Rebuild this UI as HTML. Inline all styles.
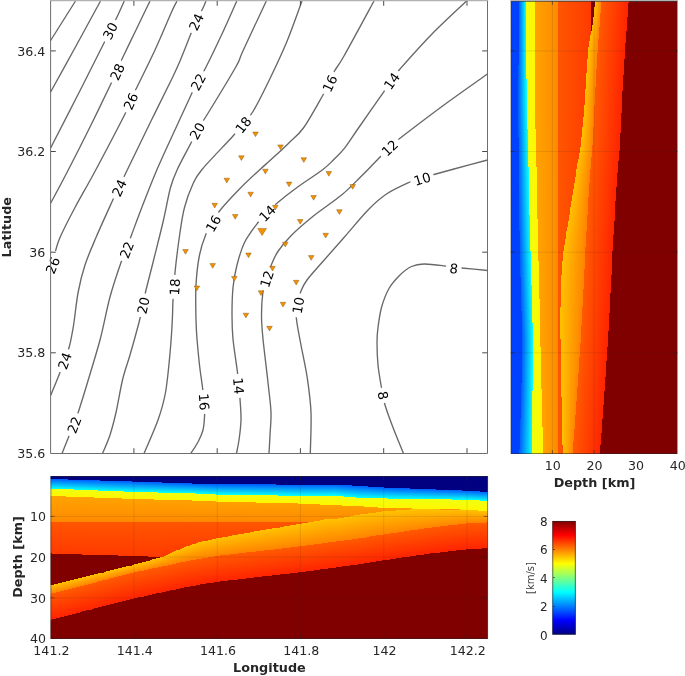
<!DOCTYPE html>
<html lang="en"><head><meta charset="utf-8"><title>Velocity model</title>
<style>
html,body{margin:0;padding:0;background:#fff}
body{width:685px;height:676px;position:relative;overflow:hidden;font-family:"DejaVu Sans","Liberation Sans",sans-serif}
#rp{position:absolute;left:510px;top:1px;width:168px;height:453px;overflow:hidden}
#rp i{display:block;width:100%}
#bp{position:absolute;left:50px;top:476px;width:438px;height:163px;overflow:hidden;display:flex}
#bp i{display:block;height:100%;flex:none}
svg{position:absolute;left:0;top:0;font-family:"DejaVu Sans","Liberation Sans",sans-serif}
</style></head><body>
<div id="rp">
<i style="height:2px;background:linear-gradient(90deg,#ffffff 0.0px,#ffffff 0.7px,#0040ff 0.7px,#0040ff 9.0px,#0060ff 9.0px,#08fff7 15.6px,#f0ff0f 15.6px,#fff600 24.8px,#ffa300 24.8px,#ff8a00 48.0px,#ff5600 48.0px,#ff3a00 81.3px,#800000 81.3px,#800000 84.9px,#ffc200 84.9px,#ff8400 91.3px,#ff5a00 91.3px,#ff2400 118.6px,#800000 118.6px,#800000 167.5px,#ffffff 167.5px,#ffffff 168.0px)"></i>
<i style="height:2px;background:linear-gradient(90deg,#ffffff 0.0px,#ffffff 0.7px,#0040ff 0.7px,#0040ff 9.0px,#0060ff 9.0px,#08fff7 15.6px,#f0ff0f 15.6px,#fff600 24.8px,#ffa300 24.8px,#ff8a00 48.0px,#ff5600 48.0px,#ff3a00 81.3px,#800000 81.3px,#800000 84.8px,#ffc200 84.8px,#ff8400 91.2px,#ff5a00 91.2px,#ff2400 118.5px,#800000 118.5px,#800000 167.5px,#ffffff 167.5px,#ffffff 168.0px)"></i>
<i style="height:2px;background:linear-gradient(90deg,#ffffff 0.0px,#ffffff 0.7px,#0040ff 0.7px,#0040ff 9.0px,#0060ff 9.0px,#08fff7 15.7px,#f0ff0f 15.7px,#fff600 24.8px,#ffa300 24.8px,#ff8a00 48.0px,#ff5600 48.0px,#ff3a00 81.3px,#800000 81.3px,#800000 84.6px,#ffc200 84.6px,#ff8400 91.0px,#ff5a00 91.0px,#ff2400 118.3px,#800000 118.3px,#800000 167.5px,#ffffff 167.5px,#ffffff 168.0px)"></i>
<i style="height:2px;background:linear-gradient(90deg,#ffffff 0.0px,#ffffff 0.7px,#0040ff 0.7px,#0040ff 9.0px,#0060ff 9.0px,#08fff7 15.7px,#f0ff0f 15.7px,#fff600 24.8px,#ffa300 24.8px,#ff8a00 48.0px,#ff5600 48.0px,#ff3a00 81.3px,#800000 81.3px,#800000 84.4px,#ffc200 84.4px,#ff8400 90.9px,#ff5a00 90.9px,#ff2400 118.2px,#800000 118.2px,#800000 167.5px,#ffffff 167.5px,#ffffff 168.0px)"></i>
<i style="height:2px;background:linear-gradient(90deg,#ffffff 0.0px,#ffffff 0.7px,#0040ff 0.7px,#0040ff 8.9px,#0060ff 8.9px,#08fff7 15.7px,#f0ff0f 15.7px,#fff600 24.8px,#ffa300 24.8px,#ff8a00 48.0px,#ff5600 48.0px,#ff3a00 81.3px,#800000 81.3px,#800000 84.3px,#ffc200 84.3px,#ff8400 90.7px,#ff5a00 90.7px,#ff2400 118.0px,#800000 118.0px,#800000 167.5px,#ffffff 167.5px,#ffffff 168.0px)"></i>
<i style="height:2px;background:linear-gradient(90deg,#ffffff 0.0px,#ffffff 0.7px,#0040ff 0.7px,#0040ff 8.9px,#0060ff 8.9px,#08fff7 15.7px,#f0ff0f 15.7px,#fff600 24.8px,#ffa300 24.8px,#ff8a00 48.0px,#ff5600 48.0px,#ff3a00 81.3px,#800000 81.3px,#800000 84.1px,#ffc200 84.1px,#ff8400 90.6px,#ff5a00 90.6px,#ff2400 117.9px,#800000 117.9px,#800000 167.5px,#ffffff 167.5px,#ffffff 168.0px)"></i>
<i style="height:2px;background:linear-gradient(90deg,#ffffff 0.0px,#ffffff 0.7px,#0040ff 0.7px,#0040ff 8.9px,#0060ff 8.9px,#08fff7 15.8px,#f0ff0f 15.8px,#fff600 24.8px,#ffa300 24.8px,#ff8a00 48.0px,#ff5600 48.0px,#ff3a00 81.3px,#800000 81.3px,#800000 83.9px,#ffc200 83.9px,#ff8400 90.4px,#ff5a00 90.4px,#ff2400 117.7px,#800000 117.7px,#800000 167.5px,#ffffff 167.5px,#ffffff 168.0px)"></i>
<i style="height:2px;background:linear-gradient(90deg,#ffffff 0.0px,#ffffff 0.7px,#0040ff 0.7px,#0040ff 8.9px,#0060ff 8.9px,#08fff7 15.8px,#f0ff0f 15.8px,#fff600 24.8px,#ffa300 24.8px,#ff8a00 48.0px,#ff5600 48.0px,#ff3a00 81.3px,#800000 81.3px,#800000 83.6px,#ffc200 83.6px,#ff8400 90.3px,#ff5a00 90.3px,#ff2400 117.6px,#800000 117.6px,#800000 167.5px,#ffffff 167.5px,#ffffff 168.0px)"></i>
<i style="height:2px;background:linear-gradient(90deg,#ffffff 0.0px,#ffffff 0.7px,#0040ff 0.7px,#0040ff 8.9px,#0060ff 8.9px,#08fff7 15.8px,#f0ff0f 15.8px,#fff600 24.8px,#ffa300 24.8px,#ff8a00 48.0px,#ff5600 48.0px,#ff3a00 81.3px,#800000 81.3px,#800000 83.4px,#ffc200 83.4px,#ff8400 90.1px,#ff5a00 90.1px,#ff2400 117.4px,#800000 117.4px,#800000 167.5px,#ffffff 167.5px,#ffffff 168.0px)"></i>
<i style="height:2px;background:linear-gradient(90deg,#ffffff 0.0px,#ffffff 0.7px,#0040ff 0.7px,#0040ff 8.9px,#0060ff 8.9px,#08fff7 15.8px,#f0ff0f 15.8px,#fff600 24.8px,#ffa300 24.8px,#ff8a00 48.0px,#ff5600 48.0px,#ff3a00 81.3px,#800000 81.3px,#800000 83.1px,#ffc200 83.1px,#ff8400 90.0px,#ff5a00 90.0px,#ff2400 117.3px,#800000 117.3px,#800000 167.5px,#ffffff 167.5px,#ffffff 168.0px)"></i>
<i style="height:2px;background:linear-gradient(90deg,#ffffff 0.0px,#ffffff 0.7px,#0040ff 0.7px,#0040ff 8.9px,#0060ff 8.9px,#08fff7 15.9px,#f0ff0f 15.9px,#fff600 24.8px,#ffa300 24.8px,#ff8a00 48.0px,#ff5600 48.0px,#ff3a00 81.3px,#800000 81.3px,#800000 82.9px,#ffc200 82.9px,#ff8400 89.8px,#ff5a00 89.8px,#ff2400 117.1px,#800000 117.1px,#800000 167.5px,#ffffff 167.5px,#ffffff 168.0px)"></i>
<i style="height:2px;background:linear-gradient(90deg,#ffffff 0.0px,#ffffff 0.7px,#0040ff 0.7px,#0040ff 8.8px,#0060ff 8.8px,#08fff7 15.9px,#f0ff0f 15.9px,#fff600 24.8px,#ffa300 24.8px,#ff8a00 48.0px,#ff5600 48.0px,#ff3a00 81.3px,#800000 81.3px,#800000 82.6px,#ffc200 82.6px,#ff8400 89.7px,#ff5a00 89.7px,#ff2400 117.0px,#800000 117.0px,#800000 167.5px,#ffffff 167.5px,#ffffff 168.0px)"></i>
<i style="height:2px;background:linear-gradient(90deg,#ffffff 0.0px,#ffffff 0.7px,#0040ff 0.7px,#0040ff 8.8px,#0060ff 8.8px,#08fff7 15.9px,#f0ff0f 15.9px,#fff600 24.8px,#ffa300 24.8px,#ff8a00 48.0px,#ff5600 48.0px,#ff3a00 81.3px,#800000 81.3px,#800000 82.2px,#ffc200 82.2px,#ff8400 89.6px,#ff5a00 89.6px,#ff2400 116.9px,#800000 116.9px,#800000 167.5px,#ffffff 167.5px,#ffffff 168.0px)"></i>
<i style="height:2px;background:linear-gradient(90deg,#ffffff 0.0px,#ffffff 0.7px,#0040ff 0.7px,#0040ff 8.8px,#0060ff 8.8px,#08fff7 15.9px,#f0ff0f 15.9px,#fff600 24.8px,#ffa300 24.8px,#ff8a00 48.0px,#ff5600 48.0px,#ff3a00 81.3px,#800000 81.3px,#800000 81.9px,#ffc200 81.9px,#ff8400 89.4px,#ff5a00 89.4px,#ff2400 116.7px,#800000 116.7px,#800000 167.5px,#ffffff 167.5px,#ffffff 168.0px)"></i>
<i style="height:2px;background:linear-gradient(90deg,#ffffff 0.0px,#ffffff 0.7px,#0040ff 0.7px,#0040ff 8.8px,#0060ff 8.8px,#08fff7 16.0px,#f0ff0f 16.0px,#fff600 24.8px,#ffa300 24.8px,#ff8a00 48.0px,#ff5600 48.0px,#ff3a00 81.3px,#800000 81.3px,#800000 81.6px,#ffc200 81.6px,#ff8400 89.3px,#ff5a00 89.3px,#ff2400 116.6px,#800000 116.6px,#800000 167.5px,#ffffff 167.5px,#ffffff 168.0px)"></i>
<i style="height:2px;background:linear-gradient(90deg,#ffffff 0.0px,#ffffff 0.7px,#0040ff 0.7px,#0040ff 8.8px,#0060ff 8.8px,#08fff7 16.0px,#f0ff0f 16.0px,#fff600 24.8px,#ffa300 24.8px,#ff8a00 48.0px,#ff5600 48.0px,#ff3a00 81.2px,#ffc200 81.2px,#ff8400 89.1px,#ff5a00 89.1px,#ff2400 116.4px,#800000 116.4px,#800000 167.5px,#ffffff 167.5px,#ffffff 168.0px)"></i>
<i style="height:2px;background:linear-gradient(90deg,#ffffff 0.0px,#ffffff 0.7px,#0040ff 0.7px,#0040ff 8.8px,#0060ff 8.8px,#08fff7 16.0px,#f0ff0f 16.0px,#fff600 24.8px,#ffa300 24.8px,#ff8a00 48.0px,#ff5600 48.0px,#ff3a00 80.9px,#ffc200 80.9px,#ff8400 89.0px,#ff5a00 89.0px,#ff2400 116.3px,#800000 116.3px,#800000 167.5px,#ffffff 167.5px,#ffffff 168.0px)"></i>
<i style="height:2px;background:linear-gradient(90deg,#ffffff 0.0px,#ffffff 0.7px,#0040ff 0.7px,#0040ff 8.8px,#0060ff 8.8px,#08fff7 16.0px,#f0ff0f 16.0px,#fff600 24.8px,#ffa300 24.8px,#ff8a00 48.0px,#ff5600 48.0px,#ff3b00 80.5px,#ffc200 80.5px,#ff8400 88.8px,#ff5a00 88.8px,#ff2400 116.1px,#800000 116.1px,#800000 167.5px,#ffffff 167.5px,#ffffff 168.0px)"></i>
<i style="height:2px;background:linear-gradient(90deg,#ffffff 0.0px,#ffffff 0.7px,#0040ff 0.7px,#0040ff 8.7px,#0060ff 8.7px,#08fff7 16.0px,#f0ff0f 16.0px,#fff600 24.8px,#ffa300 24.8px,#ff8a00 48.0px,#ff5600 48.0px,#ff3b00 80.2px,#ffc200 80.2px,#ff8400 88.7px,#ff5a00 88.7px,#ff2400 116.0px,#800000 116.0px,#800000 167.5px,#ffffff 167.5px,#ffffff 168.0px)"></i>
<i style="height:2px;background:linear-gradient(90deg,#ffffff 0.0px,#ffffff 0.7px,#0040ff 0.7px,#0040ff 8.7px,#0060ff 8.7px,#08fff7 16.1px,#f0ff0f 16.1px,#fff600 24.8px,#ffa300 24.8px,#ff8a00 48.0px,#ff5600 48.0px,#ff3b00 79.9px,#ffc200 79.9px,#ff8400 88.5px,#ff5a00 88.5px,#ff2400 115.8px,#800000 115.8px,#800000 167.5px,#ffffff 167.5px,#ffffff 168.0px)"></i>
<i style="height:2px;background:linear-gradient(90deg,#ffffff 0.0px,#ffffff 0.7px,#0040ff 0.7px,#0040ff 8.7px,#0060ff 8.7px,#08fff7 16.1px,#f0ff0f 16.1px,#fff600 24.8px,#ffa300 24.8px,#ff8a00 48.0px,#ff5600 48.0px,#ff3c00 79.5px,#ffc200 79.5px,#ff8400 88.4px,#ff5a00 88.4px,#ff2400 115.7px,#800000 115.7px,#800000 167.5px,#ffffff 167.5px,#ffffff 168.0px)"></i>
<i style="height:2px;background:linear-gradient(90deg,#ffffff 0.0px,#ffffff 0.7px,#0040ff 0.7px,#0040ff 8.7px,#0060ff 8.7px,#08fff7 16.1px,#f0ff0f 16.1px,#fff600 24.8px,#ffa300 24.8px,#ff8a00 48.0px,#ff5600 48.0px,#ff3c00 79.2px,#ffc200 79.2px,#ff8400 88.2px,#ff5a00 88.2px,#ff2400 115.5px,#800000 115.5px,#800000 167.5px,#ffffff 167.5px,#ffffff 168.0px)"></i>
<i style="height:2px;background:linear-gradient(90deg,#ffffff 0.0px,#ffffff 0.7px,#0040ff 0.7px,#0040ff 8.7px,#0060ff 8.7px,#08fff7 16.1px,#f0ff0f 16.1px,#fff600 24.8px,#ffa300 24.8px,#ff8a00 48.0px,#ff5600 48.0px,#ff3c00 78.8px,#ffc200 78.8px,#ff8400 88.1px,#ff5a00 88.1px,#ff2400 115.4px,#800000 115.4px,#800000 167.5px,#ffffff 167.5px,#ffffff 168.0px)"></i>
<i style="height:2px;background:linear-gradient(90deg,#ffffff 0.0px,#ffffff 0.7px,#0040ff 0.7px,#0040ff 8.7px,#0060ff 8.7px,#08fff7 16.2px,#f0ff0f 16.2px,#fff600 24.8px,#ffa300 24.8px,#ff8a00 48.0px,#ff5600 48.0px,#ff3c00 78.5px,#ffc200 78.5px,#ff8400 87.9px,#ff5a00 87.9px,#ff2400 115.2px,#800000 115.2px,#800000 167.5px,#ffffff 167.5px,#ffffff 168.0px)"></i>
<i style="height:2px;background:linear-gradient(90deg,#ffffff 0.0px,#ffffff 0.7px,#0040ff 0.7px,#0040ff 8.7px,#0060ff 8.7px,#08fff7 16.2px,#f0ff0f 16.2px,#fff600 24.8px,#ffa300 24.8px,#ff8a00 48.0px,#ff5600 48.0px,#ff3d00 78.2px,#ffc200 78.2px,#ff8400 87.8px,#ff5a00 87.8px,#ff2400 115.1px,#800000 115.1px,#800000 167.5px,#ffffff 167.5px,#ffffff 168.0px)"></i>
<i style="height:2px;background:linear-gradient(90deg,#ffffff 0.0px,#ffffff 0.7px,#0040ff 0.7px,#0040ff 8.6px,#0060ff 8.6px,#08fff7 16.2px,#f0ff0f 16.2px,#fff600 24.8px,#ffa300 24.8px,#ff8a00 48.0px,#ff5600 48.0px,#ff3d00 77.9px,#ffc200 77.9px,#ff8400 87.6px,#ff5a00 87.6px,#ff2400 114.9px,#800000 114.9px,#800000 167.5px,#ffffff 167.5px,#ffffff 168.0px)"></i>
<i style="height:2px;background:linear-gradient(90deg,#ffffff 0.0px,#ffffff 0.7px,#0040ff 0.7px,#0040ff 8.6px,#0060ff 8.6px,#08fff7 16.2px,#f0ff0f 16.2px,#fff600 24.8px,#ffa300 24.8px,#ff8a00 48.0px,#ff5600 48.0px,#ff3d00 77.8px,#ffc200 77.8px,#ff8400 87.5px,#ff5a00 87.5px,#ff2400 114.8px,#800000 114.8px,#800000 167.5px,#ffffff 167.5px,#ffffff 168.0px)"></i>
<i style="height:2px;background:linear-gradient(90deg,#ffffff 0.0px,#ffffff 0.7px,#0040ff 0.7px,#0040ff 8.6px,#0060ff 8.6px,#08fff7 16.3px,#f0ff0f 16.3px,#fff600 24.8px,#ffa300 24.8px,#ff8a00 48.0px,#ff5600 48.0px,#ff3d00 77.7px,#ffc200 77.7px,#ff8400 87.4px,#ff5a00 87.4px,#ff2400 114.7px,#800000 114.7px,#800000 167.5px,#ffffff 167.5px,#ffffff 168.0px)"></i>
<i style="height:2px;background:linear-gradient(90deg,#ffffff 0.0px,#ffffff 0.7px,#0040ff 0.7px,#0040ff 8.6px,#0060ff 8.6px,#08fff7 16.3px,#f0ff0f 16.3px,#fff600 24.8px,#ffa300 24.8px,#ff8a00 48.0px,#ff5600 48.0px,#ff3d00 77.6px,#ffc200 77.6px,#ff8400 87.3px,#ff5a00 87.3px,#ff2400 114.6px,#800000 114.6px,#800000 167.5px,#ffffff 167.5px,#ffffff 168.0px)"></i>
<i style="height:2px;background:linear-gradient(90deg,#ffffff 0.0px,#ffffff 0.7px,#0040ff 0.7px,#0040ff 8.6px,#0060ff 8.6px,#08fff7 16.3px,#f0ff0f 16.3px,#fff600 24.8px,#ffa300 24.8px,#ff8a00 48.0px,#ff5600 48.0px,#ff3d00 77.4px,#ffc200 77.4px,#ff8400 87.1px,#ff5a00 87.1px,#ff2400 114.4px,#800000 114.4px,#800000 167.5px,#ffffff 167.5px,#ffffff 168.0px)"></i>
<i style="height:2px;background:linear-gradient(90deg,#ffffff 0.0px,#ffffff 0.7px,#0040ff 0.7px,#0040ff 8.6px,#0060ff 8.6px,#08fff7 16.3px,#f0ff0f 16.3px,#fff600 24.8px,#ffa300 24.8px,#ff8a00 48.0px,#ff5600 48.0px,#ff3d00 77.3px,#ffc200 77.3px,#ff8400 87.0px,#ff5a00 87.0px,#ff2400 114.3px,#800000 114.3px,#800000 167.5px,#ffffff 167.5px,#ffffff 168.0px)"></i>
<i style="height:2px;background:linear-gradient(90deg,#ffffff 0.0px,#ffffff 0.7px,#0040ff 0.7px,#0040ff 8.6px,#0060ff 8.6px,#08fff7 16.4px,#f0ff0f 16.4px,#fff600 24.8px,#ffa300 24.8px,#ff8a00 48.0px,#ff5600 48.0px,#ff3d00 77.2px,#ffc200 77.2px,#ff8400 86.9px,#ff5a00 86.9px,#ff2400 114.2px,#800000 114.2px,#800000 167.5px,#ffffff 167.5px,#ffffff 168.0px)"></i>
<i style="height:2px;background:linear-gradient(90deg,#ffffff 0.0px,#ffffff 0.7px,#0040ff 0.7px,#0040ff 8.5px,#0060ff 8.5px,#08fff7 16.4px,#f0ff0f 16.4px,#fff600 24.8px,#ffa300 24.8px,#ff8a00 48.0px,#ff5600 48.0px,#ff3e00 77.1px,#ffc200 77.1px,#ff8400 86.8px,#ff5a00 86.8px,#ff2400 114.1px,#800000 114.1px,#800000 167.5px,#ffffff 167.5px,#ffffff 168.0px)"></i>
<i style="height:2px;background:linear-gradient(90deg,#ffffff 0.0px,#ffffff 0.7px,#0040ff 0.7px,#0040ff 8.5px,#0060ff 8.5px,#08fff7 16.4px,#f0ff0f 16.4px,#fff600 24.8px,#ffa300 24.8px,#ff8a00 48.0px,#ff5600 48.0px,#ff3e00 76.9px,#ffc200 76.9px,#ff8400 86.7px,#ff5a00 86.7px,#ff2400 114.0px,#800000 114.0px,#800000 167.5px,#ffffff 167.5px,#ffffff 168.0px)"></i>
<i style="height:2px;background:linear-gradient(90deg,#ffffff 0.0px,#ffffff 0.7px,#0040ff 0.7px,#0040ff 8.5px,#0060ff 8.5px,#08fff7 16.4px,#f0ff0f 16.4px,#fff600 24.8px,#ffa300 24.8px,#ff8a00 48.0px,#ff5600 48.0px,#ff3e00 76.8px,#ffc200 76.8px,#ff8400 86.5px,#ff5a00 86.5px,#ff2400 113.8px,#800000 113.8px,#800000 167.5px,#ffffff 167.5px,#ffffff 168.0px)"></i>
<i style="height:2px;background:linear-gradient(90deg,#ffffff 0.0px,#ffffff 0.7px,#0040ff 0.7px,#0040ff 8.5px,#0060ff 8.5px,#08fff7 16.5px,#f0ff0f 16.5px,#fff600 24.8px,#ffa300 24.8px,#ff8a00 48.0px,#ff5600 48.0px,#ff3e00 76.7px,#ffc200 76.7px,#ff8400 86.4px,#ff5a00 86.4px,#ff2400 113.7px,#800000 113.7px,#800000 167.5px,#ffffff 167.5px,#ffffff 168.0px)"></i>
<i style="height:2px;background:linear-gradient(90deg,#ffffff 0.0px,#ffffff 0.7px,#0040ff 0.7px,#0040ff 8.5px,#0060ff 8.5px,#08fff7 16.5px,#f0ff0f 16.5px,#fff600 24.8px,#ffa300 24.8px,#ff8a00 48.0px,#ff5600 48.0px,#ff3e00 76.5px,#ffc200 76.5px,#ff8400 86.3px,#ff5a00 86.3px,#ff2400 113.6px,#800000 113.6px,#800000 167.5px,#ffffff 167.5px,#ffffff 168.0px)"></i>
<i style="height:2px;background:linear-gradient(90deg,#ffffff 0.0px,#ffffff 0.7px,#0040ff 0.7px,#0040ff 8.5px,#0060ff 8.5px,#08fff7 16.5px,#f0ff0f 16.5px,#fff600 24.8px,#ffa300 24.8px,#ff8a00 48.0px,#ff5600 48.0px,#ff3e00 76.4px,#ffc200 76.4px,#ff8400 86.2px,#ff5a00 86.2px,#ff2400 113.5px,#800000 113.5px,#800000 167.5px,#ffffff 167.5px,#ffffff 168.0px)"></i>
<i style="height:2px;background:linear-gradient(90deg,#ffffff 0.0px,#ffffff 0.7px,#0040ff 0.7px,#0040ff 8.5px,#0060ff 8.5px,#08fff7 16.5px,#f0ff0f 16.5px,#fff600 24.8px,#ffa300 24.8px,#ff8a00 48.0px,#ff5600 48.0px,#ff3e00 76.3px,#ffc200 76.3px,#ff8400 86.0px,#ff5a00 86.0px,#ff2400 113.3px,#800000 113.3px,#800000 167.5px,#ffffff 167.5px,#ffffff 168.0px)"></i>
<i style="height:2px;background:linear-gradient(90deg,#ffffff 0.0px,#ffffff 0.7px,#0040ff 0.7px,#0040ff 8.4px,#0060ff 8.4px,#08fff7 16.6px,#f0ff0f 16.6px,#fff600 24.8px,#ffa300 24.8px,#ff8a00 48.0px,#ff5600 48.0px,#ff3e00 76.2px,#ffc200 76.2px,#ff8400 85.9px,#ff5a00 85.9px,#ff2400 113.2px,#800000 113.2px,#800000 167.5px,#ffffff 167.5px,#ffffff 168.0px)"></i>
<i style="height:2px;background:linear-gradient(90deg,#ffffff 0.0px,#ffffff 0.7px,#0040ff 0.7px,#0040ff 8.4px,#0060ff 8.4px,#08fff7 16.6px,#f0ff0f 16.6px,#fff600 24.8px,#ffa300 24.8px,#ff8a00 48.0px,#ff5600 48.0px,#ff3e00 76.0px,#ffc200 76.0px,#ff8400 85.8px,#ff5a00 85.8px,#ff2400 113.1px,#800000 113.1px,#800000 167.5px,#ffffff 167.5px,#ffffff 168.0px)"></i>
<i style="height:2px;background:linear-gradient(90deg,#ffffff 0.0px,#ffffff 0.7px,#0040ff 0.7px,#0040ff 8.4px,#0060ff 8.4px,#08fff7 16.6px,#f0ff0f 16.6px,#fff600 24.8px,#ffa300 24.8px,#ff8a00 48.0px,#ff5600 48.0px,#ff3f00 75.9px,#ffc200 75.9px,#ff8400 85.7px,#ff5a00 85.7px,#ff2400 113.0px,#800000 113.0px,#800000 167.5px,#ffffff 167.5px,#ffffff 168.0px)"></i>
<i style="height:2px;background:linear-gradient(90deg,#ffffff 0.0px,#ffffff 0.7px,#0040ff 0.7px,#0040ff 8.4px,#0060ff 8.4px,#08fff7 16.6px,#f0ff0f 16.6px,#fff600 24.8px,#ffa300 24.8px,#ff8a00 48.0px,#ff5600 48.0px,#ff3f00 75.8px,#ffc200 75.8px,#ff8400 85.6px,#ff5a00 85.6px,#ff2400 112.9px,#800000 112.9px,#800000 167.5px,#ffffff 167.5px,#ffffff 168.0px)"></i>
<i style="height:2px;background:linear-gradient(90deg,#ffffff 0.0px,#ffffff 0.7px,#0040ff 0.7px,#0040ff 8.4px,#0060ff 8.4px,#08fff7 16.7px,#f0ff0f 16.7px,#fff600 24.8px,#ffa300 24.8px,#ff8a00 48.0px,#ff5600 48.0px,#ff3f00 75.7px,#ffc200 75.7px,#ff8400 85.4px,#ff5a00 85.4px,#ff2400 112.7px,#800000 112.7px,#800000 167.5px,#ffffff 167.5px,#ffffff 168.0px)"></i>
<i style="height:2px;background:linear-gradient(90deg,#ffffff 0.0px,#ffffff 0.7px,#0040ff 0.7px,#0040ff 8.4px,#0060ff 8.4px,#08fff7 16.7px,#f0ff0f 16.7px,#fff600 24.8px,#ffa300 24.8px,#ff8a00 48.0px,#ff5600 48.0px,#ff3f00 75.5px,#ffc200 75.5px,#ff8400 85.3px,#ff5a00 85.3px,#ff2400 112.6px,#800000 112.6px,#800000 167.5px,#ffffff 167.5px,#ffffff 168.0px)"></i>
<i style="height:2px;background:linear-gradient(90deg,#ffffff 0.0px,#ffffff 0.7px,#0040ff 0.7px,#0040ff 8.4px,#0060ff 8.4px,#08fff7 16.7px,#f0ff0f 16.7px,#fff600 24.8px,#ffa300 24.8px,#ff8a00 48.0px,#ff5600 48.0px,#ff3f00 75.4px,#ffc200 75.4px,#ff8400 85.2px,#ff5a00 85.2px,#ff2400 112.5px,#800000 112.5px,#800000 167.5px,#ffffff 167.5px,#ffffff 168.0px)"></i>
<i style="height:2px;background:linear-gradient(90deg,#ffffff 0.0px,#ffffff 0.7px,#0040ff 0.7px,#0040ff 8.3px,#0060ff 8.3px,#08fff7 16.7px,#f0ff0f 16.7px,#fff600 24.8px,#ffa300 24.8px,#ff8a00 48.0px,#ff5600 48.0px,#ff3f00 75.3px,#ffc200 75.3px,#ff8400 85.1px,#ff5a00 85.1px,#ff2400 112.4px,#800000 112.4px,#800000 167.5px,#ffffff 167.5px,#ffffff 168.0px)"></i>
<i style="height:2px;background:linear-gradient(90deg,#ffffff 0.0px,#ffffff 0.7px,#0040ff 0.7px,#0040ff 8.3px,#0060ff 8.3px,#08fff7 16.8px,#f0ff0f 16.8px,#fff600 24.8px,#ffa300 24.8px,#ff8a00 48.0px,#ff5600 48.0px,#ff3f00 75.2px,#ffc200 75.2px,#ff8400 84.9px,#ff5a00 84.9px,#ff2400 112.2px,#800000 112.2px,#800000 167.5px,#ffffff 167.5px,#ffffff 168.0px)"></i>
<i style="height:2px;background:linear-gradient(90deg,#ffffff 0.0px,#ffffff 0.7px,#0040ff 0.7px,#0040ff 8.3px,#0060ff 8.3px,#08fff7 16.8px,#f0ff0f 16.8px,#fff600 24.8px,#ffa300 24.8px,#ff8a00 48.0px,#ff5600 48.0px,#ff3f00 75.0px,#ffc200 75.0px,#ff8400 84.8px,#ff5a00 84.8px,#ff2400 112.1px,#800000 112.1px,#800000 167.5px,#ffffff 167.5px,#ffffff 168.0px)"></i>
<i style="height:2px;background:linear-gradient(90deg,#ffffff 0.0px,#ffffff 0.7px,#0040ff 0.7px,#0040ff 8.3px,#0060ff 8.3px,#08fff7 16.8px,#f0ff0f 16.8px,#fff600 24.8px,#ffa300 24.8px,#ff8a00 48.0px,#ff5600 48.0px,#ff3f00 74.9px,#ffc200 74.9px,#ff8400 84.7px,#ff5a00 84.7px,#ff2400 112.0px,#800000 112.0px,#800000 167.5px,#ffffff 167.5px,#ffffff 168.0px)"></i>
<i style="height:2px;background:linear-gradient(90deg,#ffffff 0.0px,#ffffff 0.7px,#0040ff 0.7px,#0040ff 8.3px,#0060ff 8.3px,#08fff7 16.9px,#f0ff0f 16.9px,#fff600 24.9px,#ffa300 24.9px,#ff8a00 48.0px,#ff5600 48.0px,#ff4000 74.7px,#ffc200 74.7px,#ff8400 84.6px,#ff5a00 84.6px,#ff2400 111.9px,#800000 111.9px,#800000 167.5px,#ffffff 167.5px,#ffffff 168.0px)"></i>
<i style="height:2px;background:linear-gradient(90deg,#ffffff 0.0px,#ffffff 0.7px,#0040ff 0.7px,#0040ff 8.3px,#0060ff 8.3px,#08fff7 16.9px,#f0ff0f 16.9px,#fff600 24.9px,#ffa300 24.9px,#ff8a00 48.0px,#ff5600 48.0px,#ff4000 74.6px,#ffc200 74.6px,#ff8400 84.6px,#ff5a00 84.6px,#ff2400 111.9px,#800000 111.9px,#800000 167.5px,#ffffff 167.5px,#ffffff 168.0px)"></i>
<i style="height:2px;background:linear-gradient(90deg,#ffffff 0.0px,#ffffff 0.7px,#0040ff 0.7px,#0040ff 8.3px,#0060ff 8.3px,#08fff7 17.0px,#f0ff0f 17.0px,#fff600 25.0px,#ffa300 25.0px,#ff8a00 48.0px,#ff5600 48.0px,#ff4000 74.4px,#ffc200 74.4px,#ff8400 84.5px,#ff5a00 84.5px,#ff2400 111.8px,#800000 111.8px,#800000 167.5px,#ffffff 167.5px,#ffffff 168.0px)"></i>
<i style="height:2px;background:linear-gradient(90deg,#ffffff 0.0px,#ffffff 0.7px,#0040ff 0.7px,#0040ff 8.4px,#0060ff 8.4px,#08fff7 17.0px,#f0ff0f 17.0px,#fff600 25.0px,#ffa300 25.0px,#ff8a00 48.0px,#ff5600 48.0px,#ff4000 74.3px,#ffc200 74.3px,#ff8400 84.4px,#ff5a00 84.4px,#ff2400 111.7px,#800000 111.7px,#800000 167.5px,#ffffff 167.5px,#ffffff 168.0px)"></i>
<i style="height:2px;background:linear-gradient(90deg,#ffffff 0.0px,#ffffff 0.7px,#0040ff 0.7px,#0040ff 8.4px,#0060ff 8.4px,#08fff7 17.1px,#f0ff0f 17.1px,#fff600 25.1px,#ffa300 25.1px,#ff8a00 48.0px,#ff5600 48.0px,#ff4000 74.1px,#ffc200 74.1px,#ff8400 84.4px,#ff5a00 84.4px,#ff2400 111.6px,#800000 111.6px,#800000 167.5px,#ffffff 167.5px,#ffffff 168.0px)"></i>
<i style="height:2px;background:linear-gradient(90deg,#ffffff 0.0px,#ffffff 0.7px,#0040ff 0.7px,#0040ff 8.4px,#0060ff 8.4px,#08fff7 17.1px,#f0ff0f 17.1px,#fff600 25.1px,#ffa300 25.1px,#ff8a00 48.0px,#ff5600 48.0px,#ff4000 73.9px,#ffc200 73.9px,#ff8400 84.3px,#ff5a00 84.3px,#ff2400 111.6px,#800000 111.6px,#800000 167.5px,#ffffff 167.5px,#ffffff 168.0px)"></i>
<i style="height:2px;background:linear-gradient(90deg,#ffffff 0.0px,#ffffff 0.7px,#0040ff 0.7px,#0040ff 8.4px,#0060ff 8.4px,#08fff7 17.2px,#f0ff0f 17.2px,#fff600 25.2px,#ffa300 25.2px,#ff8a00 48.0px,#ff5600 48.0px,#ff4000 73.8px,#ffc200 73.8px,#ff8400 84.2px,#ff5a00 84.2px,#ff2400 111.5px,#800000 111.5px,#800000 167.5px,#ffffff 167.5px,#ffffff 168.0px)"></i>
<i style="height:2px;background:linear-gradient(90deg,#ffffff 0.0px,#ffffff 0.7px,#0040ff 0.7px,#0040ff 8.4px,#0060ff 8.4px,#08fff7 17.2px,#f0ff0f 17.2px,#fff600 25.2px,#ffa300 25.2px,#ff8a00 48.0px,#ff5600 48.0px,#ff4000 73.6px,#ffc200 73.6px,#ff8400 84.1px,#ff5a00 84.1px,#ff2400 111.4px,#800000 111.4px,#800000 167.5px,#ffffff 167.5px,#ffffff 168.0px)"></i>
<i style="height:2px;background:linear-gradient(90deg,#ffffff 0.0px,#ffffff 0.7px,#0040ff 0.7px,#0040ff 8.4px,#0060ff 8.4px,#08fff7 17.3px,#f0ff0f 17.3px,#fff600 25.3px,#ffa300 25.3px,#ff8a00 48.0px,#ff5600 48.0px,#ff4100 73.5px,#ffc200 73.5px,#ff8400 84.1px,#ff5a00 84.1px,#ff2400 111.4px,#800000 111.4px,#800000 167.5px,#ffffff 167.5px,#ffffff 168.0px)"></i>
<i style="height:2px;background:linear-gradient(90deg,#ffffff 0.0px,#ffffff 0.7px,#0040ff 0.7px,#0040ff 8.4px,#0060ff 8.4px,#08fff7 17.3px,#f0ff0f 17.3px,#fff600 25.3px,#ffa300 25.3px,#ff8a00 48.0px,#ff5600 48.0px,#ff4100 73.3px,#ffc200 73.3px,#ff8400 84.0px,#ff5a00 84.0px,#ff2400 111.3px,#800000 111.3px,#800000 167.5px,#ffffff 167.5px,#ffffff 168.0px)"></i>
<i style="height:2px;background:linear-gradient(90deg,#ffffff 0.0px,#ffffff 0.7px,#0040ff 0.7px,#0040ff 8.4px,#0060ff 8.4px,#08fff7 17.4px,#f0ff0f 17.4px,#fff600 25.4px,#ffa300 25.4px,#ff8a00 48.0px,#ff5600 48.0px,#ff4100 73.1px,#ffc200 73.1px,#ff8400 83.9px,#ff5a00 83.9px,#ff2400 111.2px,#800000 111.2px,#800000 167.5px,#ffffff 167.5px,#ffffff 168.0px)"></i>
<i style="height:2px;background:linear-gradient(90deg,#ffffff 0.0px,#ffffff 0.7px,#0040ff 0.7px,#0040ff 8.5px,#0060ff 8.5px,#08fff7 17.4px,#f0ff0f 17.4px,#fff600 25.4px,#ffa300 25.4px,#ff8a00 48.0px,#ff5600 48.0px,#ff4100 72.9px,#ffc200 72.9px,#ff8400 83.8px,#ff5a00 83.8px,#ff2400 111.1px,#800000 111.1px,#800000 167.5px,#ffffff 167.5px,#ffffff 168.0px)"></i>
<i style="height:2px;background:linear-gradient(90deg,#ffffff 0.0px,#ffffff 0.7px,#0040ff 0.7px,#0040ff 8.5px,#0060ff 8.5px,#08fff7 17.5px,#f0ff0f 17.5px,#fff600 25.5px,#ffa300 25.5px,#ff8a00 48.0px,#ff5600 48.0px,#ff4100 72.7px,#ffc200 72.7px,#ff8400 83.7px,#ff5a00 83.7px,#ff2400 111.0px,#800000 111.0px,#800000 167.5px,#ffffff 167.5px,#ffffff 168.0px)"></i>
<i style="height:2px;background:linear-gradient(90deg,#ffffff 0.0px,#ffffff 0.7px,#0040ff 0.7px,#0040ff 8.5px,#0060ff 8.5px,#08fff7 17.5px,#f0ff0f 17.5px,#fff600 25.5px,#ffa300 25.5px,#ff8a00 48.0px,#ff5600 48.0px,#ff4100 72.5px,#ffc200 72.5px,#ff8400 83.5px,#ff5a00 83.5px,#ff2400 110.8px,#800000 110.8px,#800000 167.5px,#ffffff 167.5px,#ffffff 168.0px)"></i>
<i style="height:2px;background:linear-gradient(90deg,#ffffff 0.0px,#ffffff 0.7px,#0040ff 0.7px,#0040ff 8.5px,#0060ff 8.5px,#08fff7 17.6px,#f0ff0f 17.6px,#fff600 25.6px,#ffa300 25.6px,#ff8a00 48.0px,#ff5600 48.0px,#ff4200 72.3px,#ffc200 72.3px,#ff8400 83.4px,#ff5a00 83.4px,#ff2400 110.7px,#800000 110.7px,#800000 167.5px,#ffffff 167.5px,#ffffff 168.0px)"></i>
<i style="height:2px;background:linear-gradient(90deg,#ffffff 0.0px,#ffffff 0.7px,#0040ff 0.7px,#0040ff 8.5px,#0060ff 8.5px,#08fff7 17.7px,#f0ff0f 17.7px,#fff600 25.7px,#ffa300 25.7px,#ff8a00 48.0px,#ff5600 48.0px,#ff4200 72.1px,#ffc200 72.1px,#ff8400 83.3px,#ff5a00 83.3px,#ff2400 110.6px,#800000 110.6px,#800000 167.5px,#ffffff 167.5px,#ffffff 168.0px)"></i>
<i style="height:2px;background:linear-gradient(90deg,#ffffff 0.0px,#ffffff 0.7px,#0040ff 0.7px,#0040ff 8.5px,#0060ff 8.5px,#08fff7 17.7px,#f0ff0f 17.7px,#fff600 25.7px,#ffa300 25.7px,#ff8a00 48.0px,#ff5600 48.0px,#ff4200 71.9px,#ffc200 71.9px,#ff8400 83.2px,#ff5a00 83.2px,#ff2400 110.5px,#800000 110.5px,#800000 167.5px,#ffffff 167.5px,#ffffff 168.0px)"></i>
<i style="height:2px;background:linear-gradient(90deg,#ffffff 0.0px,#ffffff 0.7px,#0040ff 0.7px,#0040ff 8.5px,#0060ff 8.5px,#08fff7 17.8px,#f0ff0f 17.8px,#fff600 25.8px,#ffa300 25.8px,#ff8a00 48.0px,#ff5600 48.0px,#ff4200 71.6px,#ffc200 71.6px,#ff8400 83.1px,#ff5a00 83.1px,#ff2400 110.4px,#800000 110.4px,#800000 167.5px,#ffffff 167.5px,#ffffff 168.0px)"></i>
<i style="height:2px;background:linear-gradient(90deg,#ffffff 0.0px,#ffffff 0.7px,#0040ff 0.7px,#0040ff 8.6px,#0060ff 8.6px,#08fff7 17.8px,#f0ff0f 17.8px,#fff600 25.8px,#ffa300 25.8px,#ff8a00 48.0px,#ff5600 48.0px,#ff4200 71.4px,#ffc200 71.4px,#ff8400 83.0px,#ff5a00 83.0px,#ff2400 110.3px,#800000 110.3px,#800000 167.5px,#ffffff 167.5px,#ffffff 168.0px)"></i>
<i style="height:2px;background:linear-gradient(90deg,#ffffff 0.0px,#ffffff 0.7px,#0040ff 0.7px,#0040ff 8.6px,#0060ff 8.6px,#08fff7 17.9px,#f0ff0f 17.9px,#fff600 25.9px,#ffa300 25.9px,#ff8a00 48.0px,#ff5600 48.0px,#ff4200 71.2px,#ffc200 71.2px,#ff8400 82.9px,#ff5a00 82.9px,#ff2400 110.2px,#800000 110.2px,#800000 167.5px,#ffffff 167.5px,#ffffff 168.0px)"></i>
<i style="height:2px;background:linear-gradient(90deg,#ffffff 0.0px,#ffffff 0.7px,#0040ff 0.7px,#0040ff 8.6px,#0060ff 8.6px,#08fff7 17.9px,#f0ff0f 17.9px,#fff600 25.9px,#ffa300 25.9px,#ff8a00 48.0px,#ff5600 48.0px,#ff4300 71.0px,#ffc200 71.0px,#ff8400 82.8px,#ff5a00 82.8px,#ff2400 110.1px,#800000 110.1px,#800000 167.5px,#ffffff 167.5px,#ffffff 168.0px)"></i>
<i style="height:2px;background:linear-gradient(90deg,#ffffff 0.0px,#ffffff 0.7px,#0040ff 0.7px,#0040ff 8.6px,#0060ff 8.6px,#08fff7 18.0px,#f0ff0f 18.0px,#fff600 26.0px,#ffa300 26.0px,#ff8a00 48.0px,#ff5600 48.0px,#ff4300 70.8px,#ffc200 70.8px,#ff8400 82.7px,#ff5a00 82.7px,#ff2400 110.0px,#800000 110.0px,#800000 167.5px,#ffffff 167.5px,#ffffff 168.0px)"></i>
<i style="height:2px;background:linear-gradient(90deg,#ffffff 0.0px,#ffffff 0.7px,#0040ff 0.7px,#0040ff 8.6px,#0060ff 8.6px,#08fff7 18.0px,#f0ff0f 18.0px,#fff600 26.0px,#ffa300 26.0px,#ff8a00 48.0px,#ff5600 48.0px,#ff4300 70.6px,#ffc200 70.6px,#ff8400 82.5px,#ff5a00 82.5px,#ff2400 109.8px,#800000 109.8px,#800000 167.5px,#ffffff 167.5px,#ffffff 168.0px)"></i>
<i style="height:2px;background:linear-gradient(90deg,#ffffff 0.0px,#ffffff 0.7px,#0040ff 0.7px,#0040ff 8.6px,#0060ff 8.6px,#08fff7 18.1px,#f0ff0f 18.1px,#fff600 26.1px,#ffa300 26.1px,#ff8a00 48.0px,#ff5600 48.0px,#ff4300 70.4px,#ffc200 70.4px,#ff8400 82.4px,#ff5a00 82.4px,#ff2400 109.7px,#800000 109.7px,#800000 167.5px,#ffffff 167.5px,#ffffff 168.0px)"></i>
<i style="height:2px;background:linear-gradient(90deg,#ffffff 0.0px,#ffffff 0.7px,#0040ff 0.7px,#0040ff 8.6px,#0060ff 8.6px,#08fff7 18.1px,#f0ff0f 18.1px,#fff600 26.1px,#ffa300 26.1px,#ff8a00 48.0px,#ff5600 48.0px,#ff4300 70.2px,#ffc200 70.2px,#ff8400 82.3px,#ff5a00 82.3px,#ff2400 109.6px,#800000 109.6px,#800000 167.5px,#ffffff 167.5px,#ffffff 168.0px)"></i>
<i style="height:2px;background:linear-gradient(90deg,#ffffff 0.0px,#ffffff 0.7px,#0040ff 0.7px,#0040ff 8.6px,#0060ff 8.6px,#08fff7 18.2px,#f0ff0f 18.2px,#fff600 26.2px,#ffa300 26.2px,#ff8a00 48.0px,#ff5600 48.0px,#ff4400 70.0px,#ffc200 70.0px,#ff8400 82.2px,#ff5a00 82.2px,#ff2400 109.5px,#800000 109.5px,#800000 167.5px,#ffffff 167.5px,#ffffff 168.0px)"></i>
<i style="height:2px;background:linear-gradient(90deg,#ffffff 0.0px,#ffffff 0.7px,#0040ff 0.7px,#0040ff 8.7px,#0060ff 8.7px,#08fff7 18.2px,#f0ff0f 18.2px,#fff600 26.2px,#ffa300 26.2px,#ff8a00 48.0px,#ff5600 48.0px,#ff4400 69.5px,#ffc200 69.5px,#ff8400 82.0px,#ff5a00 82.0px,#ff2400 109.3px,#800000 109.3px,#800000 167.5px,#ffffff 167.5px,#ffffff 168.0px)"></i>
<i style="height:2px;background:linear-gradient(90deg,#ffffff 0.0px,#ffffff 0.7px,#0040ff 0.7px,#0040ff 8.7px,#0060ff 8.7px,#08fff7 18.3px,#f0ff0f 18.3px,#fff600 26.3px,#ffa300 26.3px,#ff8a00 48.0px,#ff5600 48.0px,#ff4400 69.0px,#ffc200 69.0px,#ff8400 81.8px,#ff5a00 81.8px,#ff2400 109.0px,#800000 109.0px,#800000 167.5px,#ffffff 167.5px,#ffffff 168.0px)"></i>
<i style="height:2px;background:linear-gradient(90deg,#ffffff 0.0px,#ffffff 0.7px,#0040ff 0.7px,#0040ff 8.7px,#0060ff 8.7px,#08fff7 18.3px,#f0ff0f 18.3px,#fff600 26.3px,#ffa300 26.3px,#ff8a00 48.0px,#ff5600 48.0px,#ff4500 68.6px,#ffc200 68.6px,#ff8400 81.5px,#ff5a00 81.5px,#ff2400 108.8px,#800000 108.8px,#800000 167.5px,#ffffff 167.5px,#ffffff 168.0px)"></i>
<i style="height:2px;background:linear-gradient(90deg,#ffffff 0.0px,#ffffff 0.7px,#0040ff 0.7px,#0040ff 8.7px,#0060ff 8.7px,#08fff7 18.4px,#f0ff0f 18.4px,#fff600 26.4px,#ffa300 26.4px,#ff8a00 48.0px,#ff5600 48.0px,#ff4500 68.1px,#ffc200 68.1px,#ff8400 81.3px,#ff5a00 81.3px,#ff2400 108.6px,#800000 108.6px,#800000 167.5px,#ffffff 167.5px,#ffffff 168.0px)"></i>
<i style="height:2px;background:linear-gradient(90deg,#ffffff 0.0px,#ffffff 0.7px,#0040ff 0.7px,#0040ff 8.7px,#0060ff 8.7px,#08fff7 18.4px,#f0ff0f 18.4px,#fff600 26.4px,#ffa300 26.4px,#ff8a00 48.0px,#ff5600 48.0px,#ff4500 67.8px,#ffc200 67.8px,#ff8400 81.1px,#ff5a00 81.1px,#ff2400 108.4px,#800000 108.4px,#800000 167.5px,#ffffff 167.5px,#ffffff 168.0px)"></i>
<i style="height:2px;background:linear-gradient(90deg,#ffffff 0.0px,#ffffff 0.7px,#0040ff 0.7px,#0040ff 8.7px,#0060ff 8.7px,#08fff7 18.5px,#f0ff0f 18.5px,#fff600 26.5px,#ffa300 26.5px,#ff8a00 48.0px,#ff5600 48.0px,#ff4600 67.5px,#ffc200 67.5px,#ff8400 81.0px,#ff5a00 81.0px,#ff2400 108.3px,#800000 108.3px,#800000 167.5px,#ffffff 167.5px,#ffffff 168.0px)"></i>
<i style="height:2px;background:linear-gradient(90deg,#ffffff 0.0px,#ffffff 0.7px,#0040ff 0.7px,#0040ff 8.8px,#0060ff 8.8px,#08fff7 18.5px,#f0ff0f 18.5px,#fff600 26.5px,#ffa300 26.5px,#ff8a00 48.0px,#ff5600 48.0px,#ff4600 67.1px,#ffc200 67.1px,#ff8400 80.8px,#ff5a00 80.8px,#ff2400 108.1px,#800000 108.1px,#800000 167.5px,#ffffff 167.5px,#ffffff 168.0px)"></i>
<i style="height:2px;background:linear-gradient(90deg,#ffffff 0.0px,#ffffff 0.7px,#0040ff 0.7px,#0040ff 8.8px,#0060ff 8.8px,#08fff7 18.6px,#f0ff0f 18.6px,#fff600 26.6px,#ffa300 26.6px,#ff8a00 48.0px,#ff5600 48.0px,#ff4600 66.8px,#ffc200 66.8px,#ff8400 80.7px,#ff5a00 80.7px,#ff2400 108.0px,#800000 108.0px,#800000 167.5px,#ffffff 167.5px,#ffffff 168.0px)"></i>
<i style="height:2px;background:linear-gradient(90deg,#ffffff 0.0px,#ffffff 0.7px,#0040ff 0.7px,#0040ff 8.8px,#0060ff 8.8px,#08fff7 18.6px,#f0ff0f 18.6px,#fff600 26.6px,#ffa300 26.6px,#ff8a00 48.0px,#ff5600 48.0px,#ff4600 66.5px,#ffc200 66.5px,#ff8400 80.5px,#ff5a00 80.5px,#ff2400 107.8px,#800000 107.8px,#800000 167.5px,#ffffff 167.5px,#ffffff 168.0px)"></i>
<i style="height:2px;background:linear-gradient(90deg,#ffffff 0.0px,#ffffff 0.7px,#0040ff 0.7px,#0040ff 8.8px,#0060ff 8.8px,#08fff7 18.6px,#f0ff0f 18.6px,#fff600 26.6px,#ffa300 26.6px,#ff8a00 48.0px,#ff5600 48.0px,#ff4700 66.2px,#ffc200 66.2px,#ff8400 80.4px,#ff5a00 80.4px,#ff2400 107.7px,#800000 107.7px,#800000 167.5px,#ffffff 167.5px,#ffffff 168.0px)"></i>
<i style="height:2px;background:linear-gradient(90deg,#ffffff 0.0px,#ffffff 0.7px,#0040ff 0.7px,#0040ff 8.8px,#0060ff 8.8px,#08fff7 18.7px,#f0ff0f 18.7px,#fff600 26.7px,#ffa300 26.7px,#ff8a00 48.0px,#ff5600 48.0px,#ff4700 65.9px,#ffc200 65.9px,#ff8400 80.2px,#ff5a00 80.2px,#ff2400 107.5px,#800000 107.5px,#800000 167.5px,#ffffff 167.5px,#ffffff 168.0px)"></i>
<i style="height:2px;background:linear-gradient(90deg,#ffffff 0.0px,#ffffff 0.7px,#0040ff 0.7px,#0040ff 8.9px,#0060ff 8.9px,#08fff7 18.7px,#f0ff0f 18.7px,#fff600 26.7px,#ffa300 26.7px,#ff8a00 48.0px,#ff5600 48.0px,#ff4700 65.6px,#ffc200 65.6px,#ff8400 80.1px,#ff5a00 80.1px,#ff2400 107.4px,#800000 107.4px,#800000 167.5px,#ffffff 167.5px,#ffffff 168.0px)"></i>
<i style="height:2px;background:linear-gradient(90deg,#ffffff 0.0px,#ffffff 0.7px,#0040ff 0.7px,#0040ff 8.9px,#0060ff 8.9px,#08fff7 18.8px,#f0ff0f 18.8px,#fff600 26.7px,#ffa300 26.7px,#ff8a00 48.0px,#ff5600 48.0px,#ff4700 65.2px,#ffc200 65.2px,#ff8400 79.9px,#ff5a00 79.9px,#ff2400 107.2px,#800000 107.2px,#800000 167.5px,#ffffff 167.5px,#ffffff 168.0px)"></i>
<i style="height:2px;background:linear-gradient(90deg,#ffffff 0.0px,#ffffff 0.7px,#0040ff 0.7px,#0040ff 8.9px,#0060ff 8.9px,#08fff7 18.8px,#f0ff0f 18.8px,#fff600 26.8px,#ffa300 26.8px,#ff8a00 48.0px,#ff5600 48.0px,#ff4800 64.9px,#ffc200 64.9px,#ff8400 79.8px,#ff5a00 79.8px,#ff2400 107.1px,#800000 107.1px,#800000 167.5px,#ffffff 167.5px,#ffffff 168.0px)"></i>
<i style="height:2px;background:linear-gradient(90deg,#ffffff 0.0px,#ffffff 0.7px,#0040ff 0.7px,#0040ff 8.9px,#0060ff 8.9px,#08fff7 18.9px,#f0ff0f 18.9px,#fff600 26.8px,#ffa300 26.8px,#ff8a00 48.0px,#ff5600 48.0px,#ff4800 64.6px,#ffc200 64.6px,#ff8400 79.6px,#ff5a00 79.6px,#ff2400 106.9px,#800000 106.9px,#800000 167.5px,#ffffff 167.5px,#ffffff 168.0px)"></i>
<i style="height:2px;background:linear-gradient(90deg,#ffffff 0.0px,#ffffff 0.7px,#0040ff 0.7px,#0040ff 8.9px,#0060ff 8.9px,#08fff7 18.9px,#f0ff0f 18.9px,#fff600 26.9px,#ffa300 26.9px,#ff8a00 48.0px,#ff5600 48.0px,#ff4800 64.3px,#ffc200 64.3px,#ff8400 79.5px,#ff5a00 79.5px,#ff2400 106.8px,#800000 106.8px,#800000 167.5px,#ffffff 167.5px,#ffffff 168.0px)"></i>
<i style="height:2px;background:linear-gradient(90deg,#ffffff 0.0px,#ffffff 0.7px,#0040ff 0.7px,#0040ff 8.9px,#0060ff 8.9px,#08fff7 18.9px,#f0ff0f 18.9px,#fff600 26.9px,#ffa300 26.9px,#ff8a00 48.0px,#ff5600 48.0px,#ff4900 64.0px,#ffc200 64.0px,#ff8400 79.3px,#ff5a00 79.3px,#ff2400 106.6px,#800000 106.6px,#800000 167.5px,#ffffff 167.5px,#ffffff 168.0px)"></i>
<i style="height:2px;background:linear-gradient(90deg,#ffffff 0.0px,#ffffff 0.7px,#0040ff 0.7px,#0040ff 9.0px,#0060ff 9.0px,#08fff7 19.0px,#f0ff0f 19.0px,#fff600 26.9px,#ffa300 26.9px,#ff8a00 48.0px,#ff5600 48.0px,#ff4900 63.7px,#ffc200 63.7px,#ff8400 79.2px,#ff5a00 79.2px,#ff2400 106.5px,#800000 106.5px,#800000 167.5px,#ffffff 167.5px,#ffffff 168.0px)"></i>
<i style="height:2px;background:linear-gradient(90deg,#ffffff 0.0px,#ffffff 0.7px,#0040ff 0.7px,#0040ff 9.0px,#0060ff 9.0px,#08fff7 19.0px,#f0ff0f 19.0px,#fff600 27.0px,#ffa300 27.0px,#ff8a00 48.0px,#ff5600 48.0px,#ff4900 63.3px,#ffc200 63.3px,#ff8400 79.0px,#ff5a00 79.0px,#ff2400 106.3px,#800000 106.3px,#800000 167.5px,#ffffff 167.5px,#ffffff 168.0px)"></i>
<i style="height:2px;background:linear-gradient(90deg,#ffffff 0.0px,#ffffff 0.7px,#0040ff 0.7px,#0040ff 9.0px,#0060ff 9.0px,#08fff7 19.1px,#f0ff0f 19.1px,#fff600 27.0px,#ffa300 27.0px,#ff8a00 48.0px,#ff5600 48.0px,#ff4900 63.0px,#ffc200 63.0px,#ff8400 78.9px,#ff5a00 78.9px,#ff2400 106.2px,#800000 106.2px,#800000 167.5px,#ffffff 167.5px,#ffffff 168.0px)"></i>
<i style="height:2px;background:linear-gradient(90deg,#ffffff 0.0px,#ffffff 0.7px,#0040ff 0.7px,#0040ff 9.0px,#0060ff 9.0px,#08fff7 19.1px,#f0ff0f 19.1px,#fff600 27.0px,#ffa300 27.0px,#ff8a00 48.0px,#ff5600 48.0px,#ff4a00 62.7px,#ffc200 62.7px,#ff8400 78.7px,#ff5a00 78.7px,#ff2400 106.0px,#800000 106.0px,#800000 167.5px,#ffffff 167.5px,#ffffff 168.0px)"></i>
<i style="height:2px;background:linear-gradient(90deg,#ffffff 0.0px,#ffffff 0.7px,#0040ff 0.7px,#0040ff 9.0px,#0060ff 9.0px,#08fff7 19.1px,#f0ff0f 19.1px,#fff600 27.1px,#ffa300 27.1px,#ff8a00 48.0px,#ff5600 48.0px,#ff4a00 62.4px,#ffc200 62.4px,#ff8400 78.6px,#ff5a00 78.6px,#ff2400 105.9px,#800000 105.9px,#800000 167.5px,#ffffff 167.5px,#ffffff 168.0px)"></i>
<i style="height:2px;background:linear-gradient(90deg,#ffffff 0.0px,#ffffff 0.7px,#0040ff 0.7px,#0040ff 9.1px,#0060ff 9.1px,#08fff7 19.2px,#f0ff0f 19.2px,#fff600 27.1px,#ffa300 27.1px,#ff8a00 48.0px,#ff5600 48.0px,#ff4a00 62.1px,#ffc200 62.1px,#ff8400 78.4px,#ff5a00 78.4px,#ff2400 105.7px,#800000 105.7px,#800000 167.5px,#ffffff 167.5px,#ffffff 168.0px)"></i>
<i style="height:2px;background:linear-gradient(90deg,#ffffff 0.0px,#ffffff 0.7px,#0040ff 0.7px,#0040ff 9.1px,#0060ff 9.1px,#08fff7 19.2px,#f0ff0f 19.2px,#fff600 27.2px,#ffa300 27.2px,#ff8a00 48.0px,#ff5600 48.0px,#ff4a00 61.8px,#ffc200 61.8px,#ff8400 78.3px,#ff5a00 78.3px,#ff2400 105.6px,#800000 105.6px,#800000 167.5px,#ffffff 167.5px,#ffffff 168.0px)"></i>
<i style="height:2px;background:linear-gradient(90deg,#ffffff 0.0px,#ffffff 0.7px,#0040ff 0.7px,#0040ff 9.1px,#0060ff 9.1px,#08fff7 19.3px,#f0ff0f 19.3px,#fff600 27.2px,#ffa300 27.2px,#ff8a00 48.0px,#ff5600 48.0px,#ff4b00 61.5px,#ffc200 61.5px,#ff8400 78.2px,#ff5a00 78.2px,#ff2400 105.5px,#800000 105.5px,#800000 167.5px,#ffffff 167.5px,#ffffff 168.0px)"></i>
<i style="height:2px;background:linear-gradient(90deg,#ffffff 0.0px,#ffffff 0.7px,#0040ff 0.7px,#0040ff 9.1px,#0060ff 9.1px,#08fff7 19.3px,#f0ff0f 19.3px,#fff600 27.2px,#ffa300 27.2px,#ff8a00 48.0px,#ff5600 48.0px,#ff4b00 61.1px,#ffc200 61.1px,#ff8400 78.1px,#ff5a00 78.1px,#ff2400 105.4px,#800000 105.4px,#800000 167.5px,#ffffff 167.5px,#ffffff 168.0px)"></i>
<i style="height:2px;background:linear-gradient(90deg,#ffffff 0.0px,#ffffff 0.7px,#0040ff 0.7px,#0040ff 9.1px,#0060ff 9.1px,#08fff7 19.4px,#f0ff0f 19.4px,#fff600 27.3px,#ffa300 27.3px,#ff8a00 48.0px,#ff5600 48.0px,#ff4b00 60.9px,#ffc200 60.9px,#ff8400 78.0px,#ff5a00 78.0px,#ff2400 105.3px,#800000 105.3px,#800000 167.5px,#ffffff 167.5px,#ffffff 168.0px)"></i>
<i style="height:2px;background:linear-gradient(90deg,#ffffff 0.0px,#ffffff 0.7px,#0040ff 0.7px,#0040ff 9.2px,#0060ff 9.2px,#08fff7 19.4px,#f0ff0f 19.4px,#fff600 27.3px,#ffa300 27.3px,#ff8a00 48.0px,#ff5600 48.0px,#ff4b00 60.5px,#ffc200 60.5px,#ff8400 77.9px,#ff5a00 77.9px,#ff2400 105.2px,#800000 105.2px,#800000 167.5px,#ffffff 167.5px,#ffffff 168.0px)"></i>
<i style="height:2px;background:linear-gradient(90deg,#ffffff 0.0px,#ffffff 0.7px,#0040ff 0.7px,#0040ff 9.2px,#0060ff 9.2px,#08fff7 19.4px,#f0ff0f 19.4px,#fff600 27.3px,#ffa300 27.3px,#ff8a00 48.0px,#ff5600 48.0px,#ff4c00 60.2px,#ffc200 60.2px,#ff8400 77.8px,#ff5a00 77.8px,#ff2400 105.1px,#800000 105.1px,#800000 167.5px,#ffffff 167.5px,#ffffff 168.0px)"></i>
<i style="height:2px;background:linear-gradient(90deg,#ffffff 0.0px,#ffffff 0.7px,#0040ff 0.7px,#0040ff 9.2px,#0060ff 9.2px,#08fff7 19.5px,#f0ff0f 19.5px,#fff600 27.4px,#ffa300 27.4px,#ff8a00 48.0px,#ff5600 48.0px,#ff4c00 59.9px,#ffc200 59.9px,#ff8400 77.7px,#ff5a00 77.7px,#ff2400 105.0px,#800000 105.0px,#800000 167.5px,#ffffff 167.5px,#ffffff 168.0px)"></i>
<i style="height:2px;background:linear-gradient(90deg,#ffffff 0.0px,#ffffff 0.7px,#0040ff 0.7px,#0040ff 9.2px,#0060ff 9.2px,#08fff7 19.5px,#f0ff0f 19.5px,#fff600 27.4px,#ffa300 27.4px,#ff8a00 48.0px,#ff5600 48.0px,#ff4c00 59.6px,#ffc200 59.6px,#ff8400 77.6px,#ff5a00 77.6px,#ff2400 104.9px,#800000 104.9px,#800000 167.5px,#ffffff 167.5px,#ffffff 168.0px)"></i>
<i style="height:2px;background:linear-gradient(90deg,#ffffff 0.0px,#ffffff 0.7px,#0040ff 0.7px,#0040ff 9.3px,#0060ff 9.3px,#08fff7 19.6px,#f0ff0f 19.6px,#fff600 27.5px,#ffa300 27.5px,#ff8a00 48.0px,#ff5600 48.0px,#ff4d00 59.3px,#ffc200 59.3px,#ff8400 77.5px,#ff5a00 77.5px,#ff2400 104.8px,#800000 104.8px,#800000 167.5px,#ffffff 167.5px,#ffffff 168.0px)"></i>
<i style="height:2px;background:linear-gradient(90deg,#ffffff 0.0px,#ffffff 0.7px,#0040ff 0.7px,#0040ff 9.3px,#0060ff 9.3px,#08fff7 19.6px,#f0ff0f 19.6px,#fff600 27.5px,#ffa300 27.5px,#ff8a00 48.0px,#ff5600 48.0px,#ff4d00 58.9px,#ffc200 58.9px,#ff8400 77.4px,#ff5a00 77.4px,#ff2400 104.7px,#800000 104.7px,#800000 167.5px,#ffffff 167.5px,#ffffff 168.0px)"></i>
<i style="height:2px;background:linear-gradient(90deg,#ffffff 0.0px,#ffffff 0.7px,#0040ff 0.7px,#0040ff 9.3px,#0060ff 9.3px,#08fff7 19.7px,#f0ff0f 19.7px,#fff600 27.6px,#ffa300 27.6px,#ff8a00 48.0px,#ff5600 48.0px,#ff4d00 58.6px,#ffc200 58.6px,#ff8400 77.3px,#ff5a00 77.3px,#ff2400 104.6px,#800000 104.6px,#800000 167.5px,#ffffff 167.5px,#ffffff 168.0px)"></i>
<i style="height:2px;background:linear-gradient(90deg,#ffffff 0.0px,#ffffff 0.7px,#0040ff 0.7px,#0040ff 9.4px,#0060ff 9.4px,#08fff7 19.8px,#f0ff0f 19.8px,#fff600 27.6px,#ffa300 27.6px,#ff8a00 48.0px,#ff5600 48.0px,#ff4d00 58.2px,#ffc200 58.2px,#ff8400 77.1px,#ff5a00 77.1px,#ff2400 104.4px,#800000 104.4px,#800000 167.5px,#ffffff 167.5px,#ffffff 168.0px)"></i>
<i style="height:2px;background:linear-gradient(90deg,#ffffff 0.0px,#ffffff 0.7px,#0040ff 0.7px,#0040ff 9.4px,#0060ff 9.4px,#08fff7 19.8px,#f0ff0f 19.8px,#fff600 27.7px,#ffa300 27.7px,#ff8a00 48.0px,#ff5600 48.0px,#ff4e00 57.9px,#ffc200 57.9px,#ff8400 77.0px,#ff5a00 77.0px,#ff2400 104.3px,#800000 104.3px,#800000 167.5px,#ffffff 167.5px,#ffffff 168.0px)"></i>
<i style="height:2px;background:linear-gradient(90deg,#ffffff 0.0px,#ffffff 0.7px,#0040ff 0.7px,#0040ff 9.5px,#0060ff 9.5px,#08fff7 19.9px,#f0ff0f 19.9px,#fff600 27.7px,#ffa300 27.7px,#ff8a00 48.0px,#ff5600 48.0px,#ff4e00 57.6px,#ffc200 57.6px,#ff8400 76.9px,#ff5a00 76.9px,#ff2400 104.2px,#800000 104.2px,#800000 167.5px,#ffffff 167.5px,#ffffff 168.0px)"></i>
<i style="height:2px;background:linear-gradient(90deg,#ffffff 0.0px,#ffffff 0.7px,#0040ff 0.7px,#0040ff 9.5px,#0060ff 9.5px,#08fff7 19.9px,#f0ff0f 19.9px,#fff600 27.7px,#ffa300 27.7px,#ff8a00 48.0px,#ff5600 48.0px,#ff4e00 57.2px,#ffc200 57.2px,#ff8400 76.7px,#ff5a00 76.7px,#ff2400 104.0px,#800000 104.0px,#800000 167.5px,#ffffff 167.5px,#ffffff 168.0px)"></i>
<i style="height:2px;background:linear-gradient(90deg,#ffffff 0.0px,#ffffff 0.7px,#0040ff 0.7px,#0040ff 9.5px,#0060ff 9.5px,#08fff7 20.0px,#f0ff0f 20.0px,#fff600 27.8px,#ffa300 27.8px,#ff8a00 48.0px,#ff5600 48.0px,#ff4f00 56.9px,#ffc200 56.9px,#ff8400 76.6px,#ff5a00 76.6px,#ff2400 103.9px,#800000 103.9px,#800000 167.5px,#ffffff 167.5px,#ffffff 168.0px)"></i>
<i style="height:2px;background:linear-gradient(90deg,#ffffff 0.0px,#ffffff 0.7px,#0040ff 0.7px,#0040ff 9.6px,#0060ff 9.6px,#08fff7 20.0px,#f0ff0f 20.0px,#fff600 27.8px,#ffa300 27.8px,#ff8a00 48.0px,#ff5600 48.0px,#ff4f00 56.5px,#ffc200 56.5px,#ff8400 76.5px,#ff5a00 76.5px,#ff2400 103.8px,#800000 103.8px,#800000 167.5px,#ffffff 167.5px,#ffffff 168.0px)"></i>
<i style="height:2px;background:linear-gradient(90deg,#ffffff 0.0px,#ffffff 0.7px,#0040ff 0.7px,#0040ff 9.6px,#0060ff 9.6px,#08fff7 20.1px,#f0ff0f 20.1px,#fff600 27.9px,#ffa300 27.9px,#ff8a00 48.0px,#ff5600 48.0px,#ff4f00 56.2px,#ffc200 56.2px,#ff8400 76.4px,#ff5a00 76.4px,#ff2400 103.7px,#800000 103.7px,#800000 167.5px,#ffffff 167.5px,#ffffff 168.0px)"></i>
<i style="height:2px;background:linear-gradient(90deg,#ffffff 0.0px,#ffffff 0.7px,#0040ff 0.7px,#0040ff 9.7px,#0060ff 9.7px,#08fff7 20.1px,#f0ff0f 20.1px,#fff600 27.9px,#ffa300 27.9px,#ff8a00 48.0px,#ff5600 48.0px,#ff4f00 55.9px,#ffc200 55.9px,#ff8400 76.2px,#ff5a00 76.2px,#ff2400 103.5px,#800000 103.5px,#800000 167.5px,#ffffff 167.5px,#ffffff 168.0px)"></i>
<i style="height:2px;background:linear-gradient(90deg,#ffffff 0.0px,#ffffff 0.7px,#0040ff 0.7px,#0040ff 9.7px,#0060ff 9.7px,#08fff7 20.2px,#f0ff0f 20.2px,#fff600 28.0px,#ffa300 28.0px,#ff8a00 48.0px,#ff5600 48.0px,#ff5000 55.6px,#ffc200 55.6px,#ff8400 76.1px,#ff5a00 76.1px,#ff2400 103.4px,#800000 103.4px,#800000 167.5px,#ffffff 167.5px,#ffffff 168.0px)"></i>
<i style="height:2px;background:linear-gradient(90deg,#ffffff 0.0px,#ffffff 0.7px,#0040ff 0.7px,#0040ff 9.8px,#0060ff 9.8px,#08fff7 20.3px,#f0ff0f 20.3px,#fff600 28.0px,#ffa300 28.0px,#ff8a00 48.0px,#ff5600 48.0px,#ff5000 55.3px,#ffc200 55.3px,#ff8400 76.0px,#ff5a00 76.0px,#ff2400 103.3px,#800000 103.3px,#800000 167.5px,#ffffff 167.5px,#ffffff 168.0px)"></i>
<i style="height:2px;background:linear-gradient(90deg,#ffffff 0.0px,#ffffff 0.7px,#0040ff 0.7px,#0040ff 9.8px,#0060ff 9.8px,#08fff7 20.3px,#f0ff0f 20.3px,#fff600 28.1px,#ffa300 28.1px,#ff8a00 48.0px,#ff5600 48.0px,#ff5000 55.0px,#ffc200 55.0px,#ff8400 75.8px,#ff5a00 75.8px,#ff2400 103.1px,#800000 103.1px,#800000 167.5px,#ffffff 167.5px,#ffffff 168.0px)"></i>
<i style="height:2px;background:linear-gradient(90deg,#ffffff 0.0px,#ffffff 0.7px,#0040ff 0.7px,#0040ff 9.8px,#0060ff 9.8px,#08fff7 20.4px,#f0ff0f 20.4px,#fff600 28.1px,#ffa300 28.1px,#ff8a00 48.0px,#ff5600 48.0px,#ff5000 54.7px,#ffc200 54.7px,#ff8400 75.7px,#ff5a00 75.7px,#ff2400 103.0px,#800000 103.0px,#800000 167.5px,#ffffff 167.5px,#ffffff 168.0px)"></i>
<i style="height:2px;background:linear-gradient(90deg,#ffffff 0.0px,#ffffff 0.7px,#0040ff 0.7px,#0040ff 9.9px,#0060ff 9.9px,#08fff7 20.4px,#f0ff0f 20.4px,#fff600 28.2px,#ffa300 28.2px,#ff8a00 48.0px,#ff5600 48.0px,#ff5100 54.4px,#ffc200 54.4px,#ff8400 75.6px,#ff5a00 75.6px,#ff2400 102.9px,#800000 102.9px,#800000 167.5px,#ffffff 167.5px,#ffffff 168.0px)"></i>
<i style="height:2px;background:linear-gradient(90deg,#ffffff 0.0px,#ffffff 0.7px,#0040ff 0.7px,#0040ff 9.9px,#0060ff 9.9px,#08fff7 20.5px,#f0ff0f 20.5px,#fff600 28.2px,#ffa300 28.2px,#ff8a00 48.0px,#ff5600 48.0px,#ff5100 54.1px,#ffc200 54.1px,#ff8400 75.5px,#ff5a00 75.5px,#ff2400 102.8px,#800000 102.8px,#800000 167.5px,#ffffff 167.5px,#ffffff 168.0px)"></i>
<i style="height:2px;background:linear-gradient(90deg,#ffffff 0.0px,#ffffff 0.7px,#0040ff 0.7px,#0040ff 10.0px,#0060ff 10.0px,#08fff7 20.5px,#f0ff0f 20.5px,#fff600 28.3px,#ffa300 28.3px,#ff8a00 48.0px,#ff5600 48.0px,#ff5100 53.8px,#ffc200 53.8px,#ff8400 75.3px,#ff5a00 75.3px,#ff2400 102.6px,#800000 102.6px,#800000 167.5px,#ffffff 167.5px,#ffffff 168.0px)"></i>
<i style="height:2px;background:linear-gradient(90deg,#ffffff 0.0px,#ffffff 0.7px,#0040ff 0.7px,#0040ff 10.0px,#0060ff 10.0px,#08fff7 20.6px,#f0ff0f 20.6px,#fff600 28.3px,#ffa300 28.3px,#ff8a00 48.0px,#ff5600 48.0px,#ff5100 53.5px,#ffc200 53.5px,#ff8400 75.2px,#ff5a00 75.2px,#ff2400 102.5px,#800000 102.5px,#800000 167.5px,#ffffff 167.5px,#ffffff 168.0px)"></i>
<i style="height:2px;background:linear-gradient(90deg,#ffffff 0.0px,#ffffff 0.7px,#0040ff 0.7px,#0040ff 10.0px,#0060ff 10.0px,#08fff7 20.7px,#f0ff0f 20.7px,#fff600 28.4px,#ffa300 28.4px,#ff8a00 48.0px,#ff5600 48.0px,#ff5200 53.3px,#ffc200 53.3px,#ff8400 75.1px,#ff5a00 75.1px,#ff2400 102.4px,#800000 102.4px,#800000 167.5px,#ffffff 167.5px,#ffffff 168.0px)"></i>
<i style="height:2px;background:linear-gradient(90deg,#ffffff 0.0px,#ffffff 0.7px,#0040ff 0.7px,#0040ff 10.1px,#0060ff 10.1px,#08fff7 20.7px,#f0ff0f 20.7px,#fff600 28.4px,#ffa300 28.4px,#ff8a00 48.0px,#ff5600 48.0px,#ff5200 53.1px,#ffc200 53.1px,#ff8400 75.0px,#ff5a00 75.0px,#ff2400 102.3px,#800000 102.3px,#800000 167.5px,#ffffff 167.5px,#ffffff 168.0px)"></i>
<i style="height:2px;background:linear-gradient(90deg,#ffffff 0.0px,#ffffff 0.7px,#0040ff 0.7px,#0040ff 10.1px,#0060ff 10.1px,#08fff7 20.8px,#f0ff0f 20.8px,#fff600 28.5px,#ffa300 28.5px,#ff8a00 48.0px,#ff5600 48.0px,#ff5200 52.9px,#ffc200 52.9px,#ff8400 75.0px,#ff5a00 75.0px,#ff2400 102.3px,#800000 102.3px,#800000 167.5px,#ffffff 167.5px,#ffffff 168.0px)"></i>
<i style="height:2px;background:linear-gradient(90deg,#ffffff 0.0px,#ffffff 0.7px,#0040ff 0.7px,#0040ff 10.2px,#0060ff 10.2px,#08fff7 20.8px,#f0ff0f 20.8px,#fff600 28.5px,#ffa300 28.5px,#ff8a00 48.0px,#ff5600 48.0px,#ff5200 52.7px,#ffc200 52.7px,#ff8400 74.9px,#ff5a00 74.9px,#ff2400 102.2px,#800000 102.2px,#800000 167.5px,#ffffff 167.5px,#ffffff 168.0px)"></i>
<i style="height:2px;background:linear-gradient(90deg,#ffffff 0.0px,#ffffff 0.7px,#0040ff 0.7px,#0040ff 10.2px,#0060ff 10.2px,#08fff7 20.9px,#f0ff0f 20.9px,#fff600 28.6px,#ffa300 28.6px,#ff8a00 48.0px,#ff5600 48.0px,#ff5200 52.5px,#ffc200 52.5px,#ff8400 74.8px,#ff5a00 74.8px,#ff2400 102.1px,#800000 102.1px,#800000 167.5px,#ffffff 167.5px,#ffffff 168.0px)"></i>
<i style="height:2px;background:linear-gradient(90deg,#ffffff 0.0px,#ffffff 0.7px,#0040ff 0.7px,#0040ff 10.3px,#0060ff 10.3px,#08fff7 21.0px,#f0ff0f 21.0px,#fff600 28.7px,#ffa300 28.7px,#ff8a00 48.0px,#ff5600 48.0px,#ff5200 52.3px,#ffc200 52.3px,#ff8400 74.7px,#ff5a00 74.7px,#ff2400 102.0px,#800000 102.0px,#800000 167.5px,#ffffff 167.5px,#ffffff 168.0px)"></i>
<i style="height:2px;background:linear-gradient(90deg,#ffffff 0.0px,#ffffff 0.7px,#0040ff 0.7px,#0040ff 10.3px,#0060ff 10.3px,#08fff7 21.0px,#f0ff0f 21.0px,#fff600 28.7px,#ffa300 28.7px,#ff8a00 48.0px,#ff5600 48.0px,#ff5300 52.1px,#ffc200 52.1px,#ff8400 74.7px,#ff5a00 74.7px,#ff2400 102.0px,#800000 102.0px,#800000 167.5px,#ffffff 167.5px,#ffffff 168.0px)"></i>
<i style="height:2px;background:linear-gradient(90deg,#ffffff 0.0px,#ffffff 0.7px,#0040ff 0.7px,#0040ff 10.3px,#0060ff 10.3px,#08fff7 21.1px,#f0ff0f 21.1px,#fff600 28.8px,#ffa300 28.8px,#ff8a00 48.0px,#ff5600 48.0px,#ff5300 52.0px,#ffc200 52.0px,#ff8400 74.6px,#ff5a00 74.6px,#ff2400 101.9px,#800000 101.9px,#800000 167.5px,#ffffff 167.5px,#ffffff 168.0px)"></i>
<i style="height:2px;background:linear-gradient(90deg,#ffffff 0.0px,#ffffff 0.7px,#0040ff 0.7px,#0040ff 10.4px,#0060ff 10.4px,#08fff7 21.1px,#f0ff0f 21.1px,#fff600 28.8px,#ffa300 28.8px,#ff8a00 48.0px,#ff5600 48.0px,#ff5300 51.9px,#ffc200 51.9px,#ff8400 74.5px,#ff5a00 74.5px,#ff2400 101.8px,#800000 101.8px,#800000 167.5px,#ffffff 167.5px,#ffffff 168.0px)"></i>
<i style="height:2px;background:linear-gradient(90deg,#ffffff 0.0px,#ffffff 0.7px,#0040ff 0.7px,#0040ff 10.4px,#0060ff 10.4px,#08fff7 21.2px,#f0ff0f 21.2px,#fff600 28.9px,#ffa300 28.9px,#ff8a00 48.0px,#ff5600 48.0px,#ff5300 51.8px,#ffc200 51.8px,#ff8400 74.4px,#ff5a00 74.4px,#ff2400 101.7px,#800000 101.7px,#800000 167.5px,#ffffff 167.5px,#ffffff 168.0px)"></i>
<i style="height:2px;background:linear-gradient(90deg,#ffffff 0.0px,#ffffff 0.7px,#0040ff 0.7px,#0040ff 10.5px,#0060ff 10.5px,#08fff7 21.3px,#f0ff0f 21.3px,#fff600 29.0px,#ffa300 29.0px,#ff8a00 48.0px,#ff5600 48.0px,#ff5300 51.7px,#ffc200 51.7px,#ff8400 74.3px,#ff5a00 74.3px,#ff2400 101.6px,#800000 101.6px,#800000 167.5px,#ffffff 167.5px,#ffffff 168.0px)"></i>
<i style="height:2px;background:linear-gradient(90deg,#ffffff 0.0px,#ffffff 0.7px,#0040ff 0.7px,#0040ff 10.5px,#0060ff 10.5px,#08fff7 21.3px,#f0ff0f 21.3px,#fff600 29.0px,#ffa300 29.0px,#ff8a00 48.0px,#ff5600 48.0px,#ff5300 51.5px,#ffc200 51.5px,#ff8400 74.2px,#ff5a00 74.2px,#ff2400 101.5px,#800000 101.5px,#800000 167.5px,#ffffff 167.5px,#ffffff 168.0px)"></i>
<i style="height:2px;background:linear-gradient(90deg,#ffffff 0.0px,#ffffff 0.7px,#0040ff 0.7px,#0040ff 10.6px,#0060ff 10.6px,#08fff7 21.4px,#f0ff0f 21.4px,#fff600 29.1px,#ffa300 29.1px,#ff8a00 48.0px,#ff5600 48.0px,#ff5300 51.4px,#ffc200 51.4px,#ff8400 74.1px,#ff5a00 74.1px,#ff2400 101.4px,#800000 101.4px,#800000 167.5px,#ffffff 167.5px,#ffffff 168.0px)"></i>
<i style="height:2px;background:linear-gradient(90deg,#ffffff 0.0px,#ffffff 0.7px,#0040ff 0.7px,#0040ff 10.6px,#0060ff 10.6px,#08fff7 21.4px,#f0ff0f 21.4px,#fff600 29.1px,#ffa300 29.1px,#ff8a00 48.0px,#ff5600 48.0px,#ff5300 51.3px,#ffc200 51.3px,#ff8400 74.0px,#ff5a00 74.0px,#ff2400 101.3px,#800000 101.3px,#800000 167.5px,#ffffff 167.5px,#ffffff 168.0px)"></i>
<i style="height:2px;background:linear-gradient(90deg,#ffffff 0.0px,#ffffff 0.7px,#0040ff 0.7px,#0040ff 10.7px,#0060ff 10.7px,#08fff7 21.5px,#f0ff0f 21.5px,#fff600 29.2px,#ffa300 29.2px,#ff8a00 48.0px,#ff5600 48.0px,#ff5300 51.2px,#ffc200 51.2px,#ff8400 73.9px,#ff5a00 73.9px,#ff2400 101.2px,#800000 101.2px,#800000 167.5px,#ffffff 167.5px,#ffffff 168.0px)"></i>
<i style="height:2px;background:linear-gradient(90deg,#ffffff 0.0px,#ffffff 0.7px,#0040ff 0.7px,#0040ff 10.8px,#0060ff 10.8px,#08fff7 21.5px,#f0ff0f 21.5px,#fff600 29.2px,#ffa300 29.2px,#ff8a00 48.0px,#ff5600 48.0px,#ff5300 51.2px,#ffc200 51.2px,#ff8400 73.8px,#ff5a00 73.8px,#ff2400 101.1px,#800000 101.1px,#800000 167.5px,#ffffff 167.5px,#ffffff 168.0px)"></i>
<i style="height:2px;background:linear-gradient(90deg,#ffffff 0.0px,#ffffff 0.7px,#0040ff 0.7px,#0040ff 10.8px,#0060ff 10.8px,#08fff7 21.6px,#f0ff0f 21.6px,#fff600 29.3px,#ffa300 29.3px,#ff8a00 48.0px,#ff5600 48.0px,#ff5300 51.1px,#ffc200 51.1px,#ff8400 73.7px,#ff5a00 73.7px,#ff2400 101.0px,#800000 101.0px,#800000 167.5px,#ffffff 167.5px,#ffffff 168.0px)"></i>
<i style="height:2px;background:linear-gradient(90deg,#ffffff 0.0px,#ffffff 0.7px,#0040ff 0.7px,#0040ff 10.9px,#0060ff 10.9px,#08fff7 21.6px,#f0ff0f 21.6px,#fff600 29.3px,#ffa300 29.3px,#ff8a00 48.0px,#ff5600 48.0px,#ff5300 51.1px,#ffc200 51.1px,#ff8400 73.6px,#ff5a00 73.6px,#ff2400 100.9px,#800000 100.9px,#800000 167.5px,#ffffff 167.5px,#ffffff 168.0px)"></i>
<i style="height:2px;background:linear-gradient(90deg,#ffffff 0.0px,#ffffff 0.7px,#0040ff 0.7px,#0040ff 10.9px,#0060ff 10.9px,#08fff7 21.7px,#f0ff0f 21.7px,#fff600 29.3px,#ffa300 29.3px,#ff8a00 48.0px,#ff5600 48.0px,#ff5300 51.0px,#ffc200 51.0px,#ff8400 73.5px,#ff5a00 73.5px,#ff2400 100.8px,#800000 100.8px,#800000 167.5px,#ffffff 167.5px,#ffffff 168.0px)"></i>
<i style="height:2px;background:linear-gradient(90deg,#ffffff 0.0px,#ffffff 0.7px,#0040ff 0.7px,#0040ff 11.0px,#0060ff 11.0px,#08fff7 21.7px,#f0ff0f 21.7px,#fff600 29.4px,#ffa300 29.4px,#ff8a00 48.0px,#ff5600 48.0px,#ff5400 50.9px,#ffc200 50.9px,#ff8400 73.4px,#ff5a00 73.4px,#ff2400 100.7px,#800000 100.7px,#800000 167.5px,#ffffff 167.5px,#ffffff 168.0px)"></i>
<i style="height:2px;background:linear-gradient(90deg,#ffffff 0.0px,#ffffff 0.7px,#0040ff 0.7px,#0040ff 11.1px,#0060ff 11.1px,#08fff7 21.8px,#f0ff0f 21.8px,#fff600 29.4px,#ffa300 29.4px,#ff8a00 48.0px,#ff5600 48.0px,#ff5400 50.9px,#ffc200 50.9px,#ff8400 73.2px,#ff5a00 73.2px,#ff2400 100.5px,#800000 100.5px,#800000 167.5px,#ffffff 167.5px,#ffffff 168.0px)"></i>
<i style="height:2px;background:linear-gradient(90deg,#ffffff 0.0px,#ffffff 0.7px,#0040ff 0.7px,#0040ff 11.1px,#0060ff 11.1px,#08fff7 21.8px,#f0ff0f 21.8px,#fff600 29.5px,#ffa300 29.5px,#ff8a00 48.0px,#ff5600 48.0px,#ff5400 50.8px,#ffc200 50.8px,#ff8400 73.1px,#ff5a00 73.1px,#ff2400 100.4px,#800000 100.4px,#800000 167.5px,#ffffff 167.5px,#ffffff 168.0px)"></i>
<i style="height:2px;background:linear-gradient(90deg,#ffffff 0.0px,#ffffff 0.7px,#0040ff 0.7px,#0040ff 11.2px,#0060ff 11.2px,#08fff7 21.9px,#f0ff0f 21.9px,#fff600 29.5px,#ffa300 29.5px,#ff8a00 48.0px,#ff5600 48.0px,#ff5400 50.8px,#ffc200 50.8px,#ff8400 73.0px,#ff5a00 73.0px,#ff2400 100.3px,#800000 100.3px,#800000 167.5px,#ffffff 167.5px,#ffffff 168.0px)"></i>
<i style="height:2px;background:linear-gradient(90deg,#ffffff 0.0px,#ffffff 0.7px,#0040ff 0.7px,#0040ff 11.2px,#0060ff 11.2px,#08fff7 22.0px,#f0ff0f 22.0px,#fff600 29.6px,#ffa300 29.6px,#ff8a00 48.0px,#ff5600 48.0px,#ff5400 50.7px,#ffc200 50.7px,#ff8400 72.9px,#ff5a00 72.9px,#ff2400 100.2px,#800000 100.2px,#800000 167.5px,#ffffff 167.5px,#ffffff 168.0px)"></i>
<i style="height:2px;background:linear-gradient(90deg,#ffffff 0.0px,#ffffff 0.7px,#0040ff 0.7px,#0040ff 11.3px,#0060ff 11.3px,#08fff7 22.0px,#f0ff0f 22.0px,#fff600 29.6px,#ffa300 29.6px,#ff8a00 48.0px,#ff5600 48.0px,#ff5400 50.7px,#ffc200 50.7px,#ff8400 72.8px,#ff5a00 72.8px,#ff2400 100.1px,#800000 100.1px,#800000 167.5px,#ffffff 167.5px,#ffffff 168.0px)"></i>
<i style="height:2px;background:linear-gradient(90deg,#ffffff 0.0px,#ffffff 0.7px,#0040ff 0.7px,#0040ff 11.3px,#0060ff 11.3px,#08fff7 22.1px,#f0ff0f 22.1px,#fff600 29.7px,#ffa300 29.7px,#ff8a00 48.0px,#ff5600 48.0px,#ff5400 50.6px,#ffc200 50.6px,#ff8400 72.7px,#ff5a00 72.7px,#ff2400 100.0px,#800000 100.0px,#800000 167.5px,#ffffff 167.5px,#ffffff 168.0px)"></i>
<i style="height:2px;background:linear-gradient(90deg,#ffffff 0.0px,#ffffff 0.7px,#0040ff 0.7px,#0040ff 11.4px,#0060ff 11.4px,#08fff7 22.1px,#f0ff0f 22.1px,#fff600 29.7px,#ffa300 29.7px,#ff8a00 48.0px,#ff5600 48.0px,#ff5400 50.6px,#ffc200 50.6px,#ff8400 72.6px,#ff5a00 72.6px,#ff2400 99.9px,#800000 99.9px,#800000 167.5px,#ffffff 167.5px,#ffffff 168.0px)"></i>
<i style="height:2px;background:linear-gradient(90deg,#ffffff 0.0px,#ffffff 0.7px,#0040ff 0.7px,#0040ff 11.5px,#0060ff 11.5px,#08fff7 22.2px,#f0ff0f 22.2px,#fff600 29.8px,#ffa300 29.8px,#ff8a00 48.0px,#ff5600 48.0px,#ff5400 50.5px,#ffc200 50.5px,#ff8400 72.5px,#ff5a00 72.5px,#ff2400 99.8px,#800000 99.8px,#800000 167.5px,#ffffff 167.5px,#ffffff 168.0px)"></i>
<i style="height:2px;background:linear-gradient(90deg,#ffffff 0.0px,#ffffff 0.7px,#0040ff 0.7px,#0040ff 11.5px,#0060ff 11.5px,#08fff7 22.2px,#f0ff0f 22.2px,#fff600 29.8px,#ffa300 29.8px,#ff8a00 48.0px,#ff5600 48.0px,#ff5400 50.5px,#ffc200 50.5px,#ff8400 72.4px,#ff5a00 72.4px,#ff2400 99.7px,#800000 99.7px,#800000 167.5px,#ffffff 167.5px,#ffffff 168.0px)"></i>
<i style="height:2px;background:linear-gradient(90deg,#ffffff 0.0px,#ffffff 0.7px,#0040ff 0.7px,#0040ff 11.6px,#0060ff 11.6px,#08fff7 22.3px,#f0ff0f 22.3px,#fff600 29.9px,#ffa300 29.9px,#ff8a00 48.0px,#ff5600 48.0px,#ff5400 50.5px,#ffc200 50.5px,#ff8400 72.3px,#ff5a00 72.3px,#ff2400 99.6px,#800000 99.6px,#800000 167.5px,#ffffff 167.5px,#ffffff 168.0px)"></i>
<i style="height:2px;background:linear-gradient(90deg,#ffffff 0.0px,#ffffff 0.7px,#0040ff 0.7px,#0040ff 11.6px,#0060ff 11.6px,#08fff7 22.3px,#f0ff0f 22.3px,#fff600 29.9px,#ffa300 29.9px,#ff8a00 48.0px,#ff5600 48.0px,#ff5400 50.4px,#ffc200 50.4px,#ff8400 72.1px,#ff5a00 72.1px,#ff2400 99.4px,#800000 99.4px,#800000 167.5px,#ffffff 167.5px,#ffffff 168.0px)"></i>
<i style="height:2px;background:linear-gradient(90deg,#ffffff 0.0px,#ffffff 0.7px,#0040ff 0.7px,#0040ff 11.7px,#0060ff 11.7px,#08fff7 22.4px,#f0ff0f 22.4px,#fff600 29.9px,#ffa300 29.9px,#ff8a00 48.0px,#ff5600 48.0px,#ff5400 50.4px,#ffc200 50.4px,#ff8400 72.0px,#ff5a00 72.0px,#ff2400 99.3px,#800000 99.3px,#800000 167.5px,#ffffff 167.5px,#ffffff 168.0px)"></i>
<i style="height:2px;background:linear-gradient(90deg,#ffffff 0.0px,#ffffff 0.7px,#0040ff 0.7px,#0040ff 11.8px,#0060ff 11.8px,#08fff7 22.4px,#f0ff0f 22.4px,#fff600 30.0px,#ffa300 30.0px,#ff8a00 48.0px,#ff5600 48.0px,#ff5400 50.3px,#ffc200 50.3px,#ff8400 71.9px,#ff5a00 71.9px,#ff2400 99.2px,#800000 99.2px,#800000 167.5px,#ffffff 167.5px,#ffffff 168.0px)"></i>
<i style="height:2px;background:linear-gradient(90deg,#ffffff 0.0px,#ffffff 0.7px,#0040ff 0.7px,#0040ff 11.8px,#0060ff 11.8px,#08fff7 22.5px,#f0ff0f 22.5px,#fff600 30.0px,#ffa300 30.0px,#ff8a00 48.0px,#ff5600 48.0px,#ff5400 50.3px,#ffc200 50.3px,#ff8400 71.8px,#ff5a00 71.8px,#ff2400 99.1px,#800000 99.1px,#800000 167.5px,#ffffff 167.5px,#ffffff 168.0px)"></i>
<i style="height:2px;background:linear-gradient(90deg,#ffffff 0.0px,#ffffff 0.7px,#0040ff 0.7px,#0040ff 11.9px,#0060ff 11.9px,#08fff7 22.5px,#f0ff0f 22.5px,#fff600 30.1px,#ffa300 30.1px,#ff8a00 48.0px,#ff5600 48.0px,#ff5400 50.3px,#ffc200 50.3px,#ff8400 71.7px,#ff5a00 71.7px,#ff2400 99.0px,#800000 99.0px,#800000 167.5px,#ffffff 167.5px,#ffffff 168.0px)"></i>
<i style="height:2px;background:linear-gradient(90deg,#ffffff 0.0px,#ffffff 0.7px,#0040ff 0.7px,#0040ff 11.9px,#0060ff 11.9px,#08fff7 22.6px,#f0ff0f 22.6px,#fff600 30.1px,#ffa300 30.1px,#ff8a00 48.0px,#ff5600 48.0px,#ff5400 50.2px,#ffc200 50.2px,#ff8400 71.6px,#ff5a00 71.6px,#ff2400 98.9px,#800000 98.9px,#800000 167.5px,#ffffff 167.5px,#ffffff 168.0px)"></i>
<i style="height:2px;background:linear-gradient(90deg,#ffffff 0.0px,#ffffff 0.7px,#0040ff 0.7px,#0040ff 12.0px,#0060ff 12.0px,#08fff7 22.6px,#f0ff0f 22.6px,#fff600 30.2px,#ffa300 30.2px,#ff8a00 48.0px,#ff5600 48.0px,#ff5400 50.2px,#ffc200 50.2px,#ff8400 71.5px,#ff5a00 71.5px,#ff2400 98.8px,#800000 98.8px,#800000 167.5px,#ffffff 167.5px,#ffffff 168.0px)"></i>
<i style="height:2px;background:linear-gradient(90deg,#ffffff 0.0px,#ffffff 0.7px,#0040ff 0.7px,#0040ff 12.0px,#0060ff 12.0px,#08fff7 22.7px,#f0ff0f 22.7px,#fff600 30.2px,#ffa300 30.2px,#ff8a00 48.0px,#ff5600 48.0px,#ff5400 50.3px,#ffc200 50.3px,#ff8400 71.4px,#ff5a00 71.4px,#ff2400 98.7px,#800000 98.7px,#800000 167.5px,#ffffff 167.5px,#ffffff 168.0px)"></i>
<i style="height:2px;background:linear-gradient(90deg,#ffffff 0.0px,#ffffff 0.7px,#0040ff 0.7px,#0040ff 12.1px,#0060ff 12.1px,#08fff7 22.7px,#f0ff0f 22.7px,#fff600 30.3px,#ffa300 30.3px,#ff8a00 48.0px,#ff5600 48.0px,#ff5400 50.3px,#ffc200 50.3px,#ff8400 71.3px,#ff5a00 71.3px,#ff2400 98.6px,#800000 98.6px,#800000 167.5px,#ffffff 167.5px,#ffffff 168.0px)"></i>
<i style="height:2px;background:linear-gradient(90deg,#ffffff 0.0px,#ffffff 0.7px,#0040ff 0.7px,#0040ff 12.2px,#0060ff 12.2px,#08fff7 22.8px,#f0ff0f 22.8px,#fff600 30.3px,#ffa300 30.3px,#ff8a00 48.0px,#ff5600 48.0px,#ff5400 50.4px,#ffc200 50.4px,#ff8400 71.1px,#ff5a00 71.1px,#ff2400 98.4px,#800000 98.4px,#800000 167.5px,#ffffff 167.5px,#ffffff 168.0px)"></i>
<i style="height:2px;background:linear-gradient(90deg,#ffffff 0.0px,#ffffff 0.7px,#0040ff 0.7px,#0040ff 12.2px,#0060ff 12.2px,#08fff7 22.8px,#f0ff0f 22.8px,#fff600 30.4px,#ffa300 30.4px,#ff8a00 48.0px,#ff5600 48.0px,#ff5400 50.4px,#ffc200 50.4px,#ff8400 71.0px,#ff5a00 71.0px,#ff2400 98.3px,#800000 98.3px,#800000 167.5px,#ffffff 167.5px,#ffffff 168.0px)"></i>
<i style="height:2px;background:linear-gradient(90deg,#ffffff 0.0px,#ffffff 0.7px,#0040ff 0.7px,#0040ff 12.3px,#0060ff 12.3px,#08fff7 22.9px,#f0ff0f 22.9px,#fff600 30.4px,#ffa300 30.4px,#ff8a00 48.0px,#ff5600 48.0px,#ff5400 50.5px,#ffc200 50.5px,#ff8400 70.9px,#ff5a00 70.9px,#ff2400 98.2px,#800000 98.2px,#800000 167.5px,#ffffff 167.5px,#ffffff 168.0px)"></i>
<i style="height:2px;background:linear-gradient(90deg,#ffffff 0.0px,#ffffff 0.7px,#0040ff 0.7px,#0040ff 12.3px,#0060ff 12.3px,#08fff7 22.9px,#f0ff0f 22.9px,#fff600 30.5px,#ffa300 30.5px,#ff8a00 48.0px,#ff5600 48.0px,#ff5400 50.5px,#ffc200 50.5px,#ff8400 70.8px,#ff5a00 70.8px,#ff2400 98.1px,#800000 98.1px,#800000 167.5px,#ffffff 167.5px,#ffffff 168.0px)"></i>
<i style="height:2px;background:linear-gradient(90deg,#ffffff 0.0px,#ffffff 0.7px,#0040ff 0.7px,#0040ff 12.4px,#0060ff 12.4px,#08fff7 23.0px,#f0ff0f 23.0px,#fff600 30.5px,#ffa300 30.5px,#ff8a00 48.0px,#ff5600 48.0px,#ff5400 50.6px,#ffc200 50.6px,#ff8400 70.7px,#ff5a00 70.7px,#ff2400 98.0px,#800000 98.0px,#800000 167.5px,#ffffff 167.5px,#ffffff 168.0px)"></i>
<i style="height:2px;background:linear-gradient(90deg,#ffffff 0.0px,#ffffff 0.7px,#0040ff 0.7px,#0040ff 12.4px,#0060ff 12.4px,#08fff7 23.0px,#f0ff0f 23.0px,#fff600 30.5px,#ffa300 30.5px,#ff8a00 48.0px,#ff5600 48.0px,#ff5400 50.6px,#ffc200 50.6px,#ff8400 70.6px,#ff5a00 70.6px,#ff2400 97.9px,#800000 97.9px,#800000 167.5px,#ffffff 167.5px,#ffffff 168.0px)"></i>
<i style="height:2px;background:linear-gradient(90deg,#ffffff 0.0px,#ffffff 0.7px,#0040ff 0.7px,#0040ff 12.3px,#0060ff 12.3px,#08fff7 23.0px,#f0ff0f 23.0px,#fff600 30.5px,#ffa300 30.5px,#ff8a00 48.0px,#ff5600 48.0px,#ff5400 50.7px,#ffc200 50.7px,#ff8400 70.4px,#ff5a00 70.4px,#ff2400 97.7px,#800000 97.7px,#800000 167.5px,#ffffff 167.5px,#ffffff 168.0px)"></i>
<i style="height:2px;background:linear-gradient(90deg,#ffffff 0.0px,#ffffff 0.7px,#0040ff 0.7px,#0040ff 12.3px,#0060ff 12.3px,#08fff7 22.9px,#f0ff0f 22.9px,#fff600 30.5px,#ffa300 30.5px,#ff8a00 48.0px,#ff5600 48.0px,#ff5400 50.7px,#ffc200 50.7px,#ff8400 70.3px,#ff5a00 70.3px,#ff2400 97.6px,#800000 97.6px,#800000 167.5px,#ffffff 167.5px,#ffffff 168.0px)"></i>
<i style="height:2px;background:linear-gradient(90deg,#ffffff 0.0px,#ffffff 0.7px,#0040ff 0.7px,#0040ff 12.3px,#0060ff 12.3px,#08fff7 22.9px,#f0ff0f 22.9px,#fff600 30.6px,#ffa300 30.6px,#ff8a00 48.0px,#ff5600 48.0px,#ff5400 50.7px,#ffc200 50.7px,#ff8400 70.2px,#ff5a00 70.2px,#ff2400 97.5px,#800000 97.5px,#800000 167.5px,#ffffff 167.5px,#ffffff 168.0px)"></i>
<i style="height:2px;background:linear-gradient(90deg,#ffffff 0.0px,#ffffff 0.7px,#0040ff 0.7px,#0040ff 12.2px,#0060ff 12.2px,#08fff7 22.9px,#f0ff0f 22.9px,#fff600 30.6px,#ffa300 30.6px,#ff8a00 48.0px,#ff5600 48.0px,#ff5400 50.8px,#ffc200 50.8px,#ff8400 70.0px,#ff5a00 70.0px,#ff2400 97.3px,#800000 97.3px,#800000 167.5px,#ffffff 167.5px,#ffffff 168.0px)"></i>
<i style="height:2px;background:linear-gradient(90deg,#ffffff 0.0px,#ffffff 0.7px,#0040ff 0.7px,#0040ff 12.2px,#0060ff 12.2px,#08fff7 22.9px,#f0ff0f 22.9px,#fff600 30.6px,#ffa300 30.6px,#ff8a00 48.0px,#ff5600 48.0px,#ff5400 50.8px,#ffc200 50.8px,#ff8400 69.9px,#ff5a00 69.9px,#ff2400 97.2px,#800000 97.2px,#800000 167.5px,#ffffff 167.5px,#ffffff 168.0px)"></i>
<i style="height:2px;background:linear-gradient(90deg,#ffffff 0.0px,#ffffff 0.7px,#0040ff 0.7px,#0040ff 12.2px,#0060ff 12.2px,#08fff7 22.9px,#f0ff0f 22.9px,#fff600 30.7px,#ffa300 30.7px,#ff8a00 48.0px,#ff5600 48.0px,#ff5400 50.8px,#ffc200 50.8px,#ff8400 69.8px,#ff5a00 69.8px,#ff2400 97.1px,#800000 97.1px,#800000 167.5px,#ffffff 167.5px,#ffffff 168.0px)"></i>
<i style="height:2px;background:linear-gradient(90deg,#ffffff 0.0px,#ffffff 0.7px,#0040ff 0.7px,#0040ff 12.1px,#0060ff 12.1px,#08fff7 22.9px,#f0ff0f 22.9px,#fff600 30.7px,#ffa300 30.7px,#ff8a00 48.0px,#ff5600 48.0px,#ff5400 50.9px,#ffc200 50.9px,#ff8400 69.6px,#ff5a00 69.6px,#ff2400 96.9px,#800000 96.9px,#800000 167.5px,#ffffff 167.5px,#ffffff 168.0px)"></i>
<i style="height:2px;background:linear-gradient(90deg,#ffffff 0.0px,#ffffff 0.7px,#0040ff 0.7px,#0040ff 12.1px,#0060ff 12.1px,#08fff7 22.8px,#f0ff0f 22.8px,#fff600 30.8px,#ffa300 30.8px,#ff8a00 48.0px,#ff5600 48.0px,#ff5400 50.9px,#ffc200 50.9px,#ff8400 69.5px,#ff5a00 69.5px,#ff2400 96.8px,#800000 96.8px,#800000 167.5px,#ffffff 167.5px,#ffffff 168.0px)"></i>
<i style="height:2px;background:linear-gradient(90deg,#ffffff 0.0px,#ffffff 0.7px,#0040ff 0.7px,#0040ff 12.0px,#0060ff 12.0px,#08fff7 22.8px,#f0ff0f 22.8px,#fff600 30.8px,#ffa300 30.8px,#ff8a00 48.0px,#ff5600 48.0px,#ff5400 50.9px,#ffc200 50.9px,#ff8400 69.4px,#ff5a00 69.4px,#ff2400 96.7px,#800000 96.7px,#800000 167.5px,#ffffff 167.5px,#ffffff 168.0px)"></i>
<i style="height:2px;background:linear-gradient(90deg,#ffffff 0.0px,#ffffff 0.7px,#0040ff 0.7px,#0040ff 12.0px,#0060ff 12.0px,#08fff7 22.8px,#f0ff0f 22.8px,#fff600 30.9px,#ffa300 30.9px,#ff8a00 48.0px,#ff5600 48.0px,#ff5400 51.0px,#ffc200 51.0px,#ff8400 69.2px,#ff5a00 69.2px,#ff2400 96.5px,#800000 96.5px,#800000 167.5px,#ffffff 167.5px,#ffffff 168.0px)"></i>
<i style="height:2px;background:linear-gradient(90deg,#ffffff 0.0px,#ffffff 0.7px,#0040ff 0.7px,#0040ff 12.0px,#0060ff 12.0px,#08fff7 22.8px,#f0ff0f 22.8px,#fff600 30.9px,#ffa300 30.9px,#ff8a00 48.0px,#ff5600 48.0px,#ff5300 51.0px,#ffc200 51.0px,#ff8400 69.1px,#ff5a00 69.1px,#ff2400 96.4px,#800000 96.4px,#800000 167.5px,#ffffff 167.5px,#ffffff 168.0px)"></i>
<i style="height:2px;background:linear-gradient(90deg,#ffffff 0.0px,#ffffff 0.7px,#0040ff 0.7px,#0040ff 11.9px,#0060ff 11.9px,#08fff7 22.8px,#f0ff0f 22.8px,#fff600 31.0px,#ffa300 31.0px,#ff8a00 48.0px,#ff5600 48.0px,#ff5300 51.0px,#ffc200 51.0px,#ff8400 69.0px,#ff5a00 69.0px,#ff2400 96.3px,#800000 96.3px,#800000 167.5px,#ffffff 167.5px,#ffffff 168.0px)"></i>
<i style="height:2px;background:linear-gradient(90deg,#ffffff 0.0px,#ffffff 0.7px,#0040ff 0.7px,#0040ff 11.9px,#0060ff 11.9px,#08fff7 22.8px,#f0ff0f 22.8px,#fff600 31.0px,#ffa300 31.0px,#ff8a00 48.0px,#ff5600 48.0px,#ff5300 51.1px,#ffc200 51.1px,#ff8400 68.8px,#ff5a00 68.8px,#ff2400 96.1px,#800000 96.1px,#800000 167.5px,#ffffff 167.5px,#ffffff 168.0px)"></i>
<i style="height:2px;background:linear-gradient(90deg,#ffffff 0.0px,#ffffff 0.7px,#0040ff 0.7px,#0040ff 11.8px,#0060ff 11.8px,#08fff7 22.7px,#f0ff0f 22.7px,#fff600 31.1px,#ffa300 31.1px,#ff8a00 48.0px,#ff5600 48.0px,#ff5300 51.1px,#ffc200 51.1px,#ff8400 68.7px,#ff5a00 68.7px,#ff2400 96.0px,#800000 96.0px,#800000 167.5px,#ffffff 167.5px,#ffffff 168.0px)"></i>
<i style="height:2px;background:linear-gradient(90deg,#ffffff 0.0px,#ffffff 0.7px,#0040ff 0.7px,#0040ff 11.8px,#0060ff 11.8px,#08fff7 22.7px,#f0ff0f 22.7px,#fff600 31.1px,#ffa300 31.1px,#ff8a00 48.0px,#ff5600 48.0px,#ff5300 51.1px,#ffc200 51.1px,#ff8400 68.6px,#ff5a00 68.6px,#ff2400 95.9px,#800000 95.9px,#800000 167.5px,#ffffff 167.5px,#ffffff 168.0px)"></i>
<i style="height:2px;background:linear-gradient(90deg,#ffffff 0.0px,#ffffff 0.7px,#0040ff 0.7px,#0040ff 11.7px,#0060ff 11.7px,#08fff7 22.7px,#f0ff0f 22.7px,#fff600 31.2px,#ffa300 31.2px,#ff8a00 48.0px,#ff5600 48.0px,#ff5300 51.2px,#ffc200 51.2px,#ff8400 68.4px,#ff5a00 68.4px,#ff2400 95.7px,#800000 95.7px,#800000 167.5px,#ffffff 167.5px,#ffffff 168.0px)"></i>
<i style="height:2px;background:linear-gradient(90deg,#ffffff 0.0px,#ffffff 0.7px,#0040ff 0.7px,#0040ff 11.7px,#0060ff 11.7px,#08fff7 22.7px,#f0ff0f 22.7px,#fff600 31.2px,#ffa300 31.2px,#ff8a00 48.0px,#ff5600 48.0px,#ff5300 51.2px,#ffc200 51.2px,#ff8400 68.3px,#ff5a00 68.3px,#ff2400 95.6px,#800000 95.6px,#800000 167.5px,#ffffff 167.5px,#ffffff 168.0px)"></i>
<i style="height:2px;background:linear-gradient(90deg,#ffffff 0.0px,#ffffff 0.7px,#0040ff 0.7px,#0040ff 11.7px,#0060ff 11.7px,#08fff7 22.7px,#f0ff0f 22.7px,#fff600 31.3px,#ffa300 31.3px,#ff8a00 48.0px,#ff5600 48.0px,#ff5300 51.2px,#ffc200 51.2px,#ff8400 68.2px,#ff5a00 68.2px,#ff2400 95.5px,#800000 95.5px,#800000 167.5px,#ffffff 167.5px,#ffffff 168.0px)"></i>
<i style="height:2px;background:linear-gradient(90deg,#ffffff 0.0px,#ffffff 0.7px,#0040ff 0.7px,#0040ff 11.6px,#0060ff 11.6px,#08fff7 22.6px,#f0ff0f 22.6px,#fff600 31.3px,#ffa300 31.3px,#ff8a00 48.0px,#ff5600 48.0px,#ff5300 51.3px,#ffc200 51.3px,#ff8400 68.0px,#ff5a00 68.0px,#ff2400 95.3px,#800000 95.3px,#800000 167.5px,#ffffff 167.5px,#ffffff 168.0px)"></i>
<i style="height:2px;background:linear-gradient(90deg,#ffffff 0.0px,#ffffff 0.7px,#0040ff 0.7px,#0040ff 11.6px,#0060ff 11.6px,#08fff7 22.6px,#f0ff0f 22.6px,#fff600 31.4px,#ffa300 31.4px,#ff8a00 48.0px,#ff5600 48.0px,#ff5300 51.3px,#ffc200 51.3px,#ff8400 67.9px,#ff5a00 67.9px,#ff2400 95.2px,#800000 95.2px,#800000 167.5px,#ffffff 167.5px,#ffffff 168.0px)"></i>
<i style="height:2px;background:linear-gradient(90deg,#ffffff 0.0px,#ffffff 0.7px,#0040ff 0.7px,#0040ff 11.5px,#0060ff 11.5px,#08fff7 22.6px,#f0ff0f 22.6px,#fff600 31.4px,#ffa300 31.4px,#ff8a00 48.0px,#ff5600 48.0px,#ff5300 51.3px,#ffc200 51.3px,#ff8400 67.8px,#ff5a00 67.8px,#ff2400 95.1px,#800000 95.1px,#800000 167.5px,#ffffff 167.5px,#ffffff 168.0px)"></i>
<i style="height:2px;background:linear-gradient(90deg,#ffffff 0.0px,#ffffff 0.7px,#0040ff 0.7px,#0040ff 11.5px,#0060ff 11.5px,#08fff7 22.6px,#f0ff0f 22.6px,#fff600 31.5px,#ffa300 31.5px,#ff8a00 48.0px,#ff5600 48.0px,#ff5300 51.4px,#ffc200 51.4px,#ff8400 67.6px,#ff5a00 67.6px,#ff2400 94.9px,#800000 94.9px,#800000 167.5px,#ffffff 167.5px,#ffffff 168.0px)"></i>
<i style="height:2px;background:linear-gradient(90deg,#ffffff 0.0px,#ffffff 0.7px,#0040ff 0.7px,#0040ff 11.5px,#0060ff 11.5px,#08fff7 22.6px,#f0ff0f 22.6px,#fff600 31.5px,#ffa300 31.5px,#ff8a00 48.0px,#ff5600 48.0px,#ff5300 51.4px,#ffc200 51.4px,#ff8400 67.5px,#ff5a00 67.5px,#ff2400 94.8px,#800000 94.8px,#800000 167.5px,#ffffff 167.5px,#ffffff 168.0px)"></i>
<i style="height:2px;background:linear-gradient(90deg,#ffffff 0.0px,#ffffff 0.7px,#0040ff 0.7px,#0040ff 11.4px,#0060ff 11.4px,#08fff7 22.6px,#f0ff0f 22.6px,#fff600 31.6px,#ffa300 31.6px,#ff8a00 48.0px,#ff5600 48.0px,#ff5300 51.4px,#ffc200 51.4px,#ff8400 67.4px,#ff5a00 67.4px,#ff2400 94.7px,#800000 94.7px,#800000 167.5px,#ffffff 167.5px,#ffffff 168.0px)"></i>
<i style="height:2px;background:linear-gradient(90deg,#ffffff 0.0px,#ffffff 0.7px,#0040ff 0.7px,#0040ff 11.4px,#0060ff 11.4px,#08fff7 22.5px,#f0ff0f 22.5px,#fff600 31.6px,#ffa300 31.6px,#ff8a00 48.0px,#ff5600 48.0px,#ff5300 51.5px,#ffc200 51.5px,#ff8400 67.2px,#ff5a00 67.2px,#ff2400 94.5px,#800000 94.5px,#800000 167.5px,#ffffff 167.5px,#ffffff 168.0px)"></i>
<i style="height:2px;background:linear-gradient(90deg,#ffffff 0.0px,#ffffff 0.7px,#0040ff 0.7px,#0040ff 11.3px,#0060ff 11.3px,#08fff7 22.5px,#f0ff0f 22.5px,#fff600 31.7px,#ffa300 31.7px,#ff8a00 48.0px,#ff5600 48.0px,#ff5300 51.5px,#ffc200 51.5px,#ff8400 67.1px,#ff5a00 67.1px,#ff2400 94.4px,#800000 94.4px,#800000 167.5px,#ffffff 167.5px,#ffffff 168.0px)"></i>
<i style="height:2px;background:linear-gradient(90deg,#ffffff 0.0px,#ffffff 0.7px,#0040ff 0.7px,#0040ff 11.3px,#0060ff 11.3px,#08fff7 22.5px,#f0ff0f 22.5px,#fff600 31.7px,#ffa300 31.7px,#ff8a00 48.0px,#ff5600 48.0px,#ff5300 51.5px,#ffc200 51.5px,#ff8400 67.0px,#ff5a00 67.0px,#ff2400 94.3px,#800000 94.3px,#800000 167.5px,#ffffff 167.5px,#ffffff 168.0px)"></i>
<i style="height:2px;background:linear-gradient(90deg,#ffffff 0.0px,#ffffff 0.7px,#0040ff 0.7px,#0040ff 11.2px,#0060ff 11.2px,#08fff7 22.5px,#f0ff0f 22.5px,#fff600 31.8px,#ffa300 31.8px,#ff8a00 48.0px,#ff5600 48.0px,#ff5300 51.6px,#ffc200 51.6px,#ff8400 66.8px,#ff5a00 66.8px,#ff2400 94.1px,#800000 94.1px,#800000 167.5px,#ffffff 167.5px,#ffffff 168.0px)"></i>
<i style="height:2px;background:linear-gradient(90deg,#ffffff 0.0px,#ffffff 0.7px,#0040ff 0.7px,#0040ff 11.2px,#0060ff 11.2px,#08fff7 22.5px,#f0ff0f 22.5px,#fff600 31.8px,#ffa300 31.8px,#ff8a00 48.0px,#ff5600 48.0px,#ff5300 51.6px,#ffc200 51.6px,#ff8400 66.7px,#ff5a00 66.7px,#ff2400 94.0px,#800000 94.0px,#800000 167.5px,#ffffff 167.5px,#ffffff 168.0px)"></i>
<i style="height:2px;background:linear-gradient(90deg,#ffffff 0.0px,#ffffff 0.7px,#0040ff 0.7px,#0040ff 11.1px,#0060ff 11.1px,#08fff7 22.5px,#f0ff0f 22.5px,#fff600 31.9px,#ffa300 31.9px,#ff8a00 48.0px,#ff5600 48.0px,#ff5300 51.6px,#ffc200 51.6px,#ff8400 66.5px,#ff5a00 66.5px,#ff2400 93.8px,#800000 93.8px,#800000 167.5px,#ffffff 167.5px,#ffffff 168.0px)"></i>
<i style="height:2px;background:linear-gradient(90deg,#ffffff 0.0px,#ffffff 0.7px,#0040ff 0.7px,#0040ff 11.1px,#0060ff 11.1px,#08fff7 22.4px,#f0ff0f 22.4px,#fff600 31.9px,#ffa300 31.9px,#ff8a00 48.0px,#ff5600 48.0px,#ff5300 51.7px,#ffc200 51.7px,#ff8400 66.4px,#ff5a00 66.4px,#ff2400 93.7px,#800000 93.7px,#800000 167.5px,#ffffff 167.5px,#ffffff 168.0px)"></i>
<i style="height:2px;background:linear-gradient(90deg,#ffffff 0.0px,#ffffff 0.7px,#0040ff 0.7px,#0040ff 11.0px,#0060ff 11.0px,#08fff7 22.4px,#f0ff0f 22.4px,#fff600 32.0px,#ffa300 32.0px,#ff8a00 48.0px,#ff5600 48.0px,#ff5300 51.7px,#ffc200 51.7px,#ff8400 66.2px,#ff5a00 66.2px,#ff2400 93.5px,#800000 93.5px,#800000 167.5px,#ffffff 167.5px,#ffffff 168.0px)"></i>
<i style="height:2px;background:linear-gradient(90deg,#ffffff 0.0px,#ffffff 0.7px,#0040ff 0.7px,#0040ff 10.9px,#0060ff 10.9px,#08fff7 22.4px,#f0ff0f 22.4px,#fff600 32.0px,#ffa300 32.0px,#ff8a00 48.0px,#ff5600 48.0px,#ff5300 51.8px,#ffc200 51.8px,#ff8400 66.1px,#ff5a00 66.1px,#ff2400 93.4px,#800000 93.4px,#800000 167.5px,#ffffff 167.5px,#ffffff 168.0px)"></i>
<i style="height:2px;background:linear-gradient(90deg,#ffffff 0.0px,#ffffff 0.7px,#0040ff 0.7px,#0040ff 10.9px,#0060ff 10.9px,#08fff7 22.4px,#f0ff0f 22.4px,#fff600 32.1px,#ffa300 32.1px,#ff8a00 48.0px,#ff5600 48.0px,#ff5300 51.8px,#ffc200 51.8px,#ff8400 65.9px,#ff5a00 65.9px,#ff2400 93.2px,#800000 93.2px,#800000 167.5px,#ffffff 167.5px,#ffffff 168.0px)"></i>
<i style="height:2px;background:linear-gradient(90deg,#ffffff 0.0px,#ffffff 0.7px,#0040ff 0.7px,#0040ff 10.8px,#0060ff 10.8px,#08fff7 22.4px,#f0ff0f 22.4px,#fff600 32.1px,#ffa300 32.1px,#ff8a00 48.0px,#ff5600 48.0px,#ff5300 51.8px,#ffc200 51.8px,#ff8400 65.8px,#ff5a00 65.8px,#ff2400 93.1px,#800000 93.1px,#800000 167.5px,#ffffff 167.5px,#ffffff 168.0px)"></i>
<i style="height:2px;background:linear-gradient(90deg,#ffffff 0.0px,#ffffff 0.7px,#0040ff 0.7px,#0040ff 10.7px,#0060ff 10.7px,#08fff7 22.3px,#f0ff0f 22.3px,#fff600 32.2px,#ffa300 32.2px,#ff8a00 48.0px,#ff5600 48.0px,#ff5300 51.9px,#ffc200 51.9px,#ff8400 65.6px,#ff5a00 65.6px,#ff2400 92.9px,#800000 92.9px,#800000 167.5px,#ffffff 167.5px,#ffffff 168.0px)"></i>
<i style="height:2px;background:linear-gradient(90deg,#ffffff 0.0px,#ffffff 0.7px,#0040ff 0.7px,#0040ff 10.7px,#0060ff 10.7px,#08fff7 22.3px,#f0ff0f 22.3px,#fff600 32.2px,#ffa300 32.2px,#ff8a00 48.0px,#ff5600 48.0px,#ff5300 51.9px,#ffc200 51.9px,#ff8400 65.5px,#ff5a00 65.5px,#ff2400 92.8px,#800000 92.8px,#800000 167.5px,#ffffff 167.5px,#ffffff 168.0px)"></i>
<i style="height:2px;background:linear-gradient(90deg,#ffffff 0.0px,#ffffff 0.7px,#0040ff 0.7px,#0040ff 10.6px,#0060ff 10.6px,#08fff7 22.3px,#f0ff0f 22.3px,#fff600 32.3px,#ffa300 32.3px,#ff8a00 48.0px,#ff5600 48.0px,#ff5300 52.0px,#ffc200 52.0px,#ff8400 65.3px,#ff5a00 65.3px,#ff2400 92.6px,#800000 92.6px,#800000 167.5px,#ffffff 167.5px,#ffffff 168.0px)"></i>
<i style="height:2px;background:linear-gradient(90deg,#ffffff 0.0px,#ffffff 0.7px,#0040ff 0.7px,#0040ff 10.5px,#0060ff 10.5px,#08fff7 22.3px,#f0ff0f 22.3px,#fff600 32.4px,#ffa300 32.4px,#ff8a00 48.0px,#ff5600 48.0px,#ff5300 52.0px,#ffc200 52.0px,#ff8400 65.2px,#ff5a00 65.2px,#ff2400 92.5px,#800000 92.5px,#800000 167.5px,#ffffff 167.5px,#ffffff 168.0px)"></i>
<i style="height:2px;background:linear-gradient(90deg,#ffffff 0.0px,#ffffff 0.7px,#0040ff 0.7px,#0040ff 10.5px,#0060ff 10.5px,#08fff7 22.3px,#f0ff0f 22.3px,#fff600 32.4px,#ffa300 32.4px,#ff8a00 48.0px,#ff5600 48.0px,#ff5300 52.1px,#ffc200 52.1px,#ff8400 65.0px,#ff5a00 65.0px,#ff2400 92.3px,#800000 92.3px,#800000 167.5px,#ffffff 167.5px,#ffffff 168.0px)"></i>
<i style="height:2px;background:linear-gradient(90deg,#ffffff 0.0px,#ffffff 0.7px,#0040ff 0.7px,#0040ff 10.4px,#0060ff 10.4px,#08fff7 22.3px,#f0ff0f 22.3px,#fff600 32.5px,#ffa300 32.5px,#ff8a00 48.0px,#ff5600 48.0px,#ff5300 52.1px,#ffc200 52.1px,#ff8400 64.9px,#ff5a00 64.9px,#ff2400 92.2px,#800000 92.2px,#800000 167.5px,#ffffff 167.5px,#ffffff 168.0px)"></i>
<i style="height:2px;background:linear-gradient(90deg,#ffffff 0.0px,#ffffff 0.7px,#0040ff 0.7px,#0040ff 10.3px,#0060ff 10.3px,#08fff7 22.2px,#f0ff0f 22.2px,#fff600 32.5px,#ffa300 32.5px,#ff8a00 48.0px,#ff5600 48.0px,#ff5300 52.1px,#ffc200 52.1px,#ff8400 64.7px,#ff5a00 64.7px,#ff2400 92.0px,#800000 92.0px,#800000 167.5px,#ffffff 167.5px,#ffffff 168.0px)"></i>
<i style="height:2px;background:linear-gradient(90deg,#ffffff 0.0px,#ffffff 0.7px,#0040ff 0.7px,#0040ff 10.2px,#0060ff 10.2px,#08fff7 22.2px,#f0ff0f 22.2px,#fff600 32.6px,#ffa300 32.6px,#ff8a00 48.0px,#ff5600 48.0px,#ff5200 52.2px,#ffc200 52.2px,#ff8400 64.6px,#ff5a00 64.6px,#ff2400 91.9px,#800000 91.9px,#800000 167.5px,#ffffff 167.5px,#ffffff 168.0px)"></i>
<i style="height:2px;background:linear-gradient(90deg,#ffffff 0.0px,#ffffff 0.7px,#0040ff 0.7px,#0040ff 10.2px,#0060ff 10.2px,#08fff7 22.2px,#f0ff0f 22.2px,#fff600 32.6px,#ffa300 32.6px,#ff8a00 48.0px,#ff5600 48.0px,#ff5200 52.2px,#ffc200 52.2px,#ff8400 64.4px,#ff5a00 64.4px,#ff2400 91.7px,#800000 91.7px,#800000 167.5px,#ffffff 167.5px,#ffffff 168.0px)"></i>
<i style="height:2px;background:linear-gradient(90deg,#ffffff 0.0px,#ffffff 0.7px,#0040ff 0.7px,#0040ff 10.1px,#0060ff 10.1px,#08fff7 22.2px,#f0ff0f 22.2px,#fff600 32.7px,#ffa300 32.7px,#ff8a00 48.0px,#ff5600 48.0px,#ff5200 52.3px,#ffc200 52.3px,#ff8400 64.3px,#ff5a00 64.3px,#ff2400 91.6px,#800000 91.6px,#800000 167.5px,#ffffff 167.5px,#ffffff 168.0px)"></i>
<i style="height:2px;background:linear-gradient(90deg,#ffffff 0.0px,#ffffff 0.7px,#0040ff 0.7px,#0040ff 10.0px,#0060ff 10.0px,#08fff7 22.2px,#f0ff0f 22.2px,#fff600 32.7px,#ffa300 32.7px,#ff8a00 48.0px,#ff5600 48.0px,#ff5200 52.3px,#ffc200 52.3px,#ff8400 64.1px,#ff5a00 64.1px,#ff2400 91.4px,#800000 91.4px,#800000 167.5px,#ffffff 167.5px,#ffffff 168.0px)"></i>
<i style="height:2px;background:linear-gradient(90deg,#ffffff 0.0px,#ffffff 0.7px,#0040ff 0.7px,#0040ff 10.0px,#0060ff 10.0px,#08fff7 22.2px,#f0ff0f 22.2px,#fff600 32.8px,#ffa300 32.8px,#ff8a00 48.0px,#ff5600 48.0px,#ff5200 52.3px,#ffc200 52.3px,#ff8400 64.0px,#ff5a00 64.0px,#ff2400 91.3px,#800000 91.3px,#800000 167.5px,#ffffff 167.5px,#ffffff 168.0px)"></i>
<i style="height:2px;background:linear-gradient(90deg,#ffffff 0.0px,#ffffff 0.7px,#0040ff 0.7px,#0040ff 9.9px,#0060ff 9.9px,#08fff7 22.1px,#f0ff0f 22.1px,#fff600 32.8px,#ffa300 32.8px,#ff8a00 48.0px,#ff5600 48.0px,#ff5200 52.4px,#ffc200 52.4px,#ff8400 63.8px,#ff5a00 63.8px,#ff2400 91.1px,#800000 91.1px,#800000 167.5px,#ffffff 167.5px,#ffffff 168.0px)"></i>
<i style="height:2px;background:linear-gradient(90deg,#ffffff 0.0px,#ffffff 0.7px,#0040ff 0.7px,#0040ff 9.8px,#0060ff 9.8px,#08fff7 22.1px,#f0ff0f 22.1px,#fff600 32.9px,#ffa300 32.9px,#ff8a00 48.0px,#ff5600 48.0px,#ff5200 52.4px,#ffc200 52.4px,#ff8400 63.7px,#ff5a00 63.7px,#ff2400 91.0px,#800000 91.0px,#800000 167.5px,#ffffff 167.5px,#ffffff 168.0px)"></i>
<i style="height:2px;background:linear-gradient(90deg,#ffffff 0.0px,#ffffff 0.7px,#0040ff 0.7px,#0040ff 9.8px,#0060ff 9.8px,#08fff7 22.1px,#f0ff0f 22.1px,#fff600 32.9px,#ffa300 32.9px,#ff8a00 48.0px,#ff5600 48.0px,#ff5200 52.5px,#ffc200 52.5px,#ff8400 63.5px,#ff5a00 63.5px,#ff2400 90.8px,#800000 90.8px,#800000 167.5px,#ffffff 167.5px,#ffffff 168.0px)"></i>
<i style="height:2px;background:linear-gradient(90deg,#ffffff 0.0px,#ffffff 0.7px,#0040ff 0.7px,#0040ff 9.7px,#0060ff 9.7px,#08fff7 22.1px,#f0ff0f 22.1px,#fff600 33.0px,#ffa300 33.0px,#ff8a00 48.0px,#ff5600 48.0px,#ff5200 52.5px,#ffc200 52.5px,#ff8400 63.4px,#ff5a00 63.4px,#ff2400 90.7px,#800000 90.7px,#800000 167.5px,#ffffff 167.5px,#ffffff 168.0px)"></i>
<i style="height:2px;background:linear-gradient(90deg,#ffffff 0.0px,#ffffff 0.7px,#0040ff 0.7px,#0040ff 9.6px,#0060ff 9.6px,#08fff7 22.1px,#f0ff0f 22.1px,#fff600 33.0px,#ffa300 33.0px,#ff8a00 48.0px,#ff5600 48.0px,#ff5200 52.6px,#ffc200 52.6px,#ff8400 63.2px,#ff5a00 63.2px,#ff2400 90.5px,#800000 90.5px,#800000 167.5px,#ffffff 167.5px,#ffffff 168.0px)"></i>
<i style="height:2px;background:linear-gradient(90deg,#ffffff 0.0px,#ffffff 0.7px,#0040ff 0.7px,#0040ff 9.6px,#0060ff 9.6px,#08fff7 22.0px,#f0ff0f 22.0px,#fff600 33.1px,#ffa300 33.1px,#ff8a00 48.0px,#ff5600 48.0px,#ff5200 52.6px,#ffc200 52.6px,#ff8400 63.1px,#ff5a00 63.1px,#ff2400 90.4px,#800000 90.4px,#800000 167.5px,#ffffff 167.5px,#ffffff 168.0px)"></i>
<i style="height:2px;background:linear-gradient(90deg,#ffffff 0.0px,#ffffff 0.7px,#0040ff 0.7px,#0040ff 9.5px,#0060ff 9.5px,#08fff7 22.0px,#f0ff0f 22.0px,#fff600 33.1px,#ffa300 33.1px,#ff8a00 48.0px,#ff5600 48.0px,#ff5200 52.6px,#ffc200 52.6px,#ff8400 62.9px,#ff5a00 62.9px,#ff2400 90.2px,#800000 90.2px,#800000 167.5px,#ffffff 167.5px,#ffffff 168.0px)"></i>
<i style="height:2px;background:linear-gradient(90deg,#ffffff 0.0px,#ffffff 0.7px,#0040ff 0.7px,#0040ff 9.4px,#0060ff 9.4px,#08fff7 22.0px,#f0ff0f 22.0px,#fff600 33.2px,#ffa300 33.2px,#ff8a00 48.0px,#ff5600 48.0px,#ff5200 52.7px,#ffc200 52.7px,#ff8400 62.8px,#ff5a00 62.8px,#ff2400 90.1px,#800000 90.1px,#800000 167.5px,#ffffff 167.5px,#ffffff 168.0px)"></i>
<i style="height:1px;background:linear-gradient(90deg,#ffffff 0.0px,#ffffff 0.7px,#0040ff 0.7px,#0040ff 9.4px,#0060ff 9.4px,#08fff7 22.0px,#f0ff0f 22.0px,#fff600 33.2px,#ffa300 33.2px,#ff8a00 48.0px,#ff5600 48.0px,#ff5200 52.7px,#ffc200 52.7px,#ff8400 62.7px,#ff5a00 62.7px,#ff2400 90.0px,#800000 90.0px,#800000 167.5px,#ffffff 167.5px,#ffffff 168.0px)"></i>
</div>
<div id="bp">
<i style="width:2px;background:linear-gradient(180deg,#ffffff 0.0px,#ffffff 0.2px,#000080 0.2px,#000080 3.0px,#0060ff 3.0px,#08fff7 12.6px,#f0ff0f 12.6px,#fff600 20.0px,#ffa300 20.0px,#ff8a00 45.7px,#ff5600 45.7px,#ff3a00 77.5px,#800000 77.5px,#800000 109.3px,#ffc200 109.3px,#ff8400 117.8px,#ff5a00 117.8px,#ff2400 143.7px,#800000 143.7px,#800000 162.6px,#ffffff 162.6px,#ffffff 163.0px)"></i>
<i style="width:2px;background:linear-gradient(180deg,#ffffff 0.0px,#ffffff 0.2px,#000080 0.2px,#000080 3.1px,#0060ff 3.1px,#08fff7 12.7px,#f0ff0f 12.7px,#fff600 20.1px,#ffa300 20.1px,#ff8a00 45.7px,#ff5600 45.7px,#ff3a00 77.6px,#800000 77.6px,#800000 108.8px,#ffc200 108.8px,#ff8400 117.3px,#ff5a00 117.3px,#ff2400 143.2px,#800000 143.2px,#800000 162.6px,#ffffff 162.6px,#ffffff 163.0px)"></i>
<i style="width:2px;background:linear-gradient(180deg,#ffffff 0.0px,#ffffff 0.2px,#000080 0.2px,#000080 3.1px,#0060ff 3.1px,#08fff7 12.8px,#f0ff0f 12.8px,#fff600 20.1px,#ffa300 20.1px,#ff8a00 45.7px,#ff5600 45.7px,#ff3a00 77.6px,#800000 77.6px,#800000 108.3px,#ffc200 108.3px,#ff8400 116.8px,#ff5a00 116.8px,#ff2400 142.7px,#800000 142.7px,#800000 162.6px,#ffffff 162.6px,#ffffff 163.0px)"></i>
<i style="width:2px;background:linear-gradient(180deg,#ffffff 0.0px,#ffffff 0.2px,#000080 0.2px,#000080 3.2px,#0060ff 3.2px,#08fff7 12.8px,#f0ff0f 12.8px,#fff600 20.2px,#ffa300 20.2px,#ff8a00 45.7px,#ff5600 45.7px,#ff3a00 77.7px,#800000 77.7px,#800000 107.8px,#ffc200 107.8px,#ff8400 116.3px,#ff5a00 116.3px,#ff2400 142.2px,#800000 142.2px,#800000 162.6px,#ffffff 162.6px,#ffffff 163.0px)"></i>
<i style="width:2px;background:linear-gradient(180deg,#ffffff 0.0px,#ffffff 0.2px,#000080 0.2px,#000080 3.3px,#0060ff 3.3px,#08fff7 12.9px,#f0ff0f 12.9px,#fff600 20.3px,#ffa300 20.3px,#ff8a00 45.7px,#ff5600 45.7px,#ff3a00 77.7px,#800000 77.7px,#800000 107.3px,#ffc200 107.3px,#ff8400 115.8px,#ff5a00 115.8px,#ff2400 141.7px,#800000 141.7px,#800000 162.6px,#ffffff 162.6px,#ffffff 163.0px)"></i>
<i style="width:2px;background:linear-gradient(180deg,#ffffff 0.0px,#ffffff 0.2px,#000080 0.2px,#000080 3.3px,#0060ff 3.3px,#08fff7 13.0px,#f0ff0f 13.0px,#fff600 20.4px,#ffa300 20.4px,#ff8a00 45.7px,#ff5600 45.7px,#ff3a00 77.8px,#800000 77.8px,#800000 106.8px,#ffc200 106.8px,#ff8400 115.2px,#ff5a00 115.2px,#ff2400 141.1px,#800000 141.1px,#800000 162.6px,#ffffff 162.6px,#ffffff 163.0px)"></i>
<i style="width:2px;background:linear-gradient(180deg,#ffffff 0.0px,#ffffff 0.2px,#000080 0.2px,#000080 3.4px,#0060ff 3.4px,#08fff7 13.1px,#f0ff0f 13.1px,#fff600 20.4px,#ffa300 20.4px,#ff8a00 45.7px,#ff5600 45.7px,#ff3a00 77.9px,#800000 77.9px,#800000 106.3px,#ffc200 106.3px,#ff8400 114.7px,#ff5a00 114.7px,#ff2400 140.6px,#800000 140.6px,#800000 162.6px,#ffffff 162.6px,#ffffff 163.0px)"></i>
<i style="width:2px;background:linear-gradient(180deg,#ffffff 0.0px,#ffffff 0.2px,#000080 0.2px,#000080 3.4px,#0060ff 3.4px,#08fff7 13.2px,#f0ff0f 13.2px,#fff600 20.5px,#ffa300 20.5px,#ff8a00 45.7px,#ff5600 45.7px,#ff3a00 77.9px,#800000 77.9px,#800000 105.8px,#ffc200 105.8px,#ff8400 114.2px,#ff5a00 114.2px,#ff2400 140.1px,#800000 140.1px,#800000 162.6px,#ffffff 162.6px,#ffffff 163.0px)"></i>
<i style="width:2px;background:linear-gradient(180deg,#ffffff 0.0px,#ffffff 0.2px,#000080 0.2px,#000080 3.5px,#0060ff 3.5px,#08fff7 13.3px,#f0ff0f 13.3px,#fff600 20.6px,#ffa300 20.6px,#ff8a00 45.7px,#ff5600 45.7px,#ff3a00 78.0px,#800000 78.0px,#800000 105.3px,#ffc200 105.3px,#ff8400 113.7px,#ff5a00 113.7px,#ff2400 139.6px,#800000 139.6px,#800000 162.6px,#ffffff 162.6px,#ffffff 163.0px)"></i>
<i style="width:2px;background:linear-gradient(180deg,#ffffff 0.0px,#ffffff 0.2px,#000080 0.2px,#000080 3.6px,#0060ff 3.6px,#08fff7 13.3px,#f0ff0f 13.3px,#fff600 20.7px,#ffa300 20.7px,#ff8a00 45.7px,#ff5600 45.7px,#ff3a00 78.0px,#800000 78.0px,#800000 104.9px,#ffc200 104.9px,#ff8400 113.2px,#ff5a00 113.2px,#ff2400 139.1px,#800000 139.1px,#800000 162.6px,#ffffff 162.6px,#ffffff 163.0px)"></i>
<i style="width:2px;background:linear-gradient(180deg,#ffffff 0.0px,#ffffff 0.2px,#000080 0.2px,#000080 3.6px,#0060ff 3.6px,#08fff7 13.4px,#f0ff0f 13.4px,#fff600 20.7px,#ffa300 20.7px,#ff8a00 45.7px,#ff5600 45.7px,#ff3a00 78.1px,#800000 78.1px,#800000 104.4px,#ffc200 104.4px,#ff8400 112.7px,#ff5a00 112.7px,#ff2400 138.6px,#800000 138.6px,#800000 162.6px,#ffffff 162.6px,#ffffff 163.0px)"></i>
<i style="width:2px;background:linear-gradient(180deg,#ffffff 0.0px,#ffffff 0.2px,#000080 0.2px,#000080 3.7px,#0060ff 3.7px,#08fff7 13.5px,#f0ff0f 13.5px,#fff600 20.8px,#ffa300 20.8px,#ff8a00 45.7px,#ff5600 45.7px,#ff3a00 78.2px,#800000 78.2px,#800000 103.9px,#ffc200 103.9px,#ff8400 112.2px,#ff5a00 112.2px,#ff2400 138.1px,#800000 138.1px,#800000 162.6px,#ffffff 162.6px,#ffffff 163.0px)"></i>
<i style="width:2px;background:linear-gradient(180deg,#ffffff 0.0px,#ffffff 0.2px,#000080 0.2px,#000080 3.8px,#0060ff 3.8px,#08fff7 13.6px,#f0ff0f 13.6px,#fff600 20.9px,#ffa300 20.9px,#ff8a00 45.7px,#ff5600 45.7px,#ff3a00 78.2px,#800000 78.2px,#800000 103.4px,#ffc200 103.4px,#ff8400 111.7px,#ff5a00 111.7px,#ff2400 137.6px,#800000 137.6px,#800000 162.6px,#ffffff 162.6px,#ffffff 163.0px)"></i>
<i style="width:2px;background:linear-gradient(180deg,#ffffff 0.0px,#ffffff 0.2px,#000080 0.2px,#000080 3.8px,#0060ff 3.8px,#08fff7 13.7px,#f0ff0f 13.7px,#fff600 20.9px,#ffa300 20.9px,#ff8a00 45.7px,#ff5600 45.7px,#ff3a00 78.3px,#800000 78.3px,#800000 102.9px,#ffc200 102.9px,#ff8400 111.2px,#ff5a00 111.2px,#ff2400 137.1px,#800000 137.1px,#800000 162.6px,#ffffff 162.6px,#ffffff 163.0px)"></i>
<i style="width:2px;background:linear-gradient(180deg,#ffffff 0.0px,#ffffff 0.2px,#000080 0.2px,#000080 3.9px,#0060ff 3.9px,#08fff7 13.7px,#f0ff0f 13.7px,#fff600 21.0px,#ffa300 21.0px,#ff8a00 45.7px,#ff5600 45.7px,#ff3a00 78.4px,#800000 78.4px,#800000 102.4px,#ffc200 102.4px,#ff8400 110.6px,#ff5a00 110.6px,#ff2400 136.5px,#800000 136.5px,#800000 162.6px,#ffffff 162.6px,#ffffff 163.0px)"></i>
<i style="width:2px;background:linear-gradient(180deg,#ffffff 0.0px,#ffffff 0.2px,#000080 0.2px,#000080 3.9px,#0060ff 3.9px,#08fff7 13.8px,#f0ff0f 13.8px,#fff600 21.1px,#ffa200 21.1px,#ff8a00 45.7px,#ff5600 45.7px,#ff3a00 78.4px,#800000 78.4px,#800000 101.9px,#ffc200 101.9px,#ff8400 110.1px,#ff5a00 110.1px,#ff2400 136.0px,#800000 136.0px,#800000 162.6px,#ffffff 162.6px,#ffffff 163.0px)"></i>
<i style="width:2px;background:linear-gradient(180deg,#ffffff 0.0px,#ffffff 0.2px,#000080 0.2px,#000080 4.0px,#0060ff 4.0px,#08fff7 13.9px,#f0ff0f 13.9px,#fff600 21.2px,#ffa200 21.2px,#ff8a00 45.7px,#ff5600 45.7px,#ff3a00 78.5px,#800000 78.5px,#800000 101.4px,#ffc200 101.4px,#ff8400 109.6px,#ff5a00 109.6px,#ff2400 135.5px,#800000 135.5px,#800000 162.6px,#ffffff 162.6px,#ffffff 163.0px)"></i>
<i style="width:2px;background:linear-gradient(180deg,#ffffff 0.0px,#ffffff 0.2px,#000080 0.2px,#000080 4.1px,#0060ff 4.1px,#08fff7 14.0px,#f0ff0f 14.0px,#fff600 21.2px,#ffa200 21.2px,#ff8a00 45.7px,#ff5600 45.7px,#ff3a00 78.5px,#800000 78.5px,#800000 100.9px,#ffc200 100.9px,#ff8400 109.1px,#ff5a00 109.1px,#ff2400 135.0px,#800000 135.0px,#800000 162.6px,#ffffff 162.6px,#ffffff 163.0px)"></i>
<i style="width:2px;background:linear-gradient(180deg,#ffffff 0.0px,#ffffff 0.2px,#000080 0.2px,#000080 4.1px,#0060ff 4.1px,#08fff7 14.1px,#f0ff0f 14.1px,#fff600 21.3px,#ffa200 21.3px,#ff8a00 45.7px,#ff5600 45.7px,#ff3a00 78.6px,#800000 78.6px,#800000 100.4px,#ffc200 100.4px,#ff8400 108.6px,#ff5a00 108.6px,#ff2400 134.5px,#800000 134.5px,#800000 162.6px,#ffffff 162.6px,#ffffff 163.0px)"></i>
<i style="width:2px;background:linear-gradient(180deg,#ffffff 0.0px,#ffffff 0.2px,#000080 0.2px,#000080 4.2px,#0060ff 4.2px,#08fff7 14.2px,#f0ff0f 14.2px,#fff600 21.4px,#ffa200 21.4px,#ff8a00 45.7px,#ff5600 45.7px,#ff3a00 78.7px,#800000 78.7px,#800000 99.9px,#ffc200 99.9px,#ff8400 108.1px,#ff5a00 108.1px,#ff2400 134.0px,#800000 134.0px,#800000 162.6px,#ffffff 162.6px,#ffffff 163.0px)"></i>
<i style="width:2px;background:linear-gradient(180deg,#ffffff 0.0px,#ffffff 0.2px,#000080 0.2px,#000080 4.3px,#0060ff 4.3px,#08fff7 14.2px,#f0ff0f 14.2px,#fff600 21.4px,#ffa200 21.4px,#ff8a00 45.7px,#ff5600 45.7px,#ff3a00 78.7px,#800000 78.7px,#800000 99.4px,#ffc200 99.4px,#ff8400 107.6px,#ff5a00 107.6px,#ff2400 133.5px,#800000 133.5px,#800000 162.6px,#ffffff 162.6px,#ffffff 163.0px)"></i>
<i style="width:2px;background:linear-gradient(180deg,#ffffff 0.0px,#ffffff 0.2px,#000080 0.2px,#000080 4.3px,#0060ff 4.3px,#08fff7 14.3px,#f0ff0f 14.3px,#fff600 21.5px,#ffa200 21.5px,#ff8a00 45.7px,#ff5600 45.7px,#ff3a00 78.8px,#800000 78.8px,#800000 98.9px,#ffc200 98.9px,#ff8400 107.1px,#ff5a00 107.1px,#ff2400 133.0px,#800000 133.0px,#800000 162.6px,#ffffff 162.6px,#ffffff 163.0px)"></i>
<i style="width:2px;background:linear-gradient(180deg,#ffffff 0.0px,#ffffff 0.2px,#000080 0.2px,#000080 4.4px,#0060ff 4.4px,#08fff7 14.4px,#f0ff0f 14.4px,#fff600 21.6px,#ffa200 21.6px,#ff8a00 45.7px,#ff5600 45.7px,#ff3a00 78.8px,#800000 78.8px,#800000 98.4px,#ffc200 98.4px,#ff8400 106.6px,#ff5a00 106.6px,#ff2400 132.5px,#800000 132.5px,#800000 162.6px,#ffffff 162.6px,#ffffff 163.0px)"></i>
<i style="width:2px;background:linear-gradient(180deg,#ffffff 0.0px,#ffffff 0.2px,#000080 0.2px,#000080 4.4px,#0060ff 4.4px,#08fff7 14.5px,#f0ff0f 14.5px,#fff600 21.7px,#ffa200 21.7px,#ff8a00 45.7px,#ff5600 45.7px,#ff3a00 78.9px,#800000 78.9px,#800000 97.9px,#ffc200 97.9px,#ff8400 106.1px,#ff5a00 106.1px,#ff2400 132.0px,#800000 132.0px,#800000 162.6px,#ffffff 162.6px,#ffffff 163.0px)"></i>
<i style="width:2px;background:linear-gradient(180deg,#ffffff 0.0px,#ffffff 0.2px,#000080 0.2px,#000080 4.5px,#0060ff 4.5px,#08fff7 14.6px,#f0ff0f 14.6px,#fff600 21.7px,#ffa200 21.7px,#ff8a00 45.7px,#ff5600 45.7px,#ff3a00 79.0px,#800000 79.0px,#800000 97.4px,#ffc200 97.4px,#ff8400 105.5px,#ff5a00 105.5px,#ff2400 131.4px,#800000 131.4px,#800000 162.6px,#ffffff 162.6px,#ffffff 163.0px)"></i>
<i style="width:2px;background:linear-gradient(180deg,#ffffff 0.0px,#ffffff 0.2px,#000080 0.2px,#000080 4.6px,#0060ff 4.6px,#08fff7 14.6px,#f0ff0f 14.6px,#fff600 21.8px,#ffa200 21.8px,#ff8a00 45.7px,#ff5600 45.7px,#ff3a00 79.0px,#800000 79.0px,#800000 97.0px,#ffc200 97.0px,#ff8400 105.0px,#ff5a00 105.0px,#ff2400 130.9px,#800000 130.9px,#800000 162.6px,#ffffff 162.6px,#ffffff 163.0px)"></i>
<i style="width:2px;background:linear-gradient(180deg,#ffffff 0.0px,#ffffff 0.2px,#000080 0.2px,#000080 4.6px,#0060ff 4.6px,#08fff7 14.7px,#f0ff0f 14.7px,#fff600 21.9px,#ffa200 21.9px,#ff8a00 45.7px,#ff5600 45.7px,#ff3a00 79.1px,#800000 79.1px,#800000 96.5px,#ffc200 96.5px,#ff8400 104.5px,#ff5a00 104.5px,#ff2400 130.4px,#800000 130.4px,#800000 162.6px,#ffffff 162.6px,#ffffff 163.0px)"></i>
<i style="width:2px;background:linear-gradient(180deg,#ffffff 0.0px,#ffffff 0.2px,#000080 0.2px,#000080 4.7px,#0060ff 4.7px,#08fff7 14.8px,#f0ff0f 14.8px,#fff600 22.0px,#ffa200 22.0px,#ff8a00 45.7px,#ff5600 45.7px,#ff3a00 79.1px,#800000 79.1px,#800000 96.0px,#ffc200 96.0px,#ff8400 104.0px,#ff5a00 104.0px,#ff2400 129.9px,#800000 129.9px,#800000 162.6px,#ffffff 162.6px,#ffffff 163.0px)"></i>
<i style="width:2px;background:linear-gradient(180deg,#ffffff 0.0px,#ffffff 0.2px,#000080 0.2px,#000080 4.8px,#0060ff 4.8px,#08fff7 14.9px,#f0ff0f 14.9px,#fff600 22.0px,#ffa200 22.0px,#ff8a00 45.7px,#ff5600 45.7px,#ff3a00 79.2px,#800000 79.2px,#800000 95.5px,#ffc200 95.5px,#ff8400 103.5px,#ff5a00 103.5px,#ff2400 129.4px,#800000 129.4px,#800000 162.6px,#ffffff 162.6px,#ffffff 163.0px)"></i>
<i style="width:2px;background:linear-gradient(180deg,#ffffff 0.0px,#ffffff 0.2px,#000080 0.2px,#000080 4.8px,#0060ff 4.8px,#08fff7 15.0px,#f0ff0f 15.0px,#fff600 22.1px,#ffa200 22.1px,#ff8a00 45.7px,#ff5600 45.7px,#ff3a00 79.3px,#800000 79.3px,#800000 95.0px,#ffc200 95.0px,#ff8400 103.0px,#ff5a00 103.0px,#ff2400 128.9px,#800000 128.9px,#800000 162.6px,#ffffff 162.6px,#ffffff 163.0px)"></i>
<i style="width:2px;background:linear-gradient(180deg,#ffffff 0.0px,#ffffff 0.2px,#000080 0.2px,#000080 4.9px,#0060ff 4.9px,#08fff7 15.1px,#f0ff0f 15.1px,#fff600 22.2px,#ffa200 22.2px,#ff8a00 45.7px,#ff5600 45.7px,#ff3a00 79.3px,#800000 79.3px,#800000 94.5px,#ffc200 94.5px,#ff8400 102.5px,#ff5a00 102.5px,#ff2400 128.4px,#800000 128.4px,#800000 162.6px,#ffffff 162.6px,#ffffff 163.0px)"></i>
<i style="width:2px;background:linear-gradient(180deg,#ffffff 0.0px,#ffffff 0.2px,#000080 0.2px,#000080 4.9px,#0060ff 4.9px,#08fff7 15.1px,#f0ff0f 15.1px,#fff600 22.2px,#ffa200 22.2px,#ff8a00 45.7px,#ff5600 45.7px,#ff3a00 79.4px,#800000 79.4px,#800000 94.0px,#ffc200 94.0px,#ff8400 102.0px,#ff5a00 102.0px,#ff2400 127.9px,#800000 127.9px,#800000 162.6px,#ffffff 162.6px,#ffffff 163.0px)"></i>
<i style="width:2px;background:linear-gradient(180deg,#ffffff 0.0px,#ffffff 0.2px,#000080 0.2px,#000080 5.0px,#0060ff 5.0px,#08fff7 15.2px,#f0ff0f 15.2px,#fff600 22.3px,#ffa200 22.3px,#ff8a00 45.7px,#ff5600 45.7px,#ff3a00 79.4px,#800000 79.4px,#800000 93.5px,#ffc200 93.5px,#ff8400 101.5px,#ff5a00 101.5px,#ff2400 127.4px,#800000 127.4px,#800000 162.6px,#ffffff 162.6px,#ffffff 163.0px)"></i>
<i style="width:2px;background:linear-gradient(180deg,#ffffff 0.0px,#ffffff 0.2px,#000080 0.2px,#000080 5.1px,#0060ff 5.1px,#08fff7 15.3px,#f0ff0f 15.3px,#fff600 22.4px,#ffa200 22.4px,#ff8a00 45.7px,#ff5600 45.7px,#ff3a00 79.5px,#800000 79.5px,#800000 93.0px,#ffc200 93.0px,#ff8400 100.9px,#ff5a00 100.9px,#ff2400 126.8px,#800000 126.8px,#800000 162.6px,#ffffff 162.6px,#ffffff 163.0px)"></i>
<i style="width:2px;background:linear-gradient(180deg,#ffffff 0.0px,#ffffff 0.2px,#000080 0.2px,#000080 5.1px,#0060ff 5.1px,#08fff7 15.4px,#f0ff0f 15.4px,#fff600 22.5px,#ffa200 22.5px,#ff8a00 45.7px,#ff5600 45.7px,#ff3a00 79.6px,#800000 79.6px,#800000 92.5px,#ffc200 92.5px,#ff8400 100.4px,#ff5a00 100.4px,#ff2400 126.3px,#800000 126.3px,#800000 162.6px,#ffffff 162.6px,#ffffff 163.0px)"></i>
<i style="width:2px;background:linear-gradient(180deg,#ffffff 0.0px,#ffffff 0.2px,#000080 0.2px,#000080 5.2px,#0060ff 5.2px,#08fff7 15.5px,#f0ff0f 15.5px,#fff600 22.5px,#ffa200 22.5px,#ff8a00 45.7px,#ff5600 45.7px,#ff3a00 79.6px,#800000 79.6px,#800000 92.0px,#ffc200 92.0px,#ff8400 99.9px,#ff5a00 99.9px,#ff2400 125.8px,#800000 125.8px,#800000 162.6px,#ffffff 162.6px,#ffffff 163.0px)"></i>
<i style="width:2px;background:linear-gradient(180deg,#ffffff 0.0px,#ffffff 0.2px,#000080 0.2px,#000080 5.3px,#0060ff 5.3px,#08fff7 15.5px,#f0ff0f 15.5px,#fff600 22.6px,#ffa200 22.6px,#ff8a00 45.7px,#ff5600 45.7px,#ff3a00 79.7px,#800000 79.7px,#800000 91.5px,#ffc200 91.5px,#ff8400 99.4px,#ff5a00 99.4px,#ff2400 125.3px,#800000 125.3px,#800000 162.6px,#ffffff 162.6px,#ffffff 163.0px)"></i>
<i style="width:2px;background:linear-gradient(180deg,#ffffff 0.0px,#ffffff 0.2px,#000080 0.2px,#000080 5.3px,#0060ff 5.3px,#08fff7 15.6px,#f0ff0f 15.6px,#fff600 22.7px,#ffa200 22.7px,#ff8a00 45.7px,#ff5600 45.7px,#ff3a00 79.7px,#800000 79.7px,#800000 91.0px,#ffc200 91.0px,#ff8400 98.9px,#ff5a00 98.9px,#ff2400 124.8px,#800000 124.8px,#800000 162.6px,#ffffff 162.6px,#ffffff 163.0px)"></i>
<i style="width:2px;background:linear-gradient(180deg,#ffffff 0.0px,#ffffff 0.2px,#000080 0.2px,#000080 5.4px,#0060ff 5.4px,#08fff7 15.7px,#f0ff0f 15.7px,#fff600 22.7px,#ffa200 22.7px,#ff8a00 45.7px,#ff5600 45.7px,#ff3a00 79.8px,#800000 79.8px,#800000 90.5px,#ffc200 90.5px,#ff8400 98.4px,#ff5a00 98.4px,#ff2400 124.3px,#800000 124.3px,#800000 162.6px,#ffffff 162.6px,#ffffff 163.0px)"></i>
<i style="width:2px;background:linear-gradient(180deg,#ffffff 0.0px,#ffffff 0.2px,#000080 0.2px,#000080 5.4px,#0060ff 5.4px,#08fff7 15.8px,#f0ff0f 15.8px,#fff600 22.8px,#ffa200 22.8px,#ff8a00 45.7px,#ff5600 45.7px,#ff3a00 79.9px,#800000 79.9px,#800000 90.0px,#ffc200 90.0px,#ff8400 97.9px,#ff5a00 97.9px,#ff2400 123.8px,#800000 123.8px,#800000 162.6px,#ffffff 162.6px,#ffffff 163.0px)"></i>
<i style="width:2px;background:linear-gradient(180deg,#ffffff 0.0px,#ffffff 0.2px,#000080 0.2px,#000080 5.5px,#0060ff 5.5px,#08fff7 15.9px,#f0ff0f 15.9px,#fff600 22.9px,#ffa200 22.9px,#ff8a00 45.7px,#ff5600 45.7px,#ff3a00 79.9px,#800000 79.9px,#800000 89.5px,#ffc200 89.5px,#ff8400 97.4px,#ff5a00 97.4px,#ff2400 123.3px,#800000 123.3px,#800000 162.6px,#ffffff 162.6px,#ffffff 163.0px)"></i>
<i style="width:2px;background:linear-gradient(180deg,#ffffff 0.0px,#ffffff 0.2px,#000080 0.2px,#000080 5.6px,#0060ff 5.6px,#08fff7 16.0px,#f0ff0f 16.0px,#fff600 23.0px,#ffa200 23.0px,#ff8a00 45.7px,#ff5600 45.7px,#ff3a00 80.0px,#800000 80.0px,#800000 89.0px,#ffc200 89.0px,#ff8400 96.9px,#ff5a00 96.9px,#ff2400 122.8px,#800000 122.8px,#800000 162.6px,#ffffff 162.6px,#ffffff 163.0px)"></i>
<i style="width:2px;background:linear-gradient(180deg,#ffffff 0.0px,#ffffff 0.2px,#000080 0.2px,#000080 5.6px,#0060ff 5.6px,#08fff7 16.0px,#f0ff0f 16.0px,#fff600 23.0px,#ffa200 23.0px,#ff8a00 45.7px,#ff5600 45.7px,#ff3a00 80.0px,#800000 80.0px,#800000 88.5px,#ffc200 88.5px,#ff8400 96.4px,#ff5a00 96.4px,#ff2400 122.3px,#800000 122.3px,#800000 162.6px,#ffffff 162.6px,#ffffff 163.0px)"></i>
<i style="width:2px;background:linear-gradient(180deg,#ffffff 0.0px,#ffffff 0.2px,#000080 0.2px,#000080 5.7px,#0060ff 5.7px,#08fff7 16.1px,#f0ff0f 16.1px,#fff600 23.1px,#ffa200 23.1px,#ff8a00 45.7px,#ff5600 45.7px,#ff3a00 80.1px,#800000 80.1px,#800000 88.0px,#ffc200 88.0px,#ff8400 96.0px,#ff5a00 96.0px,#ff2400 121.9px,#800000 121.9px,#800000 162.6px,#ffffff 162.6px,#ffffff 163.0px)"></i>
<i style="width:2px;background:linear-gradient(180deg,#ffffff 0.0px,#ffffff 0.2px,#000080 0.2px,#000080 5.8px,#0060ff 5.8px,#08fff7 16.1px,#f0ff0f 16.1px,#fff600 23.1px,#ffa100 23.1px,#ff8a00 45.7px,#ff5600 45.7px,#ff3a00 80.2px,#800000 80.2px,#800000 87.4px,#ffc200 87.4px,#ff8400 95.5px,#ff5a00 95.5px,#ff2400 121.4px,#800000 121.4px,#800000 162.6px,#ffffff 162.6px,#ffffff 163.0px)"></i>
<i style="width:2px;background:linear-gradient(180deg,#ffffff 0.0px,#ffffff 0.2px,#000080 0.2px,#000080 5.8px,#0060ff 5.8px,#08fff7 16.2px,#f0ff0f 16.2px,#fff600 23.2px,#ffa100 23.2px,#ff8a00 45.7px,#ff5600 45.7px,#ff3a00 80.2px,#800000 80.2px,#800000 86.8px,#ffc200 86.8px,#ff8400 95.1px,#ff5a00 95.1px,#ff2400 121.0px,#800000 121.0px,#800000 162.6px,#ffffff 162.6px,#ffffff 163.0px)"></i>
<i style="width:2px;background:linear-gradient(180deg,#ffffff 0.0px,#ffffff 0.2px,#000080 0.2px,#000080 5.9px,#0060ff 5.9px,#08fff7 16.2px,#f0ff0f 16.2px,#fff600 23.2px,#ffa100 23.2px,#ff8a00 45.7px,#ff5600 45.7px,#ff3a00 80.3px,#800000 80.3px,#800000 86.3px,#ffc200 86.3px,#ff8400 94.7px,#ff5a00 94.7px,#ff2400 120.6px,#800000 120.6px,#800000 162.6px,#ffffff 162.6px,#ffffff 163.0px)"></i>
<i style="width:2px;background:linear-gradient(180deg,#ffffff 0.0px,#ffffff 0.2px,#000080 0.2px,#000080 6.0px,#0060ff 6.0px,#08fff7 16.3px,#f0ff0f 16.3px,#fff600 23.3px,#ffa100 23.3px,#ff8a00 45.7px,#ff5600 45.7px,#ff3a00 80.4px,#800000 80.4px,#800000 85.7px,#ffc200 85.7px,#ff8400 94.2px,#ff5a00 94.2px,#ff2400 120.1px,#800000 120.1px,#800000 162.6px,#ffffff 162.6px,#ffffff 163.0px)"></i>
<i style="width:2px;background:linear-gradient(180deg,#ffffff 0.0px,#ffffff 0.2px,#000080 0.2px,#000080 6.0px,#0060ff 6.0px,#08fff7 16.3px,#f0ff0f 16.3px,#fff600 23.3px,#ffa100 23.3px,#ff8a00 45.7px,#ff5600 45.7px,#ff3a00 80.4px,#800000 80.4px,#800000 85.2px,#ffc200 85.2px,#ff8400 93.8px,#ff5a00 93.8px,#ff2400 119.7px,#800000 119.7px,#800000 162.6px,#ffffff 162.6px,#ffffff 163.0px)"></i>
<i style="width:2px;background:linear-gradient(180deg,#ffffff 0.0px,#ffffff 0.2px,#000080 0.2px,#000080 6.1px,#0060ff 6.1px,#08fff7 16.3px,#f0ff0f 16.3px,#fff600 23.4px,#ffa100 23.4px,#ff8a00 45.7px,#ff5600 45.7px,#ff3a00 80.5px,#800000 80.5px,#800000 84.6px,#ffc200 84.6px,#ff8400 93.4px,#ff5a00 93.4px,#ff2400 119.3px,#800000 119.3px,#800000 162.6px,#ffffff 162.6px,#ffffff 163.0px)"></i>
<i style="width:2px;background:linear-gradient(180deg,#ffffff 0.0px,#ffffff 0.2px,#000080 0.2px,#000080 6.2px,#0060ff 6.2px,#08fff7 16.4px,#f0ff0f 16.4px,#fff600 23.5px,#ffa100 23.5px,#ff8a00 45.7px,#ff5600 45.7px,#ff3a00 80.5px,#800000 80.5px,#800000 84.0px,#ffc200 84.0px,#ff8400 92.9px,#ff5a00 92.9px,#ff2400 118.8px,#800000 118.8px,#800000 162.6px,#ffffff 162.6px,#ffffff 163.0px)"></i>
<i style="width:2px;background:linear-gradient(180deg,#ffffff 0.0px,#ffffff 0.2px,#000080 0.2px,#000080 6.2px,#0060ff 6.2px,#08fff7 16.4px,#f0ff0f 16.4px,#fff600 23.5px,#ffa100 23.5px,#ff8a00 45.7px,#ff5600 45.7px,#ff3a00 80.6px,#800000 80.6px,#800000 83.5px,#ffc200 83.5px,#ff8400 92.5px,#ff5a00 92.5px,#ff2400 118.4px,#800000 118.4px,#800000 162.6px,#ffffff 162.6px,#ffffff 163.0px)"></i>
<i style="width:2px;background:linear-gradient(180deg,#ffffff 0.0px,#ffffff 0.2px,#000080 0.2px,#000080 6.3px,#0060ff 6.3px,#08fff7 16.5px,#f0ff0f 16.5px,#fff600 23.6px,#ffa100 23.6px,#ff8a00 45.7px,#ff5600 45.7px,#ff3a00 80.7px,#800000 80.7px,#800000 82.9px,#ffc200 82.9px,#ff8400 92.1px,#ff5a00 92.1px,#ff2400 118.0px,#800000 118.0px,#800000 162.6px,#ffffff 162.6px,#ffffff 163.0px)"></i>
<i style="width:2px;background:linear-gradient(180deg,#ffffff 0.0px,#ffffff 0.2px,#000080 0.2px,#000080 6.4px,#0060ff 6.4px,#08fff7 16.5px,#f0ff0f 16.5px,#fff600 23.6px,#ffa100 23.6px,#ff8a00 45.7px,#ff5600 45.7px,#ff3a00 80.7px,#800000 80.7px,#800000 82.3px,#ffc200 82.3px,#ff8400 91.6px,#ff5a00 91.6px,#ff2400 117.5px,#800000 117.5px,#800000 162.6px,#ffffff 162.6px,#ffffff 163.0px)"></i>
<i style="width:2px;background:linear-gradient(180deg,#ffffff 0.0px,#ffffff 0.2px,#000080 0.2px,#000080 6.4px,#0060ff 6.4px,#08fff7 16.6px,#f0ff0f 16.6px,#fff600 23.7px,#ffa100 23.7px,#ff8a00 45.7px,#ff5600 45.7px,#ff3a00 80.8px,#800000 80.8px,#800000 81.8px,#ffc200 81.8px,#ff8400 91.2px,#ff5a00 91.2px,#ff2400 117.1px,#800000 117.1px,#800000 162.6px,#ffffff 162.6px,#ffffff 163.0px)"></i>
<i style="width:2px;background:linear-gradient(180deg,#ffffff 0.0px,#ffffff 0.2px,#000080 0.2px,#000080 6.5px,#0060ff 6.5px,#08fff7 16.6px,#f0ff0f 16.6px,#fff600 23.7px,#ffa100 23.7px,#ff8a00 45.7px,#ff5600 45.7px,#ff3a00 80.8px,#800000 80.8px,#800000 81.2px,#ffc200 81.2px,#ff8400 90.8px,#ff5a00 90.8px,#ff2400 116.7px,#800000 116.7px,#800000 162.6px,#ffffff 162.6px,#ffffff 163.0px)"></i>
<i style="width:2px;background:linear-gradient(180deg,#ffffff 0.0px,#ffffff 0.2px,#000080 0.2px,#000080 6.6px,#0060ff 6.6px,#08fff7 16.7px,#f0ff0f 16.7px,#fff600 23.8px,#ffa100 23.8px,#ff8a00 45.7px,#ff5600 45.7px,#ff3a00 80.6px,#ffc200 80.6px,#ff8400 90.3px,#ff5a00 90.3px,#ff2400 116.2px,#800000 116.2px,#800000 162.6px,#ffffff 162.6px,#ffffff 163.0px)"></i>
<i style="width:2px;background:linear-gradient(180deg,#ffffff 0.0px,#ffffff 0.2px,#000080 0.2px,#000080 6.7px,#0060ff 6.7px,#08fff7 16.7px,#f0ff0f 16.7px,#fff600 23.8px,#ffa100 23.8px,#ff8a00 45.7px,#ff5600 45.7px,#ff3a00 79.7px,#ffc200 79.7px,#ff8400 89.9px,#ff5a00 89.9px,#ff2400 115.8px,#800000 115.8px,#800000 162.6px,#ffffff 162.6px,#ffffff 163.0px)"></i>
<i style="width:2px;background:linear-gradient(180deg,#ffffff 0.0px,#ffffff 0.2px,#000080 0.2px,#000080 6.7px,#0060ff 6.7px,#08fff7 16.8px,#f0ff0f 16.8px,#fff600 23.9px,#ffa100 23.9px,#ff8a00 45.7px,#ff5600 45.7px,#ff3a00 78.8px,#ffc200 78.8px,#ff8400 89.5px,#ff5a00 89.5px,#ff2400 115.4px,#800000 115.4px,#800000 162.6px,#ffffff 162.6px,#ffffff 163.0px)"></i>
<i style="width:2px;background:linear-gradient(180deg,#ffffff 0.0px,#ffffff 0.2px,#000080 0.2px,#000080 6.8px,#0060ff 6.8px,#08fff7 16.8px,#f0ff0f 16.8px,#fff600 23.9px,#ffa100 23.9px,#ff8a00 45.7px,#ff5600 45.7px,#ff3a00 78.0px,#ffc200 78.0px,#ff8400 89.0px,#ff5a00 89.0px,#ff2400 114.9px,#800000 114.9px,#800000 162.6px,#ffffff 162.6px,#ffffff 163.0px)"></i>
<i style="width:2px;background:linear-gradient(180deg,#ffffff 0.0px,#ffffff 0.2px,#000080 0.2px,#000080 6.9px,#0060ff 6.9px,#08fff7 16.9px,#f0ff0f 16.9px,#fff600 24.0px,#ffa100 24.0px,#ff8a00 45.7px,#ff5600 45.7px,#ff3b00 77.1px,#ffc200 77.1px,#ff8400 88.6px,#ff5a00 88.6px,#ff2400 114.5px,#800000 114.5px,#800000 162.6px,#ffffff 162.6px,#ffffff 163.0px)"></i>
<i style="width:2px;background:linear-gradient(180deg,#ffffff 0.0px,#ffffff 0.2px,#000080 0.2px,#000080 6.9px,#0060ff 6.9px,#08fff7 16.9px,#f0ff0f 16.9px,#fff600 24.0px,#ffa100 24.0px,#ff8a00 45.7px,#ff5600 45.7px,#ff3c00 76.2px,#ffc200 76.2px,#ff8400 88.2px,#ff5a00 88.2px,#ff2400 114.1px,#800000 114.1px,#800000 162.6px,#ffffff 162.6px,#ffffff 163.0px)"></i>
<i style="width:2px;background:linear-gradient(180deg,#ffffff 0.0px,#ffffff 0.2px,#000080 0.2px,#000080 7.0px,#0060ff 7.0px,#08fff7 17.0px,#f0ff0f 17.0px,#fff600 24.1px,#ffa100 24.1px,#ff8a00 45.7px,#ff5600 45.7px,#ff3c00 75.3px,#ffc200 75.3px,#ff8400 87.7px,#ff5a00 87.7px,#ff2400 113.6px,#800000 113.6px,#800000 162.6px,#ffffff 162.6px,#ffffff 163.0px)"></i>
<i style="width:2px;background:linear-gradient(180deg,#ffffff 0.0px,#ffffff 0.2px,#000080 0.2px,#000080 7.1px,#0060ff 7.1px,#08fff7 17.0px,#f0ff0f 17.0px,#fff600 24.2px,#ffa100 24.2px,#ff8a00 45.7px,#ff5600 45.7px,#ff3d00 74.5px,#ffc200 74.5px,#ff8400 87.3px,#ff5a00 87.3px,#ff2400 113.2px,#800000 113.2px,#800000 162.6px,#ffffff 162.6px,#ffffff 163.0px)"></i>
<i style="width:2px;background:linear-gradient(180deg,#ffffff 0.0px,#ffffff 0.2px,#000080 0.2px,#000080 7.1px,#0060ff 7.1px,#08fff7 17.0px,#f0ff0f 17.0px,#fff600 24.2px,#ffa100 24.2px,#ff8a00 45.7px,#ff5600 45.7px,#ff3e00 73.6px,#ffc200 73.6px,#ff8400 86.9px,#ff5a00 86.9px,#ff2400 112.8px,#800000 112.8px,#800000 162.6px,#ffffff 162.6px,#ffffff 163.0px)"></i>
<i style="width:2px;background:linear-gradient(180deg,#ffffff 0.0px,#ffffff 0.2px,#000080 0.2px,#000080 7.2px,#0060ff 7.2px,#08fff7 17.1px,#f0ff0f 17.1px,#fff600 24.3px,#ffa100 24.3px,#ff8a00 45.7px,#ff5600 45.7px,#ff3f00 72.7px,#ffc200 72.7px,#ff8400 86.4px,#ff5a00 86.4px,#ff2400 112.3px,#800000 112.3px,#800000 162.6px,#ffffff 162.6px,#ffffff 163.0px)"></i>
<i style="width:2px;background:linear-gradient(180deg,#ffffff 0.0px,#ffffff 0.2px,#000080 0.2px,#000080 7.3px,#0060ff 7.3px,#08fff7 17.1px,#f0ff0f 17.1px,#fff600 24.3px,#ffa100 24.3px,#ff8a00 45.7px,#ff5600 45.7px,#ff3f00 71.9px,#ffc200 71.9px,#ff8400 86.0px,#ff5a00 86.0px,#ff2400 111.9px,#800000 111.9px,#800000 162.6px,#ffffff 162.6px,#ffffff 163.0px)"></i>
<i style="width:2px;background:linear-gradient(180deg,#ffffff 0.0px,#ffffff 0.2px,#000080 0.2px,#000080 7.3px,#0060ff 7.3px,#08fff7 17.2px,#f0ff0f 17.2px,#fff600 24.4px,#ffa100 24.4px,#ff8a00 45.7px,#ff5600 45.7px,#ff4000 71.2px,#ffc200 71.2px,#ff8400 85.6px,#ff5a00 85.6px,#ff2400 111.5px,#800000 111.5px,#800000 162.6px,#ffffff 162.6px,#ffffff 163.0px)"></i>
<i style="width:2px;background:linear-gradient(180deg,#ffffff 0.0px,#ffffff 0.2px,#000080 0.2px,#000080 7.4px,#0060ff 7.4px,#08fff7 17.2px,#f0ff0f 17.2px,#fff600 24.4px,#ffa100 24.4px,#ff8a00 45.7px,#ff5600 45.7px,#ff4100 70.5px,#ffc200 70.5px,#ff8400 85.1px,#ff5a00 85.1px,#ff2400 111.0px,#800000 111.0px,#800000 162.6px,#ffffff 162.6px,#ffffff 163.0px)"></i>
<i style="width:2px;background:linear-gradient(180deg,#ffffff 0.0px,#ffffff 0.2px,#000080 0.2px,#000080 7.5px,#0060ff 7.5px,#08fff7 17.3px,#f0ff0f 17.3px,#fff600 24.5px,#ffa100 24.5px,#ff8a00 45.7px,#ff5600 45.7px,#ff4100 69.8px,#ffc200 69.8px,#ff8400 84.7px,#ff5a00 84.7px,#ff2400 110.6px,#800000 110.6px,#800000 162.6px,#ffffff 162.6px,#ffffff 163.0px)"></i>
<i style="width:2px;background:linear-gradient(180deg,#ffffff 0.0px,#ffffff 0.2px,#000080 0.2px,#000080 7.5px,#0060ff 7.5px,#08fff7 17.3px,#f0ff0f 17.3px,#fff600 24.5px,#ffa100 24.5px,#ff8a00 45.7px,#ff5600 45.7px,#ff4200 69.1px,#ffc200 69.1px,#ff8400 84.3px,#ff5a00 84.3px,#ff2400 110.2px,#800000 110.2px,#800000 162.6px,#ffffff 162.6px,#ffffff 163.0px)"></i>
<i style="width:2px;background:linear-gradient(180deg,#ffffff 0.0px,#ffffff 0.2px,#000080 0.2px,#000080 7.6px,#0060ff 7.6px,#08fff7 17.4px,#f0ff0f 17.4px,#fff600 24.6px,#ffa100 24.6px,#ff8a00 45.7px,#ff5600 45.7px,#ff4200 68.4px,#ffc200 68.4px,#ff8400 84.0px,#ff5a00 84.0px,#ff2400 109.9px,#800000 109.9px,#800000 162.6px,#ffffff 162.6px,#ffffff 163.0px)"></i>
<i style="width:2px;background:linear-gradient(180deg,#ffffff 0.0px,#ffffff 0.2px,#000080 0.2px,#000080 7.6px,#0060ff 7.6px,#08fff7 17.5px,#f0ff0f 17.5px,#fff600 24.7px,#ffa100 24.7px,#ff8a00 45.7px,#ff5600 45.7px,#ff4300 67.7px,#ffc200 67.7px,#ff8400 83.6px,#ff5a00 83.6px,#ff2400 109.5px,#800000 109.5px,#800000 162.6px,#ffffff 162.6px,#ffffff 163.0px)"></i>
<i style="width:2px;background:linear-gradient(180deg,#ffffff 0.0px,#ffffff 0.2px,#000080 0.2px,#000080 7.7px,#0060ff 7.7px,#08fff7 17.6px,#f0ff0f 17.6px,#fff600 24.8px,#ffa100 24.8px,#ff8a00 45.7px,#ff5600 45.7px,#ff4400 67.0px,#ffc200 67.0px,#ff8400 83.3px,#ff5a00 83.3px,#ff2400 109.2px,#800000 109.2px,#800000 162.6px,#ffffff 162.6px,#ffffff 163.0px)"></i>
<i style="width:2px;background:linear-gradient(180deg,#ffffff 0.0px,#ffffff 0.2px,#000080 0.2px,#000080 7.8px,#0060ff 7.8px,#08fff7 17.7px,#f0ff0f 17.7px,#fff600 24.9px,#ffa100 24.9px,#ff8a00 45.7px,#ff5600 45.7px,#ff4400 66.3px,#ffc200 66.3px,#ff8400 83.0px,#ff5a00 83.0px,#ff2400 108.9px,#800000 108.9px,#800000 162.6px,#ffffff 162.6px,#ffffff 163.0px)"></i>
<i style="width:2px;background:linear-gradient(180deg,#ffffff 0.0px,#ffffff 0.2px,#000080 0.2px,#000080 7.8px,#0060ff 7.8px,#08fff7 17.8px,#f0ff0f 17.8px,#fff600 24.9px,#ffa100 24.9px,#ff8a00 45.7px,#ff5600 45.7px,#ff4500 65.8px,#ffc200 65.8px,#ff8400 82.6px,#ff5a00 82.6px,#ff2400 108.5px,#800000 108.5px,#800000 162.6px,#ffffff 162.6px,#ffffff 163.0px)"></i>
<i style="width:2px;background:linear-gradient(180deg,#ffffff 0.0px,#ffffff 0.2px,#000080 0.2px,#000080 7.9px,#0060ff 7.9px,#08fff7 17.9px,#f0ff0f 17.9px,#fff600 25.0px,#ffa100 25.0px,#ff8a00 45.7px,#ff5600 45.7px,#ff4500 65.4px,#ffc200 65.4px,#ff8400 82.3px,#ff5a00 82.3px,#ff2400 108.2px,#800000 108.2px,#800000 162.6px,#ffffff 162.6px,#ffffff 163.0px)"></i>
<i style="width:2px;background:linear-gradient(180deg,#ffffff 0.0px,#ffffff 0.2px,#000080 0.2px,#000080 7.9px,#0060ff 7.9px,#08fff7 18.0px,#f0ff0f 18.0px,#fff600 25.1px,#ffa100 25.1px,#ff8a00 45.7px,#ff5600 45.7px,#ff4500 65.0px,#ffc200 65.0px,#ff8400 81.9px,#ff5a00 81.9px,#ff2400 107.8px,#800000 107.8px,#800000 162.6px,#ffffff 162.6px,#ffffff 163.0px)"></i>
<i style="width:2px;background:linear-gradient(180deg,#ffffff 0.0px,#ffffff 0.2px,#000080 0.2px,#000080 8.0px,#0060ff 8.0px,#08fff7 18.1px,#f0ff0f 18.1px,#fff600 25.2px,#ffa000 25.2px,#ff8a00 45.7px,#ff5600 45.7px,#ff4600 64.6px,#ffc200 64.6px,#ff8400 81.6px,#ff5a00 81.6px,#ff2400 107.5px,#800000 107.5px,#800000 162.6px,#ffffff 162.6px,#ffffff 163.0px)"></i>
<i style="width:2px;background:linear-gradient(180deg,#ffffff 0.0px,#ffffff 0.2px,#000080 0.2px,#000080 8.0px,#0060ff 8.0px,#08fff7 18.2px,#f0ff0f 18.2px,#fff600 25.3px,#ffa000 25.3px,#ff8a00 45.7px,#ff5600 45.7px,#ff4600 64.2px,#ffc200 64.2px,#ff8400 81.3px,#ff5a00 81.3px,#ff2400 107.2px,#800000 107.2px,#800000 162.6px,#ffffff 162.6px,#ffffff 163.0px)"></i>
<i style="width:2px;background:linear-gradient(180deg,#ffffff 0.0px,#ffffff 0.2px,#000080 0.2px,#000080 8.1px,#0060ff 8.1px,#08fff7 18.3px,#f0ff0f 18.3px,#fff600 25.4px,#ffa000 25.4px,#ff8a00 45.7px,#ff5600 45.7px,#ff4600 63.8px,#ffc200 63.8px,#ff8400 80.9px,#ff5a00 80.9px,#ff2400 106.8px,#800000 106.8px,#800000 162.6px,#ffffff 162.6px,#ffffff 163.0px)"></i>
<i style="width:2px;background:linear-gradient(180deg,#ffffff 0.0px,#ffffff 0.2px,#000080 0.2px,#000080 8.1px,#0060ff 8.1px,#08fff7 18.4px,#f0ff0f 18.4px,#fff600 25.4px,#ffa000 25.4px,#ff8a00 45.7px,#ff5600 45.7px,#ff4700 63.4px,#ffc200 63.4px,#ff8400 80.6px,#ff5a00 80.6px,#ff2400 106.5px,#800000 106.5px,#800000 162.6px,#ffffff 162.6px,#ffffff 163.0px)"></i>
<i style="width:2px;background:linear-gradient(180deg,#ffffff 0.0px,#ffffff 0.2px,#000080 0.2px,#000080 8.2px,#0060ff 8.2px,#08fff7 18.5px,#f0ff0f 18.5px,#fff600 25.5px,#ffa000 25.5px,#ff8a00 45.7px,#ff5600 45.7px,#ff4700 62.9px,#ffc200 62.9px,#ff8400 80.2px,#ff5a00 80.2px,#ff2400 106.1px,#800000 106.1px,#800000 162.6px,#ffffff 162.6px,#ffffff 163.0px)"></i>
<i style="width:2px;background:linear-gradient(180deg,#ffffff 0.0px,#ffffff 0.2px,#000080 0.2px,#000080 8.2px,#0060ff 8.2px,#08fff7 18.6px,#f0ff0f 18.6px,#fff600 25.6px,#ffa000 25.6px,#ff8a00 45.7px,#ff5600 45.7px,#ff4700 62.5px,#ffc200 62.5px,#ff8400 79.9px,#ff5a00 79.9px,#ff2400 105.8px,#800000 105.8px,#800000 162.6px,#ffffff 162.6px,#ffffff 163.0px)"></i>
<i style="width:2px;background:linear-gradient(180deg,#ffffff 0.0px,#ffffff 0.2px,#000080 0.2px,#000080 8.2px,#0060ff 8.2px,#08fff7 18.6px,#f0ff0f 18.6px,#fff600 25.6px,#ffa000 25.6px,#ff8a00 45.7px,#ff5600 45.7px,#ff4800 62.2px,#ffc200 62.2px,#ff8400 79.7px,#ff5a00 79.7px,#ff2400 105.6px,#800000 105.6px,#800000 162.6px,#ffffff 162.6px,#ffffff 163.0px)"></i>
<i style="width:2px;background:linear-gradient(180deg,#ffffff 0.0px,#ffffff 0.2px,#000080 0.2px,#000080 8.2px,#0060ff 8.2px,#08fff7 18.7px,#f0ff0f 18.7px,#fff600 25.7px,#ffa000 25.7px,#ff8a00 45.7px,#ff5600 45.7px,#ff4800 61.8px,#ffc200 61.8px,#ff8400 79.4px,#ff5a00 79.4px,#ff2400 105.3px,#800000 105.3px,#800000 162.6px,#ffffff 162.6px,#ffffff 163.0px)"></i>
<i style="width:2px;background:linear-gradient(180deg,#ffffff 0.0px,#ffffff 0.2px,#000080 0.2px,#000080 8.2px,#0060ff 8.2px,#08fff7 18.7px,#f0ff0f 18.7px,#fff600 25.7px,#ffa000 25.7px,#ff8a00 45.7px,#ff5600 45.7px,#ff4800 61.4px,#ffc200 61.4px,#ff8400 79.2px,#ff5a00 79.2px,#ff2400 105.1px,#800000 105.1px,#800000 162.6px,#ffffff 162.6px,#ffffff 163.0px)"></i>
<i style="width:2px;background:linear-gradient(180deg,#ffffff 0.0px,#ffffff 0.2px,#000080 0.2px,#000080 8.3px,#0060ff 8.3px,#08fff7 18.7px,#f0ff0f 18.7px,#fff600 25.8px,#ffa000 25.8px,#ff8a00 45.7px,#ff5600 45.7px,#ff4900 61.0px,#ffc200 61.0px,#ff8400 79.0px,#ff5a00 79.0px,#ff2400 104.9px,#800000 104.9px,#800000 162.6px,#ffffff 162.6px,#ffffff 163.0px)"></i>
<i style="width:2px;background:linear-gradient(180deg,#ffffff 0.0px,#ffffff 0.2px,#000080 0.2px,#000080 8.3px,#0060ff 8.3px,#08fff7 18.8px,#f0ff0f 18.8px,#fff600 25.8px,#ffa000 25.8px,#ff8a00 45.7px,#ff5600 45.7px,#ff4900 60.6px,#ffc200 60.6px,#ff8400 78.8px,#ff5a00 78.8px,#ff2400 104.7px,#800000 104.7px,#800000 162.6px,#ffffff 162.6px,#ffffff 163.0px)"></i>
<i style="width:2px;background:linear-gradient(180deg,#ffffff 0.0px,#ffffff 0.2px,#000080 0.2px,#000080 8.3px,#0060ff 8.3px,#08fff7 18.8px,#f0ff0f 18.8px,#fff600 25.9px,#ffa000 25.9px,#ff8a00 45.7px,#ff5600 45.7px,#ff4900 60.3px,#ffc200 60.3px,#ff8400 78.5px,#ff5a00 78.5px,#ff2400 104.4px,#800000 104.4px,#800000 162.6px,#ffffff 162.6px,#ffffff 163.0px)"></i>
<i style="width:2px;background:linear-gradient(180deg,#ffffff 0.0px,#ffffff 0.2px,#000080 0.2px,#000080 8.3px,#0060ff 8.3px,#08fff7 18.8px,#f0ff0f 18.8px,#fff600 25.9px,#ffa000 25.9px,#ff8a00 45.7px,#ff5600 45.7px,#ff4a00 59.9px,#ffc200 59.9px,#ff8400 78.3px,#ff5a00 78.3px,#ff2400 104.2px,#800000 104.2px,#800000 162.6px,#ffffff 162.6px,#ffffff 163.0px)"></i>
<i style="width:2px;background:linear-gradient(180deg,#ffffff 0.0px,#ffffff 0.2px,#000080 0.2px,#000080 8.3px,#0060ff 8.3px,#08fff7 18.8px,#f0ff0f 18.8px,#fff600 26.0px,#ffa000 26.0px,#ff8a00 45.7px,#ff5600 45.7px,#ff4a00 59.5px,#ffc200 59.5px,#ff8400 78.1px,#ff5a00 78.1px,#ff2400 104.0px,#800000 104.0px,#800000 162.6px,#ffffff 162.6px,#ffffff 163.0px)"></i>
<i style="width:2px;background:linear-gradient(180deg,#ffffff 0.0px,#ffffff 0.2px,#000080 0.2px,#000080 8.3px,#0060ff 8.3px,#08fff7 18.9px,#f0ff0f 18.9px,#fff600 26.0px,#ffa000 26.0px,#ff8a00 45.7px,#ff5600 45.7px,#ff4a00 59.1px,#ffc200 59.1px,#ff8400 77.8px,#ff5a00 77.8px,#ff2400 103.7px,#800000 103.7px,#800000 162.6px,#ffffff 162.6px,#ffffff 163.0px)"></i>
<i style="width:2px;background:linear-gradient(180deg,#ffffff 0.0px,#ffffff 0.2px,#000080 0.2px,#000080 8.3px,#0060ff 8.3px,#08fff7 18.9px,#f0ff0f 18.9px,#fff600 26.1px,#ffa000 26.1px,#ff8a00 45.7px,#ff5600 45.7px,#ff4b00 58.8px,#ffc200 58.8px,#ff8400 77.6px,#ff5a00 77.6px,#ff2400 103.5px,#800000 103.5px,#800000 162.6px,#ffffff 162.6px,#ffffff 163.0px)"></i>
<i style="width:2px;background:linear-gradient(180deg,#ffffff 0.0px,#ffffff 0.2px,#000080 0.2px,#000080 8.3px,#0060ff 8.3px,#08fff7 18.9px,#f0ff0f 18.9px,#fff600 26.1px,#ffa000 26.1px,#ff8a00 45.7px,#ff5600 45.7px,#ff4b00 58.4px,#ffc200 58.4px,#ff8400 77.4px,#ff5a00 77.4px,#ff2400 103.3px,#800000 103.3px,#800000 162.6px,#ffffff 162.6px,#ffffff 163.0px)"></i>
<i style="width:2px;background:linear-gradient(180deg,#ffffff 0.0px,#ffffff 0.2px,#000080 0.2px,#000080 8.4px,#0060ff 8.4px,#08fff7 19.0px,#f0ff0f 19.0px,#fff600 26.2px,#ffa000 26.2px,#ff8a00 45.7px,#ff5600 45.7px,#ff4b00 58.0px,#ffc200 58.0px,#ff8400 77.2px,#ff5a00 77.2px,#ff2400 103.1px,#800000 103.1px,#800000 162.6px,#ffffff 162.6px,#ffffff 163.0px)"></i>
<i style="width:2px;background:linear-gradient(180deg,#ffffff 0.0px,#ffffff 0.2px,#000080 0.2px,#000080 8.4px,#0060ff 8.4px,#08fff7 19.0px,#f0ff0f 19.0px,#fff600 26.2px,#ffa000 26.2px,#ff8a00 45.7px,#ff5600 45.7px,#ff4c00 57.6px,#ffc200 57.6px,#ff8400 76.9px,#ff5a00 76.9px,#ff2400 102.8px,#800000 102.8px,#800000 162.6px,#ffffff 162.6px,#ffffff 163.0px)"></i>
<i style="width:2px;background:linear-gradient(180deg,#ffffff 0.0px,#ffffff 0.2px,#000080 0.2px,#000080 8.4px,#0060ff 8.4px,#08fff7 19.0px,#f0ff0f 19.0px,#fff600 26.3px,#ffa000 26.3px,#ff8a00 45.7px,#ff5600 45.7px,#ff4c00 57.2px,#ffc200 57.2px,#ff8400 76.7px,#ff5a00 76.7px,#ff2400 102.6px,#800000 102.6px,#800000 162.6px,#ffffff 162.6px,#ffffff 163.0px)"></i>
<i style="width:2px;background:linear-gradient(180deg,#ffffff 0.0px,#ffffff 0.2px,#000080 0.2px,#000080 8.4px,#0060ff 8.4px,#08fff7 19.1px,#f0ff0f 19.1px,#fff600 26.3px,#ffa000 26.3px,#ff8a00 45.7px,#ff5600 45.7px,#ff4c00 56.9px,#ffc200 56.9px,#ff8400 76.5px,#ff5a00 76.5px,#ff2400 102.4px,#800000 102.4px,#800000 162.6px,#ffffff 162.6px,#ffffff 163.0px)"></i>
<i style="width:2px;background:linear-gradient(180deg,#ffffff 0.0px,#ffffff 0.2px,#000080 0.2px,#000080 8.4px,#0060ff 8.4px,#08fff7 19.1px,#f0ff0f 19.1px,#fff600 26.4px,#ffa000 26.4px,#ff8a00 45.7px,#ff5600 45.7px,#ff4d00 56.5px,#ffc200 56.5px,#ff8400 76.2px,#ff5a00 76.2px,#ff2400 102.1px,#800000 102.1px,#800000 162.6px,#ffffff 162.6px,#ffffff 163.0px)"></i>
<i style="width:2px;background:linear-gradient(180deg,#ffffff 0.0px,#ffffff 0.2px,#000080 0.2px,#000080 8.4px,#0060ff 8.4px,#08fff7 19.1px,#f0ff0f 19.1px,#fff600 26.4px,#ffa000 26.4px,#ff8a00 45.7px,#ff5600 45.7px,#ff4d00 56.1px,#ffc200 56.1px,#ff8400 76.0px,#ff5a00 76.0px,#ff2400 101.9px,#800000 101.9px,#800000 162.6px,#ffffff 162.6px,#ffffff 163.0px)"></i>
<i style="width:2px;background:linear-gradient(180deg,#ffffff 0.0px,#ffffff 0.2px,#000080 0.2px,#000080 8.4px,#0060ff 8.4px,#08fff7 19.2px,#f0ff0f 19.2px,#fff600 26.5px,#ffa000 26.5px,#ff8a00 45.7px,#ff5600 45.7px,#ff4d00 55.8px,#ffc200 55.8px,#ff8400 75.8px,#ff5a00 75.8px,#ff2400 101.7px,#800000 101.7px,#800000 162.6px,#ffffff 162.6px,#ffffff 163.0px)"></i>
<i style="width:2px;background:linear-gradient(180deg,#ffffff 0.0px,#ffffff 0.2px,#000080 0.2px,#000080 8.4px,#0060ff 8.4px,#08fff7 19.2px,#f0ff0f 19.2px,#fff600 26.5px,#ffa000 26.5px,#ff8a00 45.7px,#ff5600 45.7px,#ff4e00 55.5px,#ffc200 55.5px,#ff8400 75.6px,#ff5a00 75.6px,#ff2400 101.5px,#800000 101.5px,#800000 162.6px,#ffffff 162.6px,#ffffff 163.0px)"></i>
<i style="width:2px;background:linear-gradient(180deg,#ffffff 0.0px,#ffffff 0.2px,#000080 0.2px,#000080 8.4px,#0060ff 8.4px,#08fff7 19.2px,#f0ff0f 19.2px,#fff600 26.6px,#ffa000 26.6px,#ff8a00 45.7px,#ff5600 45.7px,#ff4e00 55.1px,#ffc200 55.1px,#ff8400 75.3px,#ff5a00 75.3px,#ff2400 101.2px,#800000 101.2px,#800000 162.6px,#ffffff 162.6px,#ffffff 163.0px)"></i>
<i style="width:2px;background:linear-gradient(180deg,#ffffff 0.0px,#ffffff 0.2px,#000080 0.2px,#000080 8.5px,#0060ff 8.5px,#08fff7 19.2px,#f0ff0f 19.2px,#fff600 26.6px,#ffa000 26.6px,#ff8a00 45.7px,#ff5600 45.7px,#ff4e00 54.8px,#ffc200 54.8px,#ff8400 75.1px,#ff5a00 75.1px,#ff2400 101.0px,#800000 101.0px,#800000 162.6px,#ffffff 162.6px,#ffffff 163.0px)"></i>
<i style="width:2px;background:linear-gradient(180deg,#ffffff 0.0px,#ffffff 0.2px,#000080 0.2px,#000080 8.5px,#0060ff 8.5px,#08fff7 19.3px,#f0ff0f 19.3px,#fff600 26.6px,#ffa000 26.6px,#ff8a00 45.7px,#ff5600 45.7px,#ff4e00 54.5px,#ffc200 54.5px,#ff8400 74.9px,#ff5a00 74.9px,#ff2400 100.8px,#800000 100.8px,#800000 162.6px,#ffffff 162.6px,#ffffff 163.0px)"></i>
<i style="width:2px;background:linear-gradient(180deg,#ffffff 0.0px,#ffffff 0.2px,#000080 0.2px,#000080 8.5px,#0060ff 8.5px,#08fff7 19.3px,#f0ff0f 19.3px,#fff600 26.7px,#ffa000 26.7px,#ff8a00 45.7px,#ff5600 45.7px,#ff4f00 54.1px,#ffc200 54.1px,#ff8400 74.6px,#ff5a00 74.6px,#ff2400 100.5px,#800000 100.5px,#800000 162.6px,#ffffff 162.6px,#ffffff 163.0px)"></i>
<i style="width:2px;background:linear-gradient(180deg,#ffffff 0.0px,#ffffff 0.2px,#000080 0.2px,#000080 8.5px,#0060ff 8.5px,#08fff7 19.3px,#f0ff0f 19.3px,#fff600 26.7px,#ffa000 26.7px,#ff8a00 45.7px,#ff5600 45.7px,#ff4f00 53.8px,#ffc200 53.8px,#ff8400 74.4px,#ff5a00 74.4px,#ff2400 100.3px,#800000 100.3px,#800000 162.6px,#ffffff 162.6px,#ffffff 163.0px)"></i>
<i style="width:2px;background:linear-gradient(180deg,#ffffff 0.0px,#ffffff 0.2px,#000080 0.2px,#000080 8.5px,#0060ff 8.5px,#08fff7 19.4px,#f0ff0f 19.4px,#fff600 26.8px,#ffa000 26.8px,#ff8a00 45.7px,#ff5600 45.7px,#ff4f00 53.5px,#ffc200 53.5px,#ff8400 74.2px,#ff5a00 74.2px,#ff2400 100.1px,#800000 100.1px,#800000 162.6px,#ffffff 162.6px,#ffffff 163.0px)"></i>
<i style="width:2px;background:linear-gradient(180deg,#ffffff 0.0px,#ffffff 0.2px,#000080 0.2px,#000080 8.5px,#0060ff 8.5px,#08fff7 19.4px,#f0ff0f 19.4px,#fff600 26.8px,#ffa000 26.8px,#ff8a00 45.7px,#ff5600 45.7px,#ff5000 53.1px,#ffc200 53.1px,#ff8400 74.0px,#ff5a00 74.0px,#ff2400 99.9px,#800000 99.9px,#800000 162.6px,#ffffff 162.6px,#ffffff 163.0px)"></i>
<i style="width:2px;background:linear-gradient(180deg,#ffffff 0.0px,#ffffff 0.2px,#000080 0.2px,#000080 8.5px,#0060ff 8.5px,#08fff7 19.4px,#f0ff0f 19.4px,#fff600 26.9px,#ffa000 26.9px,#ff8a00 45.7px,#ff5600 45.7px,#ff5000 52.8px,#ffc200 52.8px,#ff8400 73.7px,#ff5a00 73.7px,#ff2400 99.6px,#800000 99.6px,#800000 162.6px,#ffffff 162.6px,#ffffff 163.0px)"></i>
<i style="width:2px;background:linear-gradient(180deg,#ffffff 0.0px,#ffffff 0.2px,#000080 0.2px,#000080 8.5px,#0060ff 8.5px,#08fff7 19.5px,#f0ff0f 19.5px,#fff600 26.9px,#ffa000 26.9px,#ff8a00 45.7px,#ff5600 45.7px,#ff5000 52.5px,#ffc200 52.5px,#ff8400 73.5px,#ff5a00 73.5px,#ff2400 99.4px,#800000 99.4px,#800000 162.6px,#ffffff 162.6px,#ffffff 163.0px)"></i>
<i style="width:2px;background:linear-gradient(180deg,#ffffff 0.0px,#ffffff 0.2px,#000080 0.2px,#000080 8.5px,#0060ff 8.5px,#08fff7 19.5px,#f0ff0f 19.5px,#fff600 27.0px,#ffa000 27.0px,#ff8a00 45.7px,#ff5600 45.7px,#ff5000 52.1px,#ffc200 52.1px,#ff8400 73.3px,#ff5a00 73.3px,#ff2400 99.2px,#800000 99.2px,#800000 162.6px,#ffffff 162.6px,#ffffff 163.0px)"></i>
<i style="width:2px;background:linear-gradient(180deg,#ffffff 0.0px,#ffffff 0.2px,#000080 0.2px,#000080 8.6px,#0060ff 8.6px,#08fff7 19.5px,#f0ff0f 19.5px,#fff600 27.0px,#ffa000 27.0px,#ff8a00 45.7px,#ff5600 45.7px,#ff5100 51.8px,#ffc200 51.8px,#ff8400 73.0px,#ff5a00 73.0px,#ff2400 98.9px,#800000 98.9px,#800000 162.6px,#ffffff 162.6px,#ffffff 163.0px)"></i>
<i style="width:2px;background:linear-gradient(180deg,#ffffff 0.0px,#ffffff 0.2px,#000080 0.2px,#000080 8.6px,#0060ff 8.6px,#08fff7 19.6px,#f0ff0f 19.6px,#fff600 27.1px,#ffa000 27.1px,#ff8a00 45.7px,#ff5600 45.7px,#ff5100 51.5px,#ffc200 51.5px,#ff8400 72.8px,#ff5a00 72.8px,#ff2400 98.7px,#800000 98.7px,#800000 162.6px,#ffffff 162.6px,#ffffff 163.0px)"></i>
<i style="width:2px;background:linear-gradient(180deg,#ffffff 0.0px,#ffffff 0.2px,#000080 0.2px,#000080 8.6px,#0060ff 8.6px,#08fff7 19.6px,#f0ff0f 19.6px,#fff600 27.1px,#ffa000 27.1px,#ff8a00 45.7px,#ff5600 45.7px,#ff5100 51.1px,#ffc200 51.1px,#ff8400 72.6px,#ff5a00 72.6px,#ff2400 98.5px,#800000 98.5px,#800000 162.6px,#ffffff 162.6px,#ffffff 163.0px)"></i>
<i style="width:2px;background:linear-gradient(180deg,#ffffff 0.0px,#ffffff 0.2px,#000080 0.2px,#000080 8.6px,#0060ff 8.6px,#08fff7 19.6px,#f0ff0f 19.6px,#fff600 27.2px,#ffa000 27.2px,#ff8a00 45.7px,#ff5600 45.7px,#ff5200 50.8px,#ffc200 50.8px,#ff8400 72.4px,#ff5a00 72.4px,#ff2400 98.3px,#800000 98.3px,#800000 162.6px,#ffffff 162.6px,#ffffff 163.0px)"></i>
<i style="width:2px;background:linear-gradient(180deg,#ffffff 0.0px,#ffffff 0.2px,#000080 0.2px,#000080 8.6px,#0060ff 8.6px,#08fff7 19.7px,#f0ff0f 19.7px,#fff600 27.2px,#ff9f00 27.2px,#ff8a00 45.7px,#ff5600 45.7px,#ff5200 50.5px,#ffc200 50.5px,#ff8400 72.1px,#ff5a00 72.1px,#ff2400 98.0px,#800000 98.0px,#800000 162.6px,#ffffff 162.6px,#ffffff 163.0px)"></i>
<i style="width:2px;background:linear-gradient(180deg,#ffffff 0.0px,#ffffff 0.2px,#000080 0.2px,#000080 8.6px,#0060ff 8.6px,#08fff7 19.7px,#f0ff0f 19.7px,#fff600 27.3px,#ff9f00 27.3px,#ff8a00 45.7px,#ff5600 45.7px,#ff5200 50.1px,#ffc200 50.1px,#ff8400 71.9px,#ff5a00 71.9px,#ff2400 97.8px,#800000 97.8px,#800000 162.6px,#ffffff 162.6px,#ffffff 163.0px)"></i>
<i style="width:2px;background:linear-gradient(180deg,#ffffff 0.0px,#ffffff 0.2px,#000080 0.2px,#000080 8.6px,#0060ff 8.6px,#08fff7 19.7px,#f0ff0f 19.7px,#fff600 27.3px,#ff9f00 27.3px,#ff8a00 45.7px,#ff5600 45.7px,#ff5200 49.8px,#ffc200 49.8px,#ff8400 71.7px,#ff5a00 71.7px,#ff2400 97.6px,#800000 97.6px,#800000 162.6px,#ffffff 162.6px,#ffffff 163.0px)"></i>
<i style="width:2px;background:linear-gradient(180deg,#ffffff 0.0px,#ffffff 0.2px,#000080 0.2px,#000080 8.6px,#0060ff 8.6px,#08fff7 19.7px,#f0ff0f 19.7px,#fff600 27.4px,#ff9f00 27.4px,#ff8a00 45.7px,#ff5600 45.7px,#ff5300 49.5px,#ffc200 49.5px,#ff8400 71.4px,#ff5a00 71.4px,#ff2400 97.3px,#800000 97.3px,#800000 162.6px,#ffffff 162.6px,#ffffff 163.0px)"></i>
<i style="width:2px;background:linear-gradient(180deg,#ffffff 0.0px,#ffffff 0.2px,#000080 0.2px,#000080 8.7px,#0060ff 8.7px,#08fff7 19.8px,#f0ff0f 19.8px,#fff600 27.4px,#ff9f00 27.4px,#ff8a00 45.7px,#ff5600 45.7px,#ff5300 49.1px,#ffc200 49.1px,#ff8400 71.2px,#ff5a00 71.2px,#ff2400 97.1px,#800000 97.1px,#800000 162.6px,#ffffff 162.6px,#ffffff 163.0px)"></i>
<i style="width:2px;background:linear-gradient(180deg,#ffffff 0.0px,#ffffff 0.2px,#000080 0.2px,#000080 8.7px,#0060ff 8.7px,#08fff7 19.8px,#f0ff0f 19.8px,#fff600 27.5px,#ff9f00 27.5px,#ff8a00 45.7px,#ff5600 45.7px,#ff5300 48.8px,#ffc200 48.8px,#ff8400 71.0px,#ff5a00 71.0px,#ff2400 96.9px,#800000 96.9px,#800000 162.6px,#ffffff 162.6px,#ffffff 163.0px)"></i>
<i style="width:2px;background:linear-gradient(180deg,#ffffff 0.0px,#ffffff 0.2px,#000080 0.2px,#000080 8.7px,#0060ff 8.7px,#08fff7 19.8px,#f0ff0f 19.8px,#fff600 27.5px,#ff9f00 27.5px,#ff8a00 45.7px,#ff5600 45.7px,#ff5400 48.5px,#ffc200 48.5px,#ff8400 70.8px,#ff5a00 70.8px,#ff2400 96.7px,#800000 96.7px,#800000 162.6px,#ffffff 162.6px,#ffffff 163.0px)"></i>
<i style="width:2px;background:linear-gradient(180deg,#ffffff 0.0px,#ffffff 0.2px,#000080 0.2px,#000080 8.7px,#0060ff 8.7px,#08fff7 19.9px,#f0ff0f 19.9px,#fff600 27.6px,#ff9f00 27.6px,#ff8a00 45.7px,#ff5600 45.7px,#ff5400 48.1px,#ffc200 48.1px,#ff8400 70.5px,#ff5a00 70.5px,#ff2400 96.4px,#800000 96.4px,#800000 162.6px,#ffffff 162.6px,#ffffff 163.0px)"></i>
<i style="width:2px;background:linear-gradient(180deg,#ffffff 0.0px,#ffffff 0.2px,#000080 0.2px,#000080 8.7px,#0060ff 8.7px,#08fff7 19.9px,#f0ff0f 19.9px,#fff600 27.6px,#ff9f00 27.6px,#ff8a00 45.7px,#ff5600 45.7px,#ff5400 47.8px,#ffc200 47.8px,#ff8400 70.3px,#ff5a00 70.3px,#ff2400 96.2px,#800000 96.2px,#800000 162.6px,#ffffff 162.6px,#ffffff 163.0px)"></i>
<i style="width:2px;background:linear-gradient(180deg,#ffffff 0.0px,#ffffff 0.2px,#000080 0.2px,#000080 8.7px,#0060ff 8.7px,#08fff7 19.9px,#f0ff0f 19.9px,#fff600 27.7px,#ff9f00 27.7px,#ff8a00 45.7px,#ff5600 45.7px,#ff5400 47.4px,#ffc200 47.4px,#ff8400 70.0px,#ff5a00 70.0px,#ff2400 95.9px,#800000 95.9px,#800000 162.6px,#ffffff 162.6px,#ffffff 163.0px)"></i>
<i style="width:2px;background:linear-gradient(180deg,#ffffff 0.0px,#ffffff 0.2px,#000080 0.2px,#000080 8.7px,#0060ff 8.7px,#08fff7 19.9px,#f0ff0f 19.9px,#fff600 27.8px,#ff9f00 27.8px,#ff8a00 45.7px,#ff5600 45.7px,#ff5500 47.1px,#ffc200 47.1px,#ff8400 69.8px,#ff5a00 69.8px,#ff2400 95.7px,#800000 95.7px,#800000 162.6px,#ffffff 162.6px,#ffffff 163.0px)"></i>
<i style="width:2px;background:linear-gradient(180deg,#ffffff 0.0px,#ffffff 0.2px,#000080 0.2px,#000080 8.7px,#0060ff 8.7px,#08fff7 19.8px,#f0ff0f 19.8px,#fff600 27.9px,#ff9f00 27.9px,#ff8a00 45.7px,#ff5600 45.7px,#ff5500 46.7px,#ffc200 46.7px,#ff8400 69.5px,#ff5a00 69.5px,#ff2400 95.4px,#800000 95.4px,#800000 162.6px,#ffffff 162.6px,#ffffff 163.0px)"></i>
<i style="width:2px;background:linear-gradient(180deg,#ffffff 0.0px,#ffffff 0.2px,#000080 0.2px,#000080 8.7px,#0060ff 8.7px,#08fff7 19.8px,#f0ff0f 19.8px,#fff600 28.0px,#ff9f00 28.0px,#ff8a00 45.7px,#ff5600 45.7px,#ff5500 46.4px,#ffc200 46.4px,#ff8400 69.2px,#ff5a00 69.2px,#ff2400 95.1px,#800000 95.1px,#800000 162.6px,#ffffff 162.6px,#ffffff 163.0px)"></i>
<i style="width:2px;background:linear-gradient(180deg,#ffffff 0.0px,#ffffff 0.2px,#000080 0.2px,#000080 8.7px,#0060ff 8.7px,#08fff7 19.8px,#f0ff0f 19.8px,#fff600 28.1px,#ff9f00 28.1px,#ff8a00 45.7px,#ff5600 45.7px,#ff5600 46.0px,#ffc200 46.0px,#ff8400 69.0px,#ff5a00 69.0px,#ff2400 94.9px,#800000 94.9px,#800000 162.6px,#ffffff 162.6px,#ffffff 163.0px)"></i>
<i style="width:2px;background:linear-gradient(180deg,#ffffff 0.0px,#ffffff 0.2px,#000080 0.2px,#000080 8.7px,#0060ff 8.7px,#08fff7 19.8px,#f0ff0f 19.8px,#fff600 28.2px,#ff9f00 28.2px,#ff8a00 45.6px,#ffc200 45.6px,#ff8400 68.7px,#ff5a00 68.7px,#ff2400 94.6px,#800000 94.6px,#800000 162.6px,#ffffff 162.6px,#ffffff 163.0px)"></i>
<i style="width:2px;background:linear-gradient(180deg,#ffffff 0.0px,#ffffff 0.2px,#000080 0.2px,#000080 8.7px,#0060ff 8.7px,#08fff7 19.8px,#f0ff0f 19.8px,#fff600 28.3px,#ff9f00 28.3px,#ff8a00 45.3px,#ffc200 45.3px,#ff8400 68.4px,#ff5a00 68.4px,#ff2400 94.3px,#800000 94.3px,#800000 162.6px,#ffffff 162.6px,#ffffff 163.0px)"></i>
<i style="width:2px;background:linear-gradient(180deg,#ffffff 0.0px,#ffffff 0.2px,#000080 0.2px,#000080 8.7px,#0060ff 8.7px,#08fff7 19.8px,#f0ff0f 19.8px,#fff600 28.4px,#ff9f00 28.4px,#ff8b00 44.9px,#ffc200 44.9px,#ff8400 68.1px,#ff5a00 68.1px,#ff2400 94.0px,#800000 94.0px,#800000 162.6px,#ffffff 162.6px,#ffffff 163.0px)"></i>
<i style="width:2px;background:linear-gradient(180deg,#ffffff 0.0px,#ffffff 0.2px,#000080 0.2px,#000080 8.7px,#0060ff 8.7px,#08fff7 19.7px,#f0ff0f 19.7px,#fff600 28.5px,#ff9f00 28.5px,#ff8b00 44.6px,#ffc200 44.6px,#ff8400 67.9px,#ff5a00 67.9px,#ff2400 93.8px,#800000 93.8px,#800000 162.6px,#ffffff 162.6px,#ffffff 163.0px)"></i>
<i style="width:2px;background:linear-gradient(180deg,#ffffff 0.0px,#ffffff 0.2px,#000080 0.2px,#000080 8.7px,#0060ff 8.7px,#08fff7 19.7px,#f0ff0f 19.7px,#fff600 28.6px,#ff9f00 28.6px,#ff8b00 44.2px,#ffc200 44.2px,#ff8400 67.6px,#ff5a00 67.6px,#ff2400 93.5px,#800000 93.5px,#800000 162.6px,#ffffff 162.6px,#ffffff 163.0px)"></i>
<i style="width:2px;background:linear-gradient(180deg,#ffffff 0.0px,#ffffff 0.2px,#000080 0.2px,#000080 8.7px,#0060ff 8.7px,#08fff7 19.7px,#f0ff0f 19.7px,#fff600 28.7px,#ff9f00 28.7px,#ff8c00 43.9px,#ffc200 43.9px,#ff8400 67.3px,#ff5a00 67.3px,#ff2400 93.2px,#800000 93.2px,#800000 162.6px,#ffffff 162.6px,#ffffff 163.0px)"></i>
<i style="width:2px;background:linear-gradient(180deg,#ffffff 0.0px,#ffffff 0.2px,#000080 0.2px,#000080 8.7px,#0060ff 8.7px,#08fff7 19.7px,#f0ff0f 19.7px,#fff600 28.8px,#ff9f00 28.8px,#ff8c00 43.5px,#ffc200 43.5px,#ff8400 67.1px,#ff5a00 67.1px,#ff2400 93.0px,#800000 93.0px,#800000 162.6px,#ffffff 162.6px,#ffffff 163.0px)"></i>
<i style="width:2px;background:linear-gradient(180deg,#ffffff 0.0px,#ffffff 0.2px,#000080 0.2px,#000080 8.7px,#0060ff 8.7px,#08fff7 19.7px,#f0ff0f 19.7px,#fff600 28.9px,#ff9f00 28.9px,#ff8c00 43.1px,#ffc200 43.1px,#ff8400 66.8px,#ff5a00 66.8px,#ff2400 92.7px,#800000 92.7px,#800000 162.6px,#ffffff 162.6px,#ffffff 163.0px)"></i>
<i style="width:2px;background:linear-gradient(180deg,#ffffff 0.0px,#ffffff 0.2px,#000080 0.2px,#000080 8.7px,#0060ff 8.7px,#08fff7 19.7px,#f0ff0f 19.7px,#fff600 29.0px,#ff9f00 29.0px,#ff8d00 42.8px,#ffc200 42.8px,#ff8400 66.5px,#ff5a00 66.5px,#ff2400 92.4px,#800000 92.4px,#800000 162.6px,#ffffff 162.6px,#ffffff 163.0px)"></i>
<i style="width:2px;background:linear-gradient(180deg,#ffffff 0.0px,#ffffff 0.2px,#000080 0.2px,#000080 8.7px,#0060ff 8.7px,#08fff7 19.6px,#f0ff0f 19.6px,#fff600 29.1px,#ff9f00 29.1px,#ff8d00 42.7px,#ffc200 42.7px,#ff8400 66.3px,#ff5a00 66.3px,#ff2400 92.2px,#800000 92.2px,#800000 162.6px,#ffffff 162.6px,#ffffff 163.0px)"></i>
<i style="width:2px;background:linear-gradient(180deg,#ffffff 0.0px,#ffffff 0.2px,#000080 0.2px,#000080 8.7px,#0060ff 8.7px,#08fff7 19.6px,#f0ff0f 19.6px,#fff600 29.2px,#ff9f00 29.2px,#ff8d00 43.0px,#ffc200 43.0px,#ff8400 66.0px,#ff5a00 66.0px,#ff2400 91.9px,#800000 91.9px,#800000 162.6px,#ffffff 162.6px,#ffffff 163.0px)"></i>
<i style="width:2px;background:linear-gradient(180deg,#ffffff 0.0px,#ffffff 0.2px,#000080 0.2px,#000080 8.7px,#0060ff 8.7px,#08fff7 19.6px,#f0ff0f 19.6px,#fff600 29.3px,#ff9e00 29.3px,#ff8c00 43.2px,#ffc200 43.2px,#ff8400 65.7px,#ff5a00 65.7px,#ff2400 91.6px,#800000 91.6px,#800000 162.6px,#ffffff 162.6px,#ffffff 163.0px)"></i>
<i style="width:2px;background:linear-gradient(180deg,#ffffff 0.0px,#ffffff 0.2px,#000080 0.2px,#000080 8.8px,#0060ff 8.8px,#08fff7 19.8px,#f0ff0f 19.8px,#fff600 29.4px,#ff9e00 29.4px,#ff8d00 42.8px,#ffc200 42.8px,#ff8400 65.4px,#ff5a00 65.4px,#ff2400 91.3px,#800000 91.3px,#800000 162.6px,#ffffff 162.6px,#ffffff 163.0px)"></i>
<i style="width:2px;background:linear-gradient(180deg,#ffffff 0.0px,#ffffff 0.2px,#000080 0.2px,#000080 8.9px,#0060ff 8.9px,#08fff7 20.0px,#f0ff0f 20.0px,#fff600 29.4px,#ff9e00 29.4px,#ff8d00 42.4px,#ffc200 42.4px,#ff8400 65.2px,#ff5a00 65.2px,#ff2400 91.1px,#800000 91.1px,#800000 162.6px,#ffffff 162.6px,#ffffff 163.0px)"></i>
<i style="width:2px;background:linear-gradient(180deg,#ffffff 0.0px,#ffffff 0.2px,#000080 0.2px,#000080 9.0px,#0060ff 9.0px,#08fff7 20.2px,#f0ff0f 20.2px,#fff600 29.5px,#ff9e00 29.5px,#ff8e00 42.1px,#ffc200 42.1px,#ff8400 64.9px,#ff5a00 64.9px,#ff2400 90.8px,#800000 90.8px,#800000 162.6px,#ffffff 162.6px,#ffffff 163.0px)"></i>
<i style="width:2px;background:linear-gradient(180deg,#ffffff 0.0px,#ffffff 0.2px,#000080 0.2px,#000080 9.1px,#0060ff 9.1px,#08fff7 20.4px,#f0ff0f 20.4px,#fff600 29.6px,#ff9e00 29.6px,#ff8e00 41.7px,#ffc200 41.7px,#ff8400 64.6px,#ff5a00 64.6px,#ff2400 90.5px,#800000 90.5px,#800000 162.6px,#ffffff 162.6px,#ffffff 163.0px)"></i>
<i style="width:2px;background:linear-gradient(180deg,#ffffff 0.0px,#ffffff 0.2px,#000080 0.2px,#000080 9.2px,#0060ff 9.2px,#08fff7 20.6px,#f0ff0f 20.6px,#fff600 29.7px,#ff9e00 29.7px,#ff8e00 41.3px,#ffc200 41.3px,#ff8400 64.4px,#ff5a00 64.4px,#ff2400 90.2px,#800000 90.2px,#800000 162.6px,#ffffff 162.6px,#ffffff 163.0px)"></i>
<i style="width:2px;background:linear-gradient(180deg,#ffffff 0.0px,#ffffff 0.2px,#000080 0.2px,#000080 9.3px,#0060ff 9.3px,#08fff7 20.8px,#f0ff0f 20.8px,#fff600 29.7px,#ff9e00 29.7px,#ff8f00 40.9px,#ffc200 40.9px,#ff8400 64.1px,#ff5a00 64.1px,#ff2400 90.0px,#800000 90.0px,#800000 162.6px,#ffffff 162.6px,#ffffff 163.0px)"></i>
<i style="width:2px;background:linear-gradient(180deg,#ffffff 0.0px,#ffffff 0.2px,#000080 0.2px,#000080 9.4px,#0060ff 9.4px,#08fff7 20.9px,#f0ff0f 20.9px,#fff600 29.8px,#ff9e00 29.8px,#ff8f00 40.6px,#ffc200 40.6px,#ff8400 63.8px,#ff5a00 63.8px,#ff2400 89.7px,#800000 89.7px,#800000 162.6px,#ffffff 162.6px,#ffffff 163.0px)"></i>
<i style="width:2px;background:linear-gradient(180deg,#ffffff 0.0px,#ffffff 0.2px,#000080 0.2px,#000080 9.5px,#0060ff 9.5px,#08fff7 21.1px,#f0ff0f 21.1px,#fff600 29.9px,#ff9e00 29.9px,#ff8f00 40.2px,#ffc200 40.2px,#ff8400 63.5px,#ff5a00 63.5px,#ff2400 89.4px,#800000 89.4px,#800000 162.6px,#ffffff 162.6px,#ffffff 163.0px)"></i>
<i style="width:2px;background:linear-gradient(180deg,#ffffff 0.0px,#ffffff 0.2px,#000080 0.2px,#000080 9.6px,#0060ff 9.6px,#08fff7 21.3px,#f0ff0f 21.3px,#fff600 29.9px,#ff9e00 29.9px,#ff9000 39.8px,#ffc200 39.8px,#ff8400 63.3px,#ff5a00 63.3px,#ff2400 89.2px,#800000 89.2px,#800000 162.6px,#ffffff 162.6px,#ffffff 163.0px)"></i>
<i style="width:2px;background:linear-gradient(180deg,#ffffff 0.0px,#ffffff 0.2px,#000080 0.2px,#000080 9.7px,#0060ff 9.7px,#08fff7 21.5px,#f0ff0f 21.5px,#fff600 30.0px,#ff9e00 30.0px,#ff9000 39.4px,#ffc200 39.4px,#ff8400 63.0px,#ff5a00 63.0px,#ff2400 88.9px,#800000 88.9px,#800000 162.6px,#ffffff 162.6px,#ffffff 163.0px)"></i>
<i style="width:2px;background:linear-gradient(180deg,#ffffff 0.0px,#ffffff 0.2px,#000080 0.2px,#000080 9.8px,#0060ff 9.8px,#08fff7 21.7px,#f0ff0f 21.7px,#fff600 30.1px,#ff9e00 30.1px,#ff9000 39.1px,#ffc200 39.1px,#ff8400 62.7px,#ff5a00 62.7px,#ff2400 88.6px,#800000 88.6px,#800000 162.6px,#ffffff 162.6px,#ffffff 163.0px)"></i>
<i style="width:2px;background:linear-gradient(180deg,#ffffff 0.0px,#ffffff 0.2px,#000080 0.2px,#000080 9.9px,#0060ff 9.9px,#08fff7 21.9px,#f0ff0f 21.9px,#fff600 30.2px,#ff9e00 30.2px,#ff9100 38.7px,#ffc200 38.7px,#ff8400 62.4px,#ff5a00 62.4px,#ff2400 88.3px,#800000 88.3px,#800000 162.6px,#ffffff 162.6px,#ffffff 163.0px)"></i>
<i style="width:2px;background:linear-gradient(180deg,#ffffff 0.0px,#ffffff 0.2px,#000080 0.2px,#000080 10.1px,#0060ff 10.1px,#08fff7 22.0px,#f0ff0f 22.0px,#fff600 30.3px,#ff9e00 30.3px,#ff9100 38.4px,#ffc200 38.4px,#ff8400 62.1px,#ff5a00 62.1px,#ff2400 88.0px,#800000 88.0px,#800000 162.6px,#ffffff 162.6px,#ffffff 163.0px)"></i>
<i style="width:2px;background:linear-gradient(180deg,#ffffff 0.0px,#ffffff 0.2px,#000080 0.2px,#000080 10.2px,#0060ff 10.2px,#08fff7 22.1px,#f0ff0f 22.1px,#fff600 30.4px,#ff9e00 30.4px,#ff9100 38.1px,#ffc200 38.1px,#ff8400 61.8px,#ff5a00 61.8px,#ff2400 87.7px,#800000 87.7px,#800000 162.6px,#ffffff 162.6px,#ffffff 163.0px)"></i>
<i style="width:2px;background:linear-gradient(180deg,#ffffff 0.0px,#ffffff 0.2px,#000080 0.2px,#000080 10.3px,#0060ff 10.3px,#08fff7 22.1px,#f0ff0f 22.1px,#fff600 30.6px,#ff9e00 30.6px,#ff9200 37.9px,#ffc200 37.9px,#ff8400 61.5px,#ff5a00 61.5px,#ff2400 87.4px,#800000 87.4px,#800000 162.6px,#ffffff 162.6px,#ffffff 163.0px)"></i>
<i style="width:2px;background:linear-gradient(180deg,#ffffff 0.0px,#ffffff 0.2px,#000080 0.2px,#000080 10.5px,#0060ff 10.5px,#08fff7 22.1px,#f0ff0f 22.1px,#fff600 30.7px,#ff9e00 30.7px,#ff9200 37.6px,#ffc200 37.6px,#ff8400 61.2px,#ff5a00 61.2px,#ff2400 87.1px,#800000 87.1px,#800000 162.6px,#ffffff 162.6px,#ffffff 163.0px)"></i>
<i style="width:2px;background:linear-gradient(180deg,#ffffff 0.0px,#ffffff 0.2px,#000080 0.2px,#000080 10.6px,#0060ff 10.6px,#08fff7 22.2px,#f0ff0f 22.2px,#fff600 30.9px,#ff9e00 30.9px,#ff9200 37.3px,#ffc200 37.3px,#ff8400 60.8px,#ff5a00 60.8px,#ff2400 86.7px,#800000 86.7px,#800000 162.6px,#ffffff 162.6px,#ffffff 163.0px)"></i>
<i style="width:2px;background:linear-gradient(180deg,#ffffff 0.0px,#ffffff 0.2px,#000080 0.2px,#000080 10.7px,#0060ff 10.7px,#08fff7 22.2px,#f0ff0f 22.2px,#fff600 31.0px,#ff9e00 31.0px,#ff9200 37.1px,#ffc200 37.1px,#ff8400 60.5px,#ff5a00 60.5px,#ff2400 86.4px,#800000 86.4px,#800000 162.6px,#ffffff 162.6px,#ffffff 163.0px)"></i>
<i style="width:2px;background:linear-gradient(180deg,#ffffff 0.0px,#ffffff 0.2px,#000080 0.2px,#000080 10.9px,#0060ff 10.9px,#08fff7 22.3px,#f0ff0f 22.3px,#fff600 31.2px,#ff9e00 31.2px,#ff9300 36.8px,#ffc200 36.8px,#ff8400 60.2px,#ff5a00 60.2px,#ff2400 86.1px,#800000 86.1px,#800000 162.6px,#ffffff 162.6px,#ffffff 163.0px)"></i>
<i style="width:2px;background:linear-gradient(180deg,#ffffff 0.0px,#ffffff 0.2px,#000080 0.2px,#000080 11.0px,#0060ff 11.0px,#08fff7 22.3px,#f0ff0f 22.3px,#fff600 31.3px,#ff9d00 31.3px,#ff9300 36.6px,#ffc200 36.6px,#ff8400 59.9px,#ff5a00 59.9px,#ff2400 85.8px,#800000 85.8px,#800000 162.6px,#ffffff 162.6px,#ffffff 163.0px)"></i>
<i style="width:2px;background:linear-gradient(180deg,#ffffff 0.0px,#ffffff 0.2px,#000080 0.2px,#000080 11.1px,#0060ff 11.1px,#08fff7 22.4px,#f0ff0f 22.4px,#fff600 31.5px,#ff9d00 31.5px,#ff9300 36.3px,#ffc200 36.3px,#ff8400 59.5px,#ff5a00 59.5px,#ff2400 85.4px,#800000 85.4px,#800000 162.6px,#ffffff 162.6px,#ffffff 163.0px)"></i>
<i style="width:2px;background:linear-gradient(180deg,#ffffff 0.0px,#ffffff 0.2px,#000080 0.2px,#000080 11.3px,#0060ff 11.3px,#08fff7 22.4px,#f0ff0f 22.4px,#fff600 31.6px,#ff9d00 31.6px,#ff9300 36.0px,#ffc200 36.0px,#ff8400 59.2px,#ff5a00 59.2px,#ff2400 85.1px,#800000 85.1px,#800000 162.6px,#ffffff 162.6px,#ffffff 163.0px)"></i>
<i style="width:2px;background:linear-gradient(180deg,#ffffff 0.0px,#ffffff 0.2px,#000080 0.2px,#000080 11.4px,#0060ff 11.4px,#08fff7 22.4px,#f0ff0f 22.4px,#fff600 31.8px,#ff9d00 31.8px,#ff9400 35.8px,#ffc200 35.8px,#ff8400 58.9px,#ff5a00 58.9px,#ff2400 84.8px,#800000 84.8px,#800000 162.6px,#ffffff 162.6px,#ffffff 163.0px)"></i>
<i style="width:2px;background:linear-gradient(180deg,#ffffff 0.0px,#ffffff 0.2px,#000080 0.2px,#000080 11.5px,#0060ff 11.5px,#08fff7 22.5px,#f0ff0f 22.5px,#fff600 31.9px,#ff9d00 31.9px,#ff9400 35.5px,#ffc200 35.5px,#ff8400 58.6px,#ff5a00 58.6px,#ff2400 84.5px,#800000 84.5px,#800000 162.6px,#ffffff 162.6px,#ffffff 163.0px)"></i>
<i style="width:2px;background:linear-gradient(180deg,#ffffff 0.0px,#ffffff 0.2px,#000080 0.2px,#000080 11.6px,#0060ff 11.6px,#08fff7 22.5px,#f0ff0f 22.5px,#fff600 32.0px,#ff9d00 32.0px,#ff9400 35.3px,#ffc200 35.3px,#ff8400 58.3px,#ff5a00 58.3px,#ff2400 84.2px,#800000 84.2px,#800000 162.6px,#ffffff 162.6px,#ffffff 163.0px)"></i>
<i style="width:2px;background:linear-gradient(180deg,#ffffff 0.0px,#ffffff 0.2px,#000080 0.2px,#000080 11.7px,#0060ff 11.7px,#08fff7 22.5px,#f0ff0f 22.5px,#fff600 32.1px,#ff9d00 32.1px,#ff9400 35.2px,#ffc200 35.2px,#ff8400 58.0px,#ff5a00 58.0px,#ff2400 83.9px,#800000 83.9px,#800000 162.6px,#ffffff 162.6px,#ffffff 163.0px)"></i>
<i style="width:2px;background:linear-gradient(180deg,#ffffff 0.0px,#ffffff 0.2px,#000080 0.2px,#000080 11.8px,#0060ff 11.8px,#08fff7 22.6px,#f0ff0f 22.6px,#fff600 32.1px,#ff9d00 32.1px,#ff9400 35.0px,#ffc200 35.0px,#ff8400 57.7px,#ff5a00 57.7px,#ff2400 83.6px,#800000 83.6px,#800000 162.6px,#ffffff 162.6px,#ffffff 163.0px)"></i>
<i style="width:2px;background:linear-gradient(180deg,#ffffff 0.0px,#ffffff 0.2px,#000080 0.2px,#000080 11.9px,#0060ff 11.9px,#08fff7 22.6px,#f0ff0f 22.6px,#fff600 32.1px,#ff9d00 32.1px,#ff9500 34.9px,#ffc200 34.9px,#ff8400 57.4px,#ff5a00 57.4px,#ff2400 83.3px,#800000 83.3px,#800000 162.6px,#ffffff 162.6px,#ffffff 163.0px)"></i>
<i style="width:2px;background:linear-gradient(180deg,#ffffff 0.0px,#ffffff 0.2px,#000080 0.2px,#000080 11.9px,#0060ff 11.9px,#08fff7 22.6px,#f0ff0f 22.6px,#fff600 32.2px,#ff9d00 32.2px,#ff9500 34.7px,#ffc200 34.7px,#ff8400 57.1px,#ff5a00 57.1px,#ff2400 83.0px,#800000 83.0px,#800000 162.6px,#ffffff 162.6px,#ffffff 163.0px)"></i>
<i style="width:2px;background:linear-gradient(180deg,#ffffff 0.0px,#ffffff 0.2px,#000080 0.2px,#000080 12.0px,#0060ff 12.0px,#08fff7 22.7px,#f0ff0f 22.7px,#fff600 32.2px,#ff9d00 32.2px,#ff9500 34.6px,#ffc200 34.6px,#ff8400 56.8px,#ff5a00 56.8px,#ff2400 82.7px,#800000 82.7px,#800000 162.6px,#ffffff 162.6px,#ffffff 163.0px)"></i>
<i style="width:2px;background:linear-gradient(180deg,#ffffff 0.0px,#ffffff 0.2px,#000080 0.2px,#000080 12.1px,#0060ff 12.1px,#08fff7 22.7px,#f0ff0f 22.7px,#fff600 32.3px,#ff9d00 32.3px,#ff9500 34.5px,#ffc200 34.5px,#ff8400 56.5px,#ff5a00 56.5px,#ff2400 82.4px,#800000 82.4px,#800000 162.6px,#ffffff 162.6px,#ffffff 163.0px)"></i>
<i style="width:2px;background:linear-gradient(180deg,#ffffff 0.0px,#ffffff 0.2px,#000080 0.2px,#000080 12.2px,#0060ff 12.2px,#08fff7 22.7px,#f0ff0f 22.7px,#fff600 32.3px,#ff9d00 32.3px,#ff9500 34.3px,#ffc200 34.3px,#ff8400 56.2px,#ff5a00 56.2px,#ff2400 82.1px,#800000 82.1px,#800000 162.6px,#ffffff 162.6px,#ffffff 163.0px)"></i>
<i style="width:2px;background:linear-gradient(180deg,#ffffff 0.0px,#ffffff 0.2px,#000080 0.2px,#000080 12.2px,#0060ff 12.2px,#08fff7 22.8px,#f0ff0f 22.8px,#fff600 32.3px,#ff9d00 32.3px,#ff9500 34.2px,#ffc200 34.2px,#ff8400 55.9px,#ff5a00 55.9px,#ff2400 81.8px,#800000 81.8px,#800000 162.6px,#ffffff 162.6px,#ffffff 163.0px)"></i>
<i style="width:2px;background:linear-gradient(180deg,#ffffff 0.0px,#ffffff 0.2px,#000080 0.2px,#000080 12.3px,#0060ff 12.3px,#08fff7 22.8px,#f0ff0f 22.8px,#fff600 32.4px,#ff9d00 32.4px,#ff9500 34.0px,#ffc200 34.0px,#ff8400 55.6px,#ff5a00 55.6px,#ff2400 81.5px,#800000 81.5px,#800000 162.6px,#ffffff 162.6px,#ffffff 163.0px)"></i>
<i style="width:2px;background:linear-gradient(180deg,#ffffff 0.0px,#ffffff 0.2px,#000080 0.2px,#000080 12.4px,#0060ff 12.4px,#08fff7 22.8px,#f0ff0f 22.8px,#fff600 32.4px,#ff9d00 32.4px,#ff9500 33.9px,#ffc200 33.9px,#ff8400 55.3px,#ff5a00 55.3px,#ff2400 81.2px,#800000 81.2px,#800000 162.6px,#ffffff 162.6px,#ffffff 163.0px)"></i>
<i style="width:2px;background:linear-gradient(180deg,#ffffff 0.0px,#ffffff 0.2px,#000080 0.2px,#000080 12.5px,#0060ff 12.5px,#08fff7 22.9px,#f0ff0f 22.9px,#fff600 32.4px,#ff9d00 32.4px,#ff9600 33.7px,#ffc200 33.7px,#ff8400 55.1px,#ff5a00 55.1px,#ff2400 81.0px,#800000 81.0px,#800000 162.6px,#ffffff 162.6px,#ffffff 163.0px)"></i>
<i style="width:2px;background:linear-gradient(180deg,#ffffff 0.0px,#ffffff 0.2px,#000080 0.2px,#000080 12.5px,#0060ff 12.5px,#08fff7 22.9px,#f0ff0f 22.9px,#fff600 32.5px,#ff9d00 32.5px,#ff9600 33.6px,#ffc200 33.6px,#ff8400 54.8px,#ff5a00 54.8px,#ff2400 80.7px,#800000 80.7px,#800000 162.6px,#ffffff 162.6px,#ffffff 163.0px)"></i>
<i style="width:2px;background:linear-gradient(180deg,#ffffff 0.0px,#ffffff 0.2px,#000080 0.2px,#000080 12.6px,#0060ff 12.6px,#08fff7 22.9px,#f0ff0f 22.9px,#fff600 32.5px,#ff9d00 32.5px,#ff9600 33.4px,#ffc200 33.4px,#ff8400 54.5px,#ff5a00 54.5px,#ff2400 80.4px,#800000 80.4px,#800000 162.6px,#ffffff 162.6px,#ffffff 163.0px)"></i>
<i style="width:2px;background:linear-gradient(180deg,#ffffff 0.0px,#ffffff 0.2px,#000080 0.2px,#000080 12.7px,#0060ff 12.7px,#08fff7 23.0px,#f0ff0f 23.0px,#fff600 32.6px,#ff9d00 32.6px,#ff9600 33.3px,#ffc200 33.3px,#ff8400 54.2px,#ff5a00 54.2px,#ff2400 80.1px,#800000 80.1px,#800000 162.6px,#ffffff 162.6px,#ffffff 163.0px)"></i>
<i style="width:2px;background:linear-gradient(180deg,#ffffff 0.0px,#ffffff 0.2px,#000080 0.2px,#000080 12.8px,#0060ff 12.8px,#08fff7 23.0px,#f0ff0f 23.0px,#fff600 32.6px,#ff9d00 32.6px,#ff9600 33.3px,#ffc200 33.3px,#ff8400 53.9px,#ff5a00 53.9px,#ff2400 79.8px,#800000 79.8px,#800000 162.6px,#ffffff 162.6px,#ffffff 163.0px)"></i>
<i style="width:2px;background:linear-gradient(180deg,#ffffff 0.0px,#ffffff 0.2px,#000080 0.2px,#000080 12.8px,#0060ff 12.8px,#08fff7 23.0px,#f0ff0f 23.0px,#fff600 32.6px,#ff9d00 32.6px,#ff9600 33.3px,#ffc200 33.3px,#ff8400 53.6px,#ff5a00 53.6px,#ff2400 79.5px,#800000 79.5px,#800000 162.6px,#ffffff 162.6px,#ffffff 163.0px)"></i>
<i style="width:2px;background:linear-gradient(180deg,#ffffff 0.0px,#ffffff 0.2px,#000080 0.2px,#000080 12.9px,#0060ff 12.9px,#08fff7 23.0px,#f0ff0f 23.0px,#fff600 32.7px,#ff9d00 32.7px,#ff9600 33.3px,#ffc200 33.3px,#ff8400 53.3px,#ff5a00 53.3px,#ff2400 79.2px,#800000 79.2px,#800000 162.6px,#ffffff 162.6px,#ffffff 163.0px)"></i>
<i style="width:2px;background:linear-gradient(180deg,#ffffff 0.0px,#ffffff 0.2px,#000080 0.2px,#000080 13.0px,#0060ff 13.0px,#08fff7 23.1px,#f0ff0f 23.1px,#fff600 32.7px,#ff9d00 32.7px,#ff9600 33.3px,#ffc200 33.3px,#ff8400 53.0px,#ff5a00 53.0px,#ff2400 78.9px,#800000 78.9px,#800000 162.6px,#ffffff 162.6px,#ffffff 163.0px)"></i>
<i style="width:2px;background:linear-gradient(180deg,#ffffff 0.0px,#ffffff 0.2px,#000080 0.2px,#000080 13.1px,#0060ff 13.1px,#08fff7 23.1px,#f0ff0f 23.1px,#fff600 32.8px,#ff9d00 32.8px,#ff9600 33.4px,#ffc200 33.4px,#ff8400 52.7px,#ff5a00 52.7px,#ff2400 78.6px,#800000 78.6px,#800000 162.6px,#ffffff 162.6px,#ffffff 163.0px)"></i>
<i style="width:2px;background:linear-gradient(180deg,#ffffff 0.0px,#ffffff 0.2px,#000080 0.2px,#000080 13.1px,#0060ff 13.1px,#08fff7 23.1px,#f0ff0f 23.1px,#fff600 32.8px,#ff9d00 32.8px,#ff9600 33.4px,#ffc200 33.4px,#ff8400 52.4px,#ff5a00 52.4px,#ff2400 78.3px,#800000 78.3px,#800000 162.6px,#ffffff 162.6px,#ffffff 163.0px)"></i>
<i style="width:2px;background:linear-gradient(180deg,#ffffff 0.0px,#ffffff 0.2px,#000080 0.2px,#000080 13.2px,#0060ff 13.2px,#08fff7 23.2px,#f0ff0f 23.2px,#fff600 32.8px,#ff9d00 32.8px,#ff9600 33.4px,#ffc200 33.4px,#ff8400 52.1px,#ff5a00 52.1px,#ff2400 78.0px,#800000 78.0px,#800000 162.6px,#ffffff 162.6px,#ffffff 163.0px)"></i>
<i style="width:2px;background:linear-gradient(180deg,#ffffff 0.0px,#ffffff 0.2px,#000080 0.2px,#000080 13.3px,#0060ff 13.3px,#08fff7 23.2px,#f0ff0f 23.2px,#fff600 32.9px,#ff9d00 32.9px,#ff9600 33.4px,#ffc200 33.4px,#ff8400 51.8px,#ff5a00 51.8px,#ff2400 77.7px,#800000 77.7px,#800000 162.6px,#ffffff 162.6px,#ffffff 163.0px)"></i>
<i style="width:2px;background:linear-gradient(180deg,#ffffff 0.0px,#ffffff 0.2px,#000080 0.2px,#000080 13.4px,#0060ff 13.4px,#08fff7 23.2px,#f0ff0f 23.2px,#fff600 32.9px,#ff9d00 32.9px,#ff9600 33.4px,#ffc200 33.4px,#ff8400 51.6px,#ff5a00 51.6px,#ff2400 77.5px,#800000 77.5px,#800000 162.6px,#ffffff 162.6px,#ffffff 163.0px)"></i>
<i style="width:2px;background:linear-gradient(180deg,#ffffff 0.0px,#ffffff 0.2px,#000080 0.2px,#000080 13.4px,#0060ff 13.4px,#08fff7 23.3px,#f0ff0f 23.3px,#fff600 32.9px,#ff9d00 32.9px,#ff9600 33.4px,#ffc200 33.4px,#ff8400 51.4px,#ff5a00 51.4px,#ff2400 77.3px,#800000 77.3px,#800000 162.6px,#ffffff 162.6px,#ffffff 163.0px)"></i>
<i style="width:2px;background:linear-gradient(180deg,#ffffff 0.0px,#ffffff 0.2px,#000080 0.2px,#000080 13.5px,#0060ff 13.5px,#08fff7 23.3px,#f0ff0f 23.3px,#fff600 33.0px,#ff9d00 33.0px,#ff9600 33.4px,#ffc200 33.4px,#ff8400 51.1px,#ff5a00 51.1px,#ff2400 77.0px,#800000 77.0px,#800000 162.6px,#ffffff 162.6px,#ffffff 163.0px)"></i>
<i style="width:2px;background:linear-gradient(180deg,#ffffff 0.0px,#ffffff 0.2px,#000080 0.2px,#000080 13.6px,#0060ff 13.6px,#08fff7 23.3px,#f0ff0f 23.3px,#fff600 33.0px,#ff9d00 33.0px,#ff9600 33.4px,#ffc200 33.4px,#ff8400 50.9px,#ff5a00 50.9px,#ff2400 76.8px,#800000 76.8px,#800000 162.6px,#ffffff 162.6px,#ffffff 163.0px)"></i>
<i style="width:2px;background:linear-gradient(180deg,#ffffff 0.0px,#ffffff 0.2px,#000080 0.2px,#000080 13.7px,#0060ff 13.7px,#08fff7 23.4px,#f0ff0f 23.4px,#fff600 33.1px,#ff9d00 33.1px,#ff9600 33.4px,#ffc200 33.4px,#ff8400 50.7px,#ff5a00 50.7px,#ff2400 76.6px,#800000 76.6px,#800000 162.6px,#ffffff 162.6px,#ffffff 163.0px)"></i>
<i style="width:2px;background:linear-gradient(180deg,#ffffff 0.0px,#ffffff 0.2px,#000080 0.2px,#000080 13.7px,#0060ff 13.7px,#08fff7 23.4px,#f0ff0f 23.4px,#fff600 33.1px,#ff9d00 33.1px,#ff9600 33.5px,#ffc200 33.5px,#ff8400 50.4px,#ff5a00 50.4px,#ff2400 76.3px,#800000 76.3px,#800000 162.6px,#ffffff 162.6px,#ffffff 163.0px)"></i>
<i style="width:2px;background:linear-gradient(180deg,#ffffff 0.0px,#ffffff 0.2px,#000080 0.2px,#000080 13.8px,#0060ff 13.8px,#08fff7 23.4px,#f0ff0f 23.4px,#fff600 33.1px,#ff9d00 33.1px,#ff9600 33.5px,#ffc200 33.5px,#ff8400 50.2px,#ff5a00 50.2px,#ff2400 76.1px,#800000 76.1px,#800000 162.6px,#ffffff 162.6px,#ffffff 163.0px)"></i>
<i style="width:2px;background:linear-gradient(180deg,#ffffff 0.0px,#ffffff 0.2px,#000080 0.2px,#000080 13.9px,#0060ff 13.9px,#08fff7 23.5px,#f0ff0f 23.5px,#fff600 33.2px,#ff9d00 33.2px,#ff9600 33.5px,#ffc200 33.5px,#ff8400 50.0px,#ff5a00 50.0px,#ff2400 75.9px,#800000 75.9px,#800000 162.6px,#ffffff 162.6px,#ffffff 163.0px)"></i>
<i style="width:2px;background:linear-gradient(180deg,#ffffff 0.0px,#ffffff 0.2px,#000080 0.2px,#000080 14.0px,#0060ff 14.0px,#08fff7 23.5px,#f0ff0f 23.5px,#fff600 33.2px,#ff9d00 33.2px,#ff9600 33.5px,#ffc200 33.5px,#ff8400 49.7px,#ff5a00 49.7px,#ff2400 75.6px,#800000 75.6px,#800000 162.6px,#ffffff 162.6px,#ffffff 163.0px)"></i>
<i style="width:2px;background:linear-gradient(180deg,#ffffff 0.0px,#ffffff 0.2px,#000080 0.2px,#000080 14.0px,#0060ff 14.0px,#08fff7 23.5px,#f0ff0f 23.5px,#fff600 33.3px,#ff9d00 33.3px,#ff9600 33.5px,#ffc200 33.5px,#ff8400 49.5px,#ff5a00 49.5px,#ff2400 75.4px,#800000 75.4px,#800000 162.6px,#ffffff 162.6px,#ffffff 163.0px)"></i>
<i style="width:2px;background:linear-gradient(180deg,#ffffff 0.0px,#ffffff 0.2px,#000080 0.2px,#000080 14.1px,#0060ff 14.1px,#08fff7 23.5px,#f0ff0f 23.5px,#fff600 33.3px,#ff9d00 33.3px,#ff9600 33.5px,#ffc200 33.5px,#ff8400 49.3px,#ff5a00 49.3px,#ff2400 75.2px,#800000 75.2px,#800000 162.6px,#ffffff 162.6px,#ffffff 163.0px)"></i>
<i style="width:2px;background:linear-gradient(180deg,#ffffff 0.0px,#ffffff 0.2px,#000080 0.2px,#000080 14.2px,#0060ff 14.2px,#08fff7 23.6px,#f0ff0f 23.6px,#fff600 33.3px,#ff9d00 33.3px,#ff9600 33.5px,#ffc200 33.5px,#ff8400 49.0px,#ff5a00 49.0px,#ff2400 74.9px,#800000 74.9px,#800000 162.6px,#ffffff 162.6px,#ffffff 163.0px)"></i>
<i style="width:2px;background:linear-gradient(180deg,#ffffff 0.0px,#ffffff 0.2px,#000080 0.2px,#000080 14.3px,#0060ff 14.3px,#08fff7 23.6px,#f0ff0f 23.6px,#fff600 33.4px,#ff9c00 33.4px,#ff9600 33.5px,#ffc200 33.5px,#ff8400 48.8px,#ff5a00 48.8px,#ff2400 74.7px,#800000 74.7px,#800000 162.6px,#ffffff 162.6px,#ffffff 163.0px)"></i>
<i style="width:2px;background:linear-gradient(180deg,#ffffff 0.0px,#ffffff 0.2px,#000080 0.2px,#000080 14.3px,#0060ff 14.3px,#08fff7 23.6px,#f0ff0f 23.6px,#fff600 33.4px,#ff9c00 33.4px,#ff9600 33.5px,#ffc200 33.5px,#ff8400 48.6px,#ff5a00 48.6px,#ff2400 74.5px,#800000 74.5px,#800000 162.6px,#ffffff 162.6px,#ffffff 163.0px)"></i>
<i style="width:2px;background:linear-gradient(180deg,#ffffff 0.0px,#ffffff 0.2px,#000080 0.2px,#000080 14.4px,#0060ff 14.4px,#08fff7 23.7px,#f0ff0f 23.7px,#fff600 33.4px,#ff9c00 33.4px,#ff9600 33.6px,#ffc200 33.6px,#ff8400 48.3px,#ff5a00 48.3px,#ff2400 74.2px,#800000 74.2px,#800000 162.6px,#ffffff 162.6px,#ffffff 163.0px)"></i>
<i style="width:2px;background:linear-gradient(180deg,#ffffff 0.0px,#ffffff 0.2px,#000080 0.2px,#000080 14.5px,#0060ff 14.5px,#08fff7 23.7px,#f0ff0f 23.7px,#fff600 33.5px,#ff9c00 33.5px,#ff9600 33.6px,#ffc200 33.6px,#ff8400 48.1px,#ff5a00 48.1px,#ff2400 74.0px,#800000 74.0px,#800000 162.6px,#ffffff 162.6px,#ffffff 163.0px)"></i>
<i style="width:2px;background:linear-gradient(180deg,#ffffff 0.0px,#ffffff 0.2px,#000080 0.2px,#000080 14.6px,#0060ff 14.6px,#08fff7 23.7px,#f0ff0f 23.7px,#fff600 33.5px,#ff9c00 33.5px,#ff9600 33.6px,#ffc200 33.6px,#ff8400 47.9px,#ff5a00 47.9px,#ff2400 73.8px,#800000 73.8px,#800000 162.6px,#ffffff 162.6px,#ffffff 163.0px)"></i>
<i style="width:2px;background:linear-gradient(180deg,#ffffff 0.0px,#ffffff 0.2px,#000080 0.2px,#000080 14.6px,#0060ff 14.6px,#08fff7 23.8px,#f0ff0f 23.8px,#fff600 33.6px,#ff9c00 33.6px,#ff9600 33.6px,#ffc200 33.6px,#ff8400 47.6px,#ff5a00 47.6px,#ff2400 73.5px,#800000 73.5px,#800000 162.6px,#ffffff 162.6px,#ffffff 163.0px)"></i>
<i style="width:2px;background:linear-gradient(180deg,#ffffff 0.0px,#ffffff 0.2px,#000080 0.2px,#000080 14.7px,#0060ff 14.7px,#08fff7 23.8px,#f0ff0f 23.8px,#fff600 33.6px,#ffc200 33.6px,#ff8400 47.4px,#ff5a00 47.4px,#ff2400 73.3px,#800000 73.3px,#800000 162.6px,#ffffff 162.6px,#ffffff 163.0px)"></i>
<i style="width:2px;background:linear-gradient(180deg,#ffffff 0.0px,#ffffff 0.2px,#000080 0.2px,#000080 14.8px,#0060ff 14.8px,#08fff7 23.9px,#f0ff0f 23.9px,#fff600 33.8px,#ffc200 33.8px,#ff8400 47.3px,#ff5a00 47.3px,#ff2400 73.2px,#800000 73.2px,#800000 162.6px,#ffffff 162.6px,#ffffff 163.0px)"></i>
<i style="width:2px;background:linear-gradient(180deg,#ffffff 0.0px,#ffffff 0.2px,#000080 0.2px,#000080 14.9px,#0060ff 14.9px,#08fff7 24.0px,#f0ff0f 24.0px,#fff600 34.0px,#ffc200 34.0px,#ff8400 47.2px,#ff5a00 47.2px,#ff2400 73.1px,#800000 73.1px,#800000 162.6px,#ffffff 162.6px,#ffffff 163.0px)"></i>
<i style="width:2px;background:linear-gradient(180deg,#ffffff 0.0px,#ffffff 0.2px,#000080 0.2px,#000080 15.1px,#0060ff 15.1px,#08fff7 24.1px,#f0ff0f 24.1px,#fff600 34.1px,#ffc200 34.1px,#ff8400 47.1px,#ff5a00 47.1px,#ff2400 73.0px,#800000 73.0px,#800000 162.6px,#ffffff 162.6px,#ffffff 163.0px)"></i>
<i style="width:2px;background:linear-gradient(180deg,#ffffff 0.0px,#ffffff 0.2px,#000080 0.2px,#000080 15.2px,#0060ff 15.2px,#08fff7 24.3px,#f0ff0f 24.3px,#fff600 34.3px,#ffc200 34.3px,#ff8400 47.0px,#ff5a00 47.0px,#ff2400 72.9px,#800000 72.9px,#800000 162.6px,#ffffff 162.6px,#ffffff 163.0px)"></i>
<i style="width:2px;background:linear-gradient(180deg,#ffffff 0.0px,#ffffff 0.2px,#000080 0.2px,#000080 15.3px,#0060ff 15.3px,#08fff7 24.4px,#f0ff0f 24.4px,#fff600 34.5px,#ffc200 34.5px,#ff8400 46.9px,#ff5a00 46.9px,#ff2400 72.8px,#800000 72.8px,#800000 162.6px,#ffffff 162.6px,#ffffff 163.0px)"></i>
<i style="width:2px;background:linear-gradient(180deg,#ffffff 0.0px,#ffffff 0.2px,#000080 0.2px,#000080 15.4px,#0060ff 15.4px,#08fff7 24.5px,#f0ff0f 24.5px,#fff600 34.7px,#ffc200 34.7px,#ff8400 46.8px,#ff5a00 46.8px,#ff2400 72.7px,#800000 72.7px,#800000 162.6px,#ffffff 162.6px,#ffffff 163.0px)"></i>
<i style="width:2px;background:linear-gradient(180deg,#ffffff 0.0px,#ffffff 0.2px,#000080 0.2px,#000080 15.6px,#0060ff 15.6px,#08fff7 24.6px,#f0ff0f 24.6px,#fff600 34.9px,#ffc200 34.9px,#ff8400 46.7px,#ff5a00 46.7px,#ff2400 72.6px,#800000 72.6px,#800000 162.6px,#ffffff 162.6px,#ffffff 163.0px)"></i>
<i style="width:2px;background:linear-gradient(180deg,#ffffff 0.0px,#ffffff 0.2px,#000080 0.2px,#000080 15.7px,#0060ff 15.7px,#08fff7 24.7px,#f0ff0f 24.7px,#fff600 35.0px,#ffc200 35.0px,#ff8400 46.6px,#ff5a00 46.6px,#ff2400 72.5px,#800000 72.5px,#800000 162.6px,#ffffff 162.6px,#ffffff 163.0px)"></i>
<i style="width:2px;background:linear-gradient(180deg,#ffffff 0.0px,#ffffff 0.2px,#000080 0.2px,#000080 15.8px,#0060ff 15.8px,#08fff7 24.8px,#f0ff0f 24.8px,#fff600 35.2px,#ffc200 35.2px,#ff8400 46.5px,#ff5a00 46.5px,#ff2400 72.4px,#800000 72.4px,#800000 162.6px,#ffffff 162.6px,#ffffff 163.0px)"></i>
<i style="width:2px;background:linear-gradient(180deg,#ffffff 0.0px,#ffffff 0.2px,#000080 0.2px,#000080 15.9px,#0060ff 15.9px,#08fff7 24.9px,#f0ff0f 24.9px,#fff600 35.4px,#ffc200 35.4px,#ff8400 46.4px,#ff5a00 46.4px,#ff2400 72.3px,#800000 72.3px,#800000 162.6px,#ffffff 162.6px,#ffffff 163.0px)"></i>
</div>
<svg width="685" height="676" viewBox="0 0 685 676">
<g fill="none" stroke="#686868" stroke-width="1.35">
<path d="M75.5 1.0C71.3 7.6 54.8 33.9 50.6 40.5"/>
<path d="M100.5 1.0C96.4 8.5 84.3 30.8 76.0 46.0C67.7 61.2 54.8 84.3 50.6 92.0"/>
<path d="M124.3 1.0C122.9 4.0 118.4 14.2 116.0 19.0C113.6 23.8 111.8 26.3 110.0 30.0C108.2 33.7 110.2 30.5 105.0 41.0C99.8 51.5 87.9 75.2 78.8 93.0C69.7 110.8 55.3 138.8 50.6 148.0"/>
<path d="M150.0 1.0C147.7 5.8 140.7 20.3 136.0 30.0C131.3 39.7 125.2 52.2 122.0 59.0C118.8 65.8 118.7 67.2 117.0 71.0C115.3 74.8 116.2 72.8 111.8 82.0C107.4 91.2 97.7 111.4 90.5 126.0C83.3 140.6 75.2 156.6 68.5 169.5C61.9 182.4 53.6 197.7 50.6 203.3"/>
<path d="M177.0 1.0C176.2 2.7 175.7 2.8 172.0 11.0C168.3 19.2 161.0 37.0 155.0 50.0C149.0 63.0 140.1 80.6 136.0 89.0C131.9 97.4 132.3 96.3 130.5 100.5C128.7 104.7 130.8 102.5 125.0 114.0C119.2 125.5 104.3 153.9 96.0 169.5C87.7 185.1 81.0 196.2 75.0 207.5C69.0 218.8 63.2 230.2 60.0 237.5C56.8 244.8 56.2 248.8 55.5 251.0"/>
<path d="M206.0 1.0C205.3 2.5 203.7 6.7 202.0 10.0C200.3 13.3 197.8 17.1 196.0 21.0C194.2 24.9 193.7 26.8 191.0 33.5C188.3 40.2 183.1 53.7 180.0 61.0C176.9 68.3 177.2 67.7 172.5 77.5C167.8 87.3 159.0 104.7 151.5 120.0C144.0 135.3 132.9 158.3 127.5 169.5C122.1 180.7 121.5 181.9 119.0 187.0C116.5 192.1 116.6 191.6 112.8 200.0C109.0 208.4 100.6 226.7 96.0 237.5C91.4 248.3 88.0 255.9 85.0 265.0C82.0 274.1 80.1 282.0 78.2 292.0C76.3 302.0 75.0 316.0 73.6 325.0C72.1 334.0 71.0 340.2 69.5 346.0C68.0 351.8 66.1 355.6 64.5 360.0C62.9 364.4 62.3 366.6 60.0 372.5C57.7 378.4 52.2 391.7 50.6 395.5"/>
<path d="M236.8 1.0C234.2 6.7 226.7 23.9 221.5 35.0C216.3 46.1 209.7 59.8 205.8 67.5C201.9 75.2 200.4 76.6 198.0 81.0C195.6 85.4 195.5 85.5 191.5 94.0C187.5 102.5 179.8 119.4 174.0 132.0C168.2 144.6 162.4 156.9 157.0 169.5C151.6 182.1 146.1 196.6 141.8 207.5C137.6 218.4 134.1 228.1 131.5 235.0C128.9 241.9 128.2 244.4 126.5 249.0C124.8 253.6 123.8 254.5 121.0 262.5C118.2 270.5 113.5 284.1 110.0 297.0C106.5 309.9 103.8 325.8 100.0 340.0C96.2 354.2 91.0 370.8 87.5 382.5C84.0 394.2 81.2 403.1 79.0 410.0C76.8 416.9 75.7 419.7 74.0 424.0C72.3 428.3 71.0 431.1 69.0 436.0C67.0 440.9 63.2 450.6 62.0 453.5"/>
<path d="M266.3 1.0C262.4 9.4 247.9 40.1 242.8 51.2C237.7 62.3 241.6 56.7 235.5 67.5C229.4 78.3 212.7 105.6 206.3 116.0C199.9 126.4 199.5 125.7 197.0 130.0C194.5 134.3 194.8 135.5 191.5 142.0C188.2 148.5 181.0 161.4 177.5 169.0C174.0 176.6 172.8 179.0 170.5 187.5C168.2 196.0 166.4 207.5 163.5 220.0C160.6 232.5 155.9 250.8 153.0 262.5C150.1 274.2 147.7 283.0 146.0 290.0C144.3 297.0 144.2 299.1 143.0 304.5C141.8 309.9 141.2 314.1 139.0 322.5C136.8 330.9 132.8 345.4 130.0 355.0C127.2 364.6 124.8 370.4 122.5 380.0C120.2 389.6 118.1 403.3 116.0 412.5C113.9 421.7 112.2 428.2 110.0 435.0C107.8 441.8 103.8 450.4 102.5 453.5"/>
<path d="M302.0 1.0C299.4 7.9 291.8 29.8 286.5 42.5C281.2 55.2 276.0 66.1 270.5 77.5C265.0 88.9 257.9 103.2 253.3 111.0C248.7 118.8 246.4 119.8 243.0 124.0C239.6 128.2 239.8 128.4 233.0 136.0C226.2 143.6 208.8 161.3 202.0 169.5C195.2 177.7 195.4 178.7 192.5 185.0C189.6 191.3 186.6 199.6 184.5 207.5C182.4 215.4 181.6 221.7 180.0 232.5C178.4 243.3 175.9 263.6 175.0 272.5C174.1 281.4 174.8 281.4 174.5 286.0C174.2 290.6 173.4 294.3 173.0 300.0C172.6 305.7 172.8 311.7 172.3 320.0C171.9 328.3 171.4 337.9 170.3 350.0C169.2 362.1 167.6 380.8 165.5 392.5C163.4 404.2 161.6 409.8 158.0 420.0C154.4 430.2 146.3 447.9 144.0 453.5"/>
<path d="M374.0 1.0C369.0 10.2 350.6 44.3 344.0 56.0C337.4 67.7 336.9 66.6 334.5 71.0C332.1 75.4 331.4 78.5 329.5 82.5C327.6 86.5 327.3 87.5 323.0 95.0C318.7 102.5 309.6 119.4 303.8 127.5C298.0 135.6 294.0 137.9 288.4 143.4C282.8 148.9 274.7 156.2 270.0 160.5C265.3 164.8 265.1 164.8 260.0 169.5C254.9 174.2 246.2 182.1 239.5 189.0C232.8 195.9 223.9 205.4 219.5 211.0C215.1 216.6 215.2 218.7 213.0 222.5C210.8 226.3 208.2 228.6 206.0 234.0C203.8 239.4 201.2 246.5 199.5 255.0C197.8 263.5 196.6 274.2 196.0 285.0C195.4 295.8 195.8 311.0 196.0 320.0C196.2 329.0 196.4 331.5 197.0 339.0C197.6 346.5 198.6 356.9 199.5 365.0C200.4 373.1 201.8 381.5 202.5 387.5C203.2 393.5 203.7 396.4 204.0 401.0C204.3 405.6 204.8 410.2 204.6 415.0C204.4 419.8 204.1 425.6 203.0 430.0C201.9 434.4 200.3 437.6 198.3 441.5C196.3 445.4 192.1 451.5 190.8 453.5"/>
<path d="M466.5 1.0C460.8 6.5 443.1 22.7 432.0 34.0C420.9 45.3 406.8 61.3 400.0 69.0C393.2 76.7 394.1 76.3 391.5 80.0C388.9 83.7 389.8 83.1 384.3 91.1C378.8 99.1 365.1 118.5 358.5 128.0C351.9 137.4 349.0 142.5 344.8 147.8C340.6 153.1 337.0 156.3 333.3 160.0C329.6 163.7 328.7 165.1 322.6 169.7C316.6 174.3 304.7 181.9 297.0 187.5C289.3 193.1 281.6 199.3 276.6 203.5C271.6 207.7 270.1 209.3 267.0 212.5C263.9 215.7 261.8 217.5 258.0 222.5C254.2 227.5 248.0 235.4 244.5 242.5C241.0 249.6 238.9 257.5 237.0 265.0C235.1 272.5 233.8 279.2 233.0 287.5C232.2 295.8 232.0 306.4 232.0 315.0C232.0 323.6 232.1 329.4 233.0 339.0C233.9 348.6 236.6 364.8 237.5 372.5C238.4 380.2 238.1 380.6 238.5 385.0C238.9 389.4 239.6 393.2 240.0 399.0C240.4 404.8 241.2 413.2 241.0 420.0C240.8 426.8 239.8 434.4 239.0 440.0C238.2 445.6 236.9 451.2 236.5 453.5"/>
<path d="M487.5 74.0C480.2 79.2 458.8 94.2 444.0 105.0C429.2 115.8 408.1 132.0 399.0 139.0C389.9 146.0 392.4 144.2 389.5 147.0C386.6 149.8 385.1 151.8 381.5 155.5C377.9 159.2 371.6 165.8 368.0 169.5C364.4 173.2 364.4 173.2 360.0 177.5C355.6 181.8 349.4 188.6 341.6 195.0C333.8 201.4 321.8 209.2 313.4 216.0C305.0 222.8 296.9 229.8 291.0 235.7C285.1 241.6 281.2 246.6 277.9 251.5C274.6 256.4 273.2 260.6 271.3 265.0C269.4 269.4 267.9 273.7 266.5 278.0C265.1 282.3 263.8 284.8 263.0 291.0C262.2 297.2 261.5 307.0 261.5 315.0C261.5 323.0 261.9 327.8 263.0 339.0C264.1 350.2 266.7 370.2 268.0 382.5C269.3 394.8 270.7 403.8 271.0 412.5C271.3 421.2 270.3 428.2 270.0 435.0C269.7 441.8 269.2 450.4 269.0 453.5"/>
<path d="M487.5 160.0C481.9 161.5 462.9 166.6 454.0 169.0C445.1 171.4 439.3 173.0 434.0 174.5C428.7 176.0 426.0 176.8 422.0 178.0C418.0 179.2 415.9 179.3 410.0 182.0C404.1 184.7 393.3 189.5 386.5 194.0C379.7 198.5 376.1 201.8 369.0 209.0C361.9 216.2 351.8 228.6 344.0 237.5C336.2 246.4 328.2 255.4 322.0 262.5C315.8 269.6 310.5 275.2 307.0 280.0C303.5 284.8 302.5 286.9 301.0 291.0C299.5 295.1 298.8 300.1 298.0 304.5C297.2 308.9 295.9 311.2 296.3 317.5C296.7 323.8 298.7 332.5 300.5 342.5C302.3 352.5 305.4 365.8 307.2 377.5C308.9 389.2 310.5 399.8 311.0 412.5C311.5 425.2 310.4 446.7 310.3 453.5"/>
<path d="M487.5 270.5C483.2 270.1 467.2 268.5 461.5 268.0C455.8 267.5 456.4 267.9 453.5 267.5C450.6 267.1 448.9 266.4 444.0 265.8C439.1 265.2 429.4 263.9 424.0 264.0C418.6 264.1 415.6 264.6 411.5 266.5C407.4 268.4 403.2 271.8 399.5 275.5C395.8 279.2 392.0 283.2 389.0 288.5C386.0 293.8 383.3 301.0 381.5 307.5C379.7 314.0 378.8 321.7 378.0 327.5C377.2 333.3 377.0 336.2 377.0 342.5C377.0 348.8 377.3 357.9 378.0 365.0C378.7 372.1 380.2 380.1 381.0 385.0C381.8 389.9 382.3 391.2 383.0 394.5C383.7 397.8 383.3 399.5 385.0 405.0C386.7 410.5 389.9 419.4 393.0 427.5C396.1 435.6 401.8 449.2 403.5 453.5"/>
</g>
<g font-size="13.3" fill="#000" text-anchor="middle">
<g transform="translate(110.2 30.9) rotate(-63.4)"><rect x="-12.0" y="-3" width="24.0" height="6" fill="#fff"/><text x="0" y="4.9">30</text></g>
<g transform="translate(117.2 71.9) rotate(-66.1)"><rect x="-12.0" y="-3" width="24.0" height="6" fill="#fff"/><text x="0" y="4.9">28</text></g>
<g transform="translate(130.7 101.4) rotate(-66.3)"><rect x="-12.0" y="-3" width="24.0" height="6" fill="#fff"/><text x="0" y="4.9">26</text></g>
<g transform="translate(52.7 265.4) rotate(-68.0)"><text x="0" y="4.9">26</text></g>
<g transform="translate(196.2 21.9) rotate(-64.9)"><rect x="-12.0" y="-3" width="24.0" height="6" fill="#fff"/><text x="0" y="4.9">24</text></g>
<g transform="translate(119.2 187.9) rotate(-64.3)"><rect x="-12.0" y="-3" width="24.0" height="6" fill="#fff"/><text x="0" y="4.9">24</text></g>
<g transform="translate(64.7 360.9) rotate(-70.3)"><rect x="-12.0" y="-3" width="24.0" height="6" fill="#fff"/><text x="0" y="4.9">24</text></g>
<g transform="translate(198.2 81.9) rotate(-61.6)"><rect x="-12.0" y="-3" width="24.0" height="6" fill="#fff"/><text x="0" y="4.9">22</text></g>
<g transform="translate(126.7 249.9) rotate(-69.1)"><rect x="-12.0" y="-3" width="24.0" height="6" fill="#fff"/><text x="0" y="4.9">22</text></g>
<g transform="translate(74.2 424.9) rotate(-69.0)"><rect x="-12.0" y="-3" width="24.0" height="6" fill="#fff"/><text x="0" y="4.9">22</text></g>
<g transform="translate(197.2 130.9) rotate(-60.4)"><rect x="-12.0" y="-3" width="24.0" height="6" fill="#fff"/><text x="0" y="4.9">20</text></g>
<g transform="translate(143.2 305.4) rotate(-77.8)"><rect x="-12.0" y="-3" width="24.0" height="6" fill="#fff"/><text x="0" y="4.9">20</text></g>
<g transform="translate(243.2 124.9) rotate(-50.9)"><rect x="-12.0" y="-3" width="24.0" height="6" fill="#fff"/><text x="0" y="4.9">18</text></g>
<g transform="translate(174.7 286.9) rotate(-85.8)"><rect x="-12.0" y="-3" width="24.0" height="6" fill="#fff"/><text x="0" y="4.9">18</text></g>
<g transform="translate(329.7 83.4) rotate(-64.4)"><rect x="-12.0" y="-3" width="24.0" height="6" fill="#fff"/><text x="0" y="4.9">16</text></g>
<g transform="translate(213.2 223.4) rotate(-59.6)"><rect x="-12.0" y="-3" width="24.0" height="6" fill="#fff"/><text x="0" y="4.9">16</text></g>
<g transform="translate(204.2 401.9) rotate(85.6)"><rect x="-12.0" y="-3" width="24.0" height="6" fill="#fff"/><text x="0" y="4.9">16</text></g>
<g transform="translate(391.7 80.9) rotate(-54.6)"><rect x="-12.0" y="-3" width="24.0" height="6" fill="#fff"/><text x="0" y="4.9">14</text></g>
<g transform="translate(267.2 213.4) rotate(-45.6)"><rect x="-12.0" y="-3" width="24.0" height="6" fill="#fff"/><text x="0" y="4.9">14</text></g>
<g transform="translate(238.7 385.9) rotate(84.6)"><rect x="-12.0" y="-3" width="24.0" height="6" fill="#fff"/><text x="0" y="4.9">14</text></g>
<g transform="translate(389.7 147.9) rotate(-43.3)"><rect x="-12.0" y="-3" width="24.0" height="6" fill="#fff"/><text x="0" y="4.9">12</text></g>
<g transform="translate(266.7 278.9) rotate(-72.3)"><rect x="-12.0" y="-3" width="24.0" height="6" fill="#fff"/><text x="0" y="4.9">12</text></g>
<g transform="translate(422.2 178.9) rotate(-17.4)"><rect x="-12.0" y="-3" width="24.0" height="6" fill="#fff"/><text x="0" y="4.9">10</text></g>
<g transform="translate(298.2 305.4) rotate(-79.9)"><rect x="-12.0" y="-3" width="24.0" height="6" fill="#fff"/><text x="0" y="4.9">10</text></g>
<g transform="translate(453.7 268.4) rotate(7.2)"><rect x="-7.8" y="-3" width="15.5" height="6" fill="#fff"/><text x="0" y="4.9">8</text></g>
<g transform="translate(383.2 395.4) rotate(78.7)"><rect x="-7.8" y="-3" width="15.5" height="6" fill="#fff"/><text x="0" y="4.9">8</text></g>
</g>
<g fill="#f39200" stroke="#7a4a08" stroke-width="0.4">
<path d="M252.7 132.0h5.6l-2.8 4.7z"/>
<path d="M238.6 155.8h5.6l-2.8 4.7z"/>
<path d="M262.6 169.2h5.6l-2.8 4.7z"/>
<path d="M224.0 178.2h5.6l-2.8 4.7z"/>
<path d="M247.8 192.2h5.6l-2.8 4.7z"/>
<path d="M277.7 144.9h5.6l-2.8 4.7z"/>
<path d="M301.0 157.7h5.6l-2.8 4.7z"/>
<path d="M326.0 171.5h5.6l-2.8 4.7z"/>
<path d="M286.3 182.1h5.6l-2.8 4.7z"/>
<path d="M349.9 184.6h5.6l-2.8 4.7z"/>
<path d="M211.9 203.3h5.6l-2.8 4.7z"/>
<path d="M232.4 214.5h5.6l-2.8 4.7z"/>
<path d="M182.7 249.5h5.6l-2.8 4.7z"/>
<path d="M245.7 253.0h5.6l-2.8 4.7z"/>
<path d="M209.9 263.6h5.6l-2.8 4.7z"/>
<path d="M310.8 195.5h5.6l-2.8 4.7z"/>
<path d="M272.5 205.3h5.6l-2.8 4.7z"/>
<path d="M336.6 209.7h5.6l-2.8 4.7z"/>
<path d="M297.4 219.5h5.6l-2.8 4.7z"/>
<path d="M322.9 233.3h5.6l-2.8 4.7z"/>
<path d="M282.5 242.2h5.6l-2.8 4.7z"/>
<path d="M308.4 255.6h5.6l-2.8 4.7z"/>
<path d="M231.5 276.4h5.6l-2.8 4.7z"/>
<path d="M194.1 286.0h5.6l-2.8 4.7z"/>
<path d="M258.2 290.8h5.6l-2.8 4.7z"/>
<path d="M243.1 313.2h5.6l-2.8 4.7z"/>
<path d="M266.7 326.3h5.6l-2.8 4.7z"/>
<path d="M269.7 266.3h5.6l-2.8 4.7z"/>
<path d="M293.4 280.3h5.6l-2.8 4.7z"/>
<path d="M280.2 302.3h5.6l-2.8 4.7z"/>
<path d="M257.7 228.4h8.8l-4.4 7.2z"/>
</g>
<path d="M50 0.65H488.2M510.3 0.65H677.9" stroke="#b2b2b2" stroke-width="1.3"/>
<path d="M50.6 1V453.5H487.5V1" fill="none" stroke="#6e6e6e" stroke-width="1"/>
<g stroke="#4a4a4a" stroke-width="1">
<path d="M51 352.8h4.8M487 352.8h-4.8"/>
<path d="M51 252.2h4.8M487 252.2h-4.8"/>
<path d="M51 151.5h4.8M487 151.5h-4.8"/>
<path d="M51 50.9h4.8M487 50.9h-4.8"/>
<path d="M133.9 453v-4.8M133.9 1v4.8"/>
<path d="M217.2 453v-4.8M217.2 1v4.8"/>
<path d="M300.4 453v-4.8M300.4 1v4.8"/>
<path d="M383.7 453v-4.8M383.7 1v4.8"/>
<path d="M467.0 453v-4.8M467.0 1v4.8"/>
</g>
<path d="M50 475.5h0.6v164h-0.6zM487.8 475.5h0.4v164h-0.4z" fill="#fff"/>
<g stroke="#262626" stroke-opacity="0.11" stroke-width="1">
<path d="M552.4 1V454"/>
<path d="M594.1 1V454"/>
<path d="M635.8 1V454"/>
<path d="M510.7 352.8H677.5"/>
<path d="M510.7 252.2H677.5"/>
<path d="M510.7 151.5H677.5"/>
<path d="M510.7 50.9H677.5"/>
<path d="M133.9 476.2V638.6"/>
<path d="M217.2 476.2V638.6"/>
<path d="M300.4 476.2V638.6"/>
<path d="M383.7 476.2V638.6"/>
<path d="M467.0 476.2V638.6"/>
<path d="M50.6 516.4H487.8"/>
<path d="M50.6 557.1H487.8"/>
<path d="M50.6 597.9H487.8"/>
</g>
<g stroke="#262626" stroke-opacity="0.55" stroke-width="1">
<path d="M552.4 454v-4M552.4 1v4"/>
<path d="M594.1 454v-4M594.1 1v4"/>
<path d="M635.8 454v-4M635.8 1v4"/>
<path d="M510.7 352.8h4M677.5 352.8h-4"/>
<path d="M510.7 252.2h4M677.5 252.2h-4"/>
<path d="M510.7 151.5h4M677.5 151.5h-4"/>
<path d="M510.7 50.9h4M677.5 50.9h-4"/>
<path d="M133.9 638.6v-4M133.9 476.2v4"/>
<path d="M217.2 638.6v-4M217.2 476.2v4"/>
<path d="M300.4 638.6v-4M300.4 476.2v4"/>
<path d="M383.7 638.6v-4M383.7 476.2v4"/>
<path d="M467.0 638.6v-4M467.0 476.2v4"/>
<path d="M50.6 516.4h4M487.8 516.4h-4"/>
<path d="M50.6 557.1h4M487.8 557.1h-4"/>
<path d="M50.6 597.9h4M487.8 597.9h-4"/>
</g>
<g fill="none" stroke="#262626" stroke-opacity="0.55" stroke-width="1">
<rect x="511" y="1.5" width="166.3" height="452"/>
<rect x="50.9" y="476.5" width="436.7" height="161.9"/>
</g>
<defs><linearGradient id="jet" x1="0" y1="1" x2="0" y2="0"><stop offset="0" stop-color="#000080"/><stop offset="0.125" stop-color="#0000ff"/><stop offset="0.375" stop-color="#00ffff"/><stop offset="0.625" stop-color="#ffff00"/><stop offset="0.875" stop-color="#ff0000"/><stop offset="1" stop-color="#800000"/></linearGradient></defs>
<rect x="552.4" y="521" width="23.3" height="113.6" fill="url(#jet)"/>
<g stroke="#262626" stroke-opacity="0.75" stroke-width="0.9"><rect x="552.8" y="521.4" width="22.5" height="112.8" fill="none"/>
<path d="M553 606.5h1.8"/>
<path d="M553 577.5h1.8"/>
<path d="M553 549.5h1.8"/>
</g>
<g font-size="12.6" fill="#262626">
<text x="45.3" y="458.1" text-anchor="end">35.6</text>
<text x="45.3" y="357.4" text-anchor="end">35.8</text>
<text x="45.3" y="256.8" text-anchor="end">36</text>
<text x="45.3" y="156.1" text-anchor="end">36.2</text>
<text x="45.3" y="55.5" text-anchor="end">36.4</text>
<text x="552.7" y="470.4" text-anchor="middle">10</text>
<text x="594.4" y="470.4" text-anchor="middle">20</text>
<text x="636.1" y="470.4" text-anchor="middle">30</text>
<text x="677.8" y="470.4" text-anchor="middle">40</text>
<text x="46" y="521.0" text-anchor="end">10</text>
<text x="46" y="561.7" text-anchor="end">20</text>
<text x="46" y="602.5" text-anchor="end">30</text>
<text x="46" y="643.2" text-anchor="end">40</text>
<text x="51.4" y="655.4" text-anchor="middle">141.2</text>
<text x="134.7" y="655.4" text-anchor="middle">141.4</text>
<text x="218.0" y="655.4" text-anchor="middle">141.6</text>
<text x="301.2" y="655.4" text-anchor="middle">141.8</text>
<text x="384.5" y="655.4" text-anchor="middle">142</text>
<text x="467.8" y="655.4" text-anchor="middle">142.2</text>
<text x="547.7" y="639.6" text-anchor="end" font-size="12">0</text>
<text x="547.7" y="611.2" text-anchor="end" font-size="12">2</text>
<text x="547.7" y="582.8" text-anchor="end" font-size="12">4</text>
<text x="547.7" y="554.3" text-anchor="end" font-size="12">6</text>
<text x="547.7" y="525.9" text-anchor="end" font-size="12">8</text>
</g>
<g font-size="12.8" font-weight="bold" fill="#262626" text-anchor="middle">
<text transform="translate(10.6 227.2) rotate(-90)">Latitude</text>
<text transform="translate(22 557) rotate(-90)">Depth [km]</text>
<text x="269.4" y="671.8">Longitude</text>
<text x="594.5" y="486.6">Depth [km]</text>
</g>
<text transform="translate(534.3 578) rotate(-90)" font-size="10" fill="#404040" text-anchor="middle">[km/s]</text>
</svg>
</body></html>
